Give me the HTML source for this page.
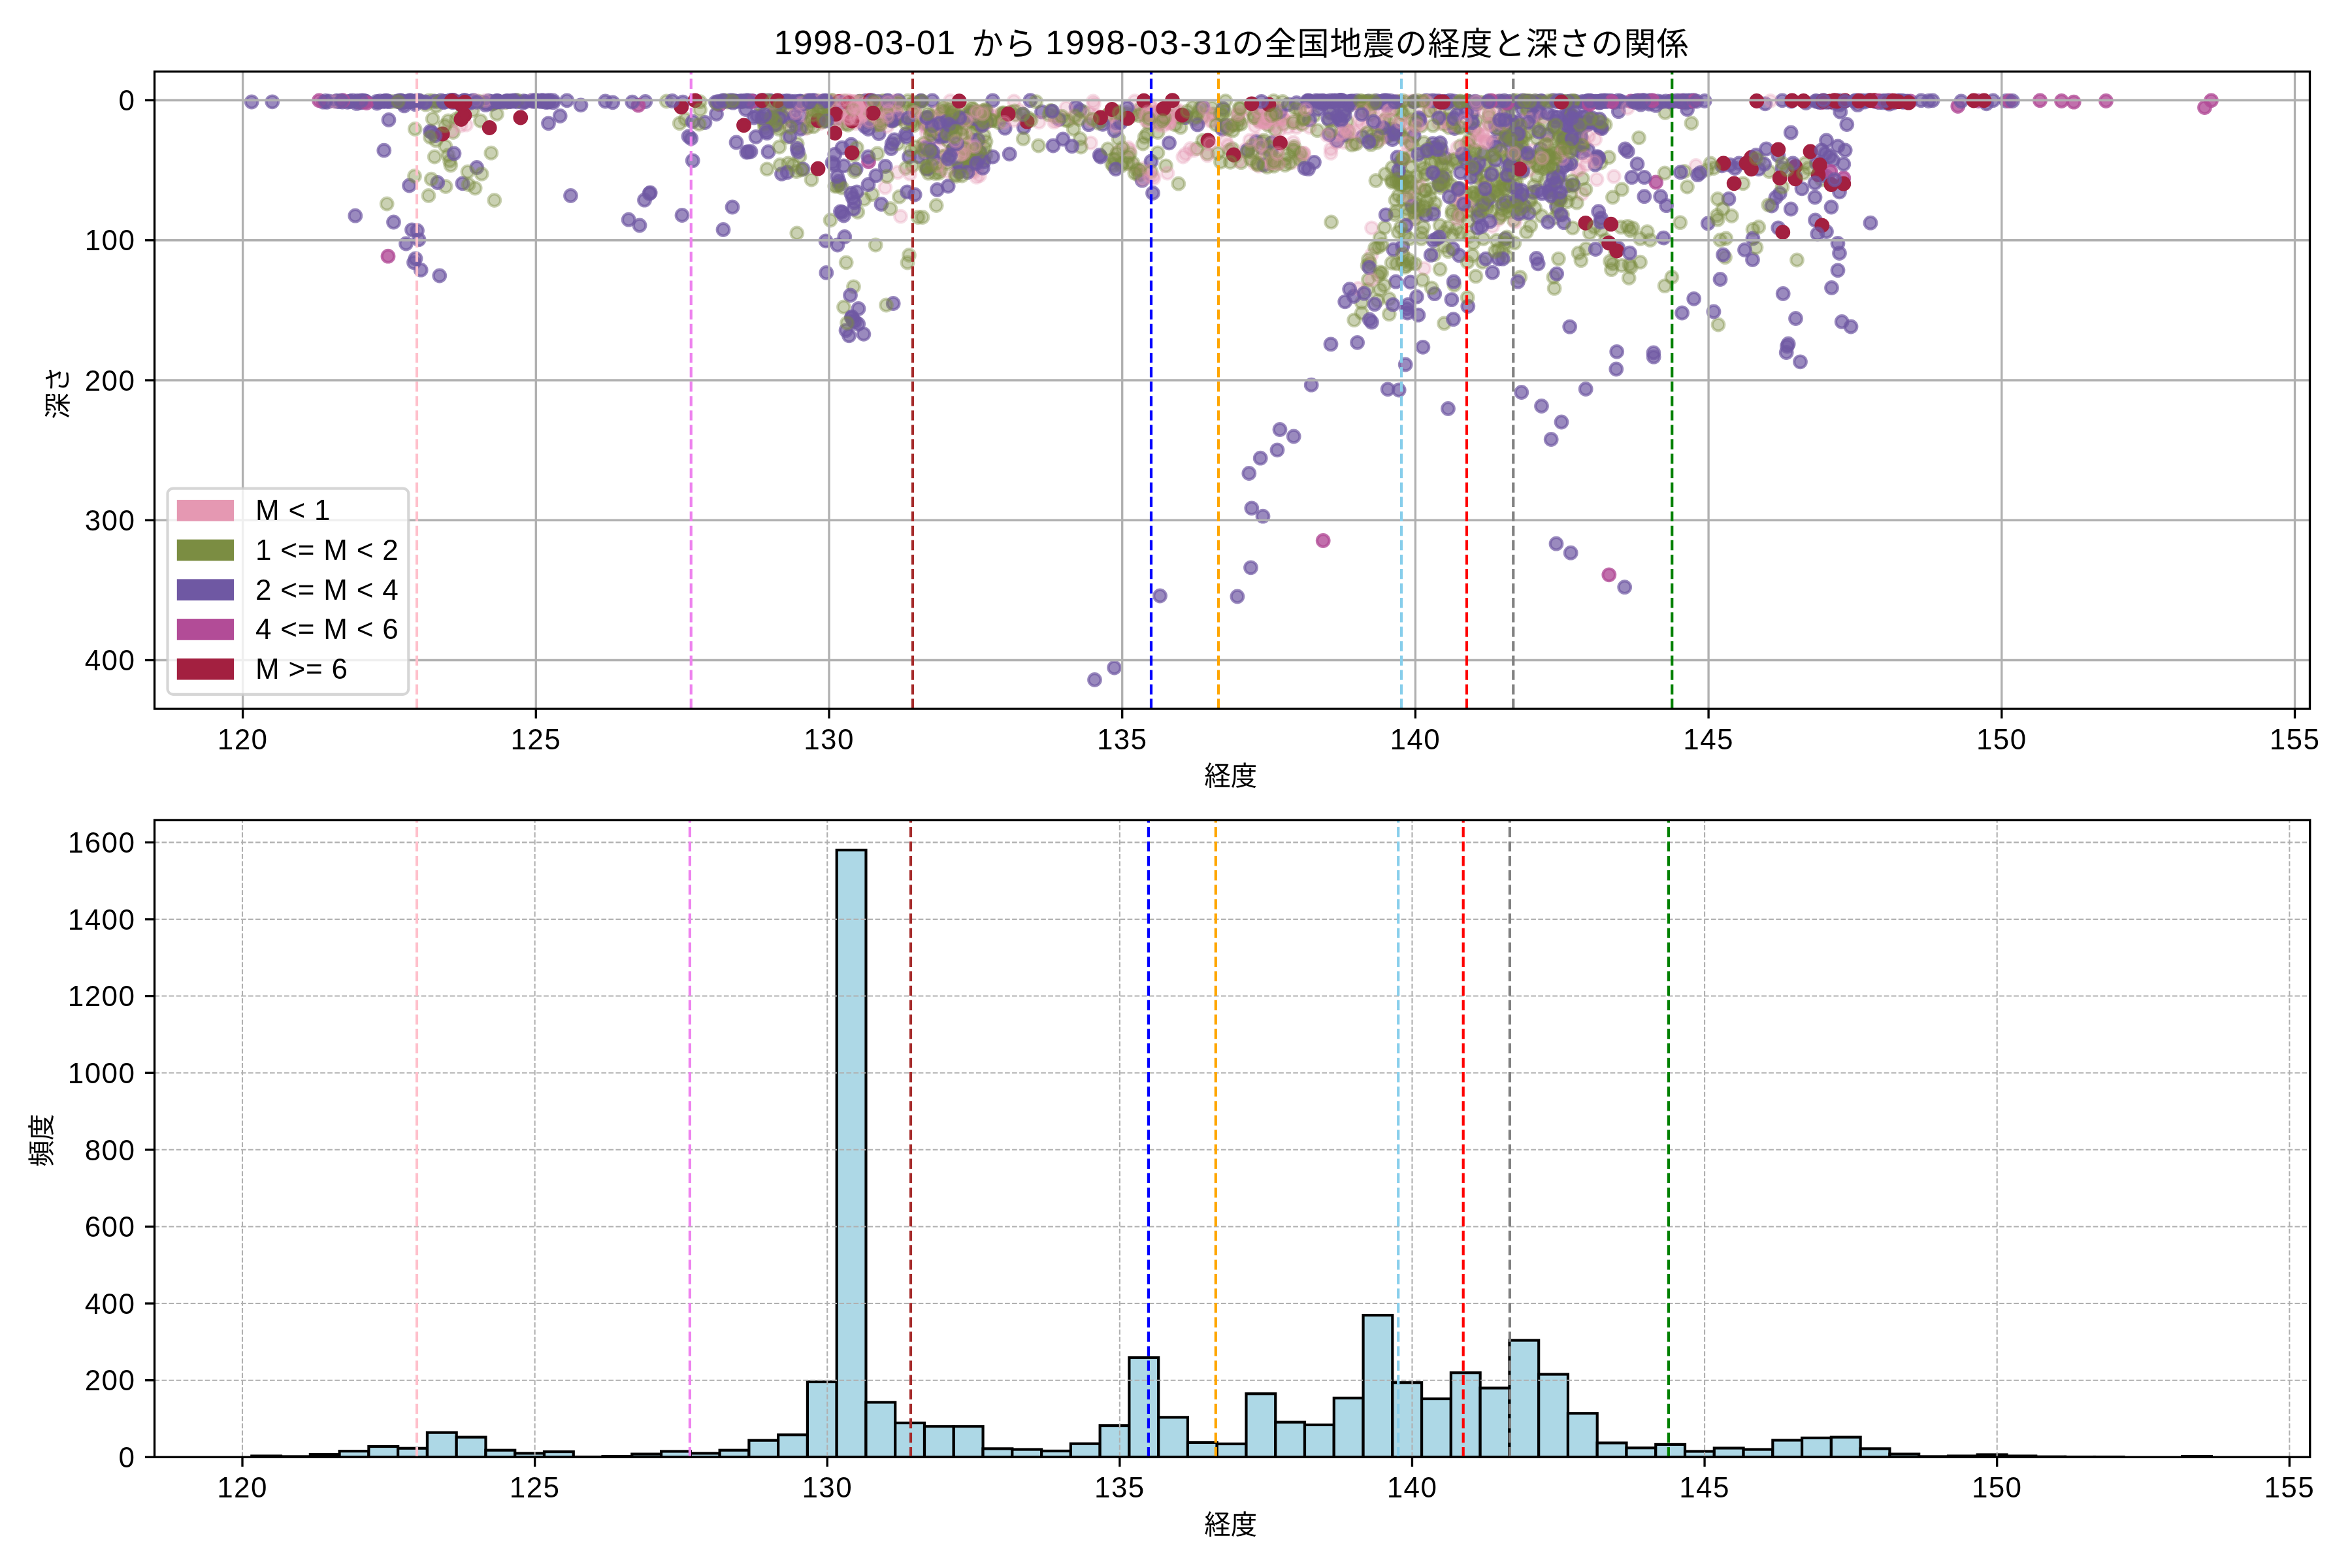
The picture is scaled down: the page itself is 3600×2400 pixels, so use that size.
<!DOCTYPE html><html lang="ja"><head><meta charset="utf-8"><title>地震の経度と深さ</title><style>html,body{margin:0;padding:0;background:#fff}svg{display:block;will-change:transform}text{font-family:"Liberation Sans","Noto Sans CJK JP",sans-serif;fill:#000}.t{font-size:44px;letter-spacing:1.4px}.lg{font-size:44px;letter-spacing:0.8px}.j{font-size:40.5px}
.p{fill:#E598B2;fill-opacity:0.3;stroke:#E598B2;stroke-opacity:0.3;stroke-width:4.17}
.g{fill:#7B8D42;fill-opacity:0.4;stroke:#7B8D42;stroke-opacity:0.4;stroke-width:4.17}
.u{fill:#6F58A3;fill-opacity:0.7;stroke:#6F58A3;stroke-opacity:0.7;stroke-width:4.17}
.m{fill:#B24C97;fill-opacity:0.8;stroke:#B24C97;stroke-opacity:0.8;stroke-width:4.17}
.c{fill:#A32040;fill-opacity:1;stroke:#A32040;stroke-opacity:1;stroke-width:4.17}
.g1{stroke:#b0b0b0;stroke-width:3.33}.g2{stroke:#b0b0b0;stroke-width:2.08;stroke-dasharray:7.7 3.33}.sp{fill:none;stroke:#000;stroke-width:3.33;stroke-linejoin:miter}.tk{stroke:#000;stroke-width:3.33}.vl{stroke-width:4.17;stroke-dasharray:15.4 6.67}.bar{fill:#ADD8E6;stroke:#000;stroke-width:4.17;stroke-linejoin:miter}
</style></head><body>
<svg width="3600" height="2400" viewBox="0 0 3600 2400">
<rect width="3600" height="2400" fill="#fff"/>
<defs><clipPath id="ct"><rect x="236.5" y="109.5" width="3299" height="975.5"/></clipPath><clipPath id="cb"><rect x="236.5" y="1255.4" width="3299.2" height="974.9"/></clipPath></defs>
<g clip-path="url(#ct)">
<circle class="u" cx="1159.0" cy="177.5" r="9.32"/>
<circle class="g" cx="698.5" cy="182.5" r="9.32"/>
<circle class="u" cx="627.8" cy="155.1" r="9.32"/>
<circle class="g" cx="2171.3" cy="326.1" r="9.32"/>
<circle class="u" cx="2124.2" cy="595.8" r="9.32"/>
<circle class="g" cx="2391.6" cy="329.0" r="9.32"/>
<circle class="u" cx="1218.1" cy="192.0" r="9.32"/>
<circle class="g" cx="2319.5" cy="306.0" r="9.32"/>
<circle class="p" cx="2162.8" cy="336.8" r="9.32"/>
<circle class="g" cx="2196.4" cy="311.3" r="9.32"/>
<circle class="g" cx="2352.8" cy="270.1" r="9.32"/>
<circle class="g" cx="2167.5" cy="303.5" r="9.32"/>
<circle class="u" cx="2131.2" cy="204.5" r="9.32"/>
<circle class="g" cx="2059.8" cy="166.9" r="9.32"/>
<circle class="g" cx="2365.7" cy="275.6" r="9.32"/>
<circle class="g" cx="2205.1" cy="286.7" r="9.32"/>
<circle class="u" cx="1236.8" cy="154.1" r="9.32"/>
<circle class="g" cx="2305.2" cy="240.7" r="9.32"/>
<circle class="g" cx="2462.6" cy="240.8" r="9.32"/>
<circle class="u" cx="2724.2" cy="296.2" r="9.32"/>
<circle class="u" cx="2314.1" cy="189.4" r="9.32"/>
<circle class="u" cx="2430.8" cy="155.3" r="9.32"/>
<circle class="g" cx="1509.1" cy="216.8" r="9.32"/>
<circle class="g" cx="2424.1" cy="224.6" r="9.32"/>
<circle class="p" cx="1374.2" cy="175.0" r="9.32"/>
<circle class="u" cx="3040.5" cy="158.8" r="9.32"/>
<circle class="g" cx="2183.4" cy="266.3" r="9.32"/>
<circle class="u" cx="2068.0" cy="155.5" r="9.32"/>
<circle class="m" cx="2534.7" cy="279.0" r="9.32"/>
<circle class="u" cx="503.7" cy="154.8" r="9.32"/>
<circle class="u" cx="753.2" cy="159.1" r="9.32"/>
<circle class="u" cx="831.5" cy="153.8" r="9.32"/>
<circle class="g" cx="1758.7" cy="189.4" r="9.32"/>
<circle class="u" cx="626.5" cy="284.0" r="9.32"/>
<circle class="p" cx="1258.6" cy="163.2" r="9.32"/>
<circle class="u" cx="2813.0" cy="413.8" r="9.32"/>
<circle class="p" cx="1929.7" cy="174.9" r="9.32"/>
<circle class="u" cx="2106.8" cy="154.5" r="9.32"/>
<circle class="u" cx="2497.7" cy="271.4" r="9.32"/>
<circle class="u" cx="2437.0" cy="180.6" r="9.32"/>
<circle class="g" cx="2464.5" cy="399.9" r="9.32"/>
<circle class="p" cx="2156.0" cy="216.5" r="9.32"/>
<circle class="u" cx="2407.6" cy="178.4" r="9.32"/>
<circle class="u" cx="995.2" cy="295.0" r="9.32"/>
<circle class="u" cx="1932.0" cy="226.2" r="9.32"/>
<circle class="p" cx="1552.0" cy="154.8" r="9.32"/>
<circle class="g" cx="1941.2" cy="191.6" r="9.32"/>
<circle class="g" cx="1306.5" cy="237.5" r="9.32"/>
<circle class="p" cx="1312.6" cy="164.6" r="9.32"/>
<circle class="g" cx="2218.1" cy="195.3" r="9.32"/>
<circle class="u" cx="1107.8" cy="154.5" r="9.32"/>
<circle class="p" cx="1731.1" cy="174.0" r="9.32"/>
<circle class="u" cx="2330.5" cy="153.9" r="9.32"/>
<circle class="u" cx="1955.0" cy="688.8" r="9.32"/>
<circle class="p" cx="1368.3" cy="172.7" r="9.32"/>
<circle class="g" cx="613.7" cy="154.5" r="9.32"/>
<circle class="g" cx="2165.9" cy="334.6" r="9.32"/>
<circle class="g" cx="1492.2" cy="184.4" r="9.32"/>
<circle class="g" cx="2668.0" cy="280.8" r="9.32"/>
<circle class="u" cx="1364.0" cy="227.5" r="9.32"/>
<circle class="u" cx="2299.7" cy="312.7" r="9.32"/>
<circle class="u" cx="987.8" cy="155.5" r="9.32"/>
<circle class="u" cx="2193.7" cy="226.7" r="9.32"/>
<circle class="u" cx="986.5" cy="306.2" r="9.32"/>
<circle class="g" cx="1249.6" cy="154.2" r="9.32"/>
<circle class="u" cx="2479.6" cy="155.0" r="9.32"/>
<circle class="g" cx="2304.2" cy="198.8" r="9.32"/>
<circle class="g" cx="1767.0" cy="175.0" r="9.32"/>
<circle class="g" cx="1276.2" cy="179.9" r="9.32"/>
<circle class="g" cx="642.5" cy="154.1" r="9.32"/>
<circle class="g" cx="2335.8" cy="235.3" r="9.32"/>
<circle class="p" cx="1919.5" cy="250.0" r="9.32"/>
<circle class="g" cx="2270.4" cy="365.5" r="9.32"/>
<circle class="u" cx="2451.7" cy="196.6" r="9.32"/>
<circle class="g" cx="1456.8" cy="197.9" r="9.32"/>
<circle class="g" cx="2385.5" cy="396.1" r="9.32"/>
<circle class="g" cx="1322.8" cy="305.0" r="9.32"/>
<circle class="u" cx="2177.9" cy="531.3" r="9.32"/>
<circle class="g" cx="1745.5" cy="266.7" r="9.32"/>
<circle class="u" cx="633.5" cy="401.8" r="9.32"/>
<circle class="g" cx="1533.4" cy="181.2" r="9.32"/>
<circle class="u" cx="559.7" cy="155.1" r="9.32"/>
<circle class="g" cx="1293.9" cy="189.5" r="9.32"/>
<circle class="u" cx="2158.8" cy="431.8" r="9.32"/>
<circle class="u" cx="2487.5" cy="228.0" r="9.32"/>
<circle class="g" cx="2153.9" cy="271.3" r="9.32"/>
<circle class="u" cx="1315.5" cy="155.1" r="9.32"/>
<circle class="u" cx="2486.7" cy="898.7" r="9.32"/>
<circle class="g" cx="1742.6" cy="267.9" r="9.32"/>
<circle class="g" cx="2122.2" cy="209.5" r="9.32"/>
<circle class="g" cx="2331.0" cy="227.1" r="9.32"/>
<circle class="u" cx="2429.3" cy="155.0" r="9.32"/>
<circle class="u" cx="2382.6" cy="316.1" r="9.32"/>
<circle class="p" cx="1294.7" cy="178.7" r="9.32"/>
<circle class="p" cx="1345.5" cy="164.8" r="9.32"/>
<circle class="p" cx="1326.3" cy="154.6" r="9.32"/>
<circle class="g" cx="2416.1" cy="387.2" r="9.32"/>
<circle class="u" cx="658.5" cy="201.2" r="9.32"/>
<circle class="g" cx="2320.2" cy="153.7" r="9.32"/>
<circle class="g" cx="2257.4" cy="233.6" r="9.32"/>
<circle class="p" cx="1940.3" cy="161.7" r="9.32"/>
<circle class="u" cx="2330.3" cy="167.4" r="9.32"/>
<circle class="g" cx="1373.8" cy="166.1" r="9.32"/>
<circle class="g" cx="2158.8" cy="204.0" r="9.32"/>
<circle class="g" cx="2253.4" cy="156.7" r="9.32"/>
<circle class="u" cx="2378.1" cy="194.1" r="9.32"/>
<circle class="u" cx="2225.8" cy="154.8" r="9.32"/>
<circle class="p" cx="2147.3" cy="389.1" r="9.32"/>
<circle class="g" cx="2061.6" cy="186.3" r="9.32"/>
<circle class="p" cx="2093.4" cy="191.4" r="9.32"/>
<circle class="g" cx="2468.4" cy="302.0" r="9.32"/>
<circle class="g" cx="2210.3" cy="190.3" r="9.32"/>
<circle class="g" cx="1471.5" cy="184.2" r="9.32"/>
<circle class="p" cx="1803.6" cy="168.9" r="9.32"/>
<circle class="g" cx="1136.7" cy="155.8" r="9.32"/>
<circle class="g" cx="2210.5" cy="495.0" r="9.32"/>
<circle class="u" cx="1705.6" cy="1022.0" r="9.32"/>
<circle class="u" cx="2429.0" cy="177.3" r="9.32"/>
<circle class="g" cx="1857.0" cy="175.0" r="9.32"/>
<circle class="g" cx="1439.9" cy="260.7" r="9.32"/>
<circle class="u" cx="1484.5" cy="177.5" r="9.32"/>
<circle class="u" cx="2076.2" cy="154.4" r="9.32"/>
<circle class="p" cx="1500.7" cy="193.4" r="9.32"/>
<circle class="u" cx="2525.1" cy="155.1" r="9.32"/>
<circle class="p" cx="2117.8" cy="185.6" r="9.32"/>
<circle class="g" cx="2100.1" cy="206.9" r="9.32"/>
<circle class="p" cx="1934.0" cy="183.6" r="9.32"/>
<circle class="u" cx="1194.0" cy="163.8" r="9.32"/>
<circle class="g" cx="1747.0" cy="172.5" r="9.32"/>
<circle class="p" cx="2413.7" cy="260.7" r="9.32"/>
<circle class="g" cx="600.4" cy="155.5" r="9.32"/>
<circle class="u" cx="1241.6" cy="154.9" r="9.32"/>
<circle class="p" cx="1560.8" cy="169.3" r="9.32"/>
<circle class="u" cx="2246.8" cy="468.8" r="9.32"/>
<circle class="g" cx="2175.0" cy="193.0" r="9.32"/>
<circle class="u" cx="2815.5" cy="387.5" r="9.32"/>
<circle class="u" cx="2566.7" cy="153.9" r="9.32"/>
<circle class="p" cx="2293.5" cy="335.9" r="9.32"/>
<circle class="p" cx="2346.4" cy="229.7" r="9.32"/>
<circle class="u" cx="1171.3" cy="155.8" r="9.32"/>
<circle class="u" cx="2195.8" cy="449.7" r="9.32"/>
<circle class="u" cx="2920.4" cy="155.7" r="9.32"/>
<circle class="p" cx="1399.6" cy="170.2" r="9.32"/>
<circle class="u" cx="2661.8" cy="250.0" r="9.32"/>
<circle class="p" cx="2042.6" cy="182.1" r="9.32"/>
<circle class="u" cx="2262.0" cy="321.5" r="9.32"/>
<circle class="g" cx="1242.1" cy="180.7" r="9.32"/>
<circle class="g" cx="1499.2" cy="190.6" r="9.32"/>
<circle class="p" cx="1921.6" cy="168.4" r="9.32"/>
<circle class="g" cx="1321.6" cy="177.7" r="9.32"/>
<circle class="g" cx="2418.7" cy="217.1" r="9.32"/>
<circle class="g" cx="2378.8" cy="333.7" r="9.32"/>
<circle class="g" cx="1040.2" cy="188.8" r="9.32"/>
<circle class="g" cx="2405.9" cy="244.1" r="9.32"/>
<circle class="g" cx="2136.0" cy="306.2" r="9.32"/>
<circle class="u" cx="2307.2" cy="198.9" r="9.32"/>
<circle class="g" cx="2040.0" cy="167.6" r="9.32"/>
<circle class="m" cx="2471.0" cy="156.4" r="9.32"/>
<circle class="g" cx="2150.5" cy="408.9" r="9.32"/>
<circle class="g" cx="2368.2" cy="238.5" r="9.32"/>
<circle class="u" cx="2143.9" cy="248.6" r="9.32"/>
<circle class="u" cx="758.1" cy="156.8" r="9.32"/>
<circle class="u" cx="1306.0" cy="490.7" r="9.32"/>
<circle class="u" cx="2373.4" cy="283.4" r="9.32"/>
<circle class="p" cx="2595.9" cy="253.5" r="9.32"/>
<circle class="g" cx="2340.7" cy="306.9" r="9.32"/>
<circle class="p" cx="1311.8" cy="169.5" r="9.32"/>
<circle class="g" cx="2348.2" cy="176.6" r="9.32"/>
<circle class="p" cx="1460.4" cy="218.1" r="9.32"/>
<circle class="u" cx="602.5" cy="340.0" r="9.32"/>
<circle class="u" cx="2823.0" cy="154.5" r="9.32"/>
<circle class="u" cx="588.8" cy="154.7" r="9.32"/>
<circle class="g" cx="2359.6" cy="330.5" r="9.32"/>
<circle class="u" cx="2369.5" cy="340.0" r="9.32"/>
<circle class="p" cx="1323.1" cy="155.9" r="9.32"/>
<circle class="g" cx="1755.8" cy="205.0" r="9.32"/>
<circle class="g" cx="2254.2" cy="316.2" r="9.32"/>
<circle class="u" cx="926.5" cy="155.0" r="9.32"/>
<circle class="u" cx="1708.2" cy="187.5" r="9.32"/>
<circle class="g" cx="2164.4" cy="294.9" r="9.32"/>
<circle class="g" cx="2422.4" cy="273.3" r="9.32"/>
<circle class="u" cx="2577.5" cy="153.7" r="9.32"/>
<circle class="g" cx="2548.1" cy="437.6" r="9.32"/>
<circle class="p" cx="1446.5" cy="173.6" r="9.32"/>
<circle class="u" cx="2122.0" cy="154.0" r="9.32"/>
<circle class="g" cx="2320.7" cy="278.3" r="9.32"/>
<circle class="u" cx="2393.8" cy="340.6" r="9.32"/>
<circle class="u" cx="2779.7" cy="154.3" r="9.32"/>
<circle class="u" cx="2442.5" cy="155.1" r="9.32"/>
<circle class="u" cx="832.3" cy="154.6" r="9.32"/>
<circle class="g" cx="2225.8" cy="436.3" r="9.32"/>
<circle class="g" cx="1687.0" cy="185.0" r="9.32"/>
<circle class="g" cx="1712.0" cy="212.5" r="9.32"/>
<circle class="g" cx="1442.0" cy="172.5" r="9.32"/>
<circle class="g" cx="1352.9" cy="154.4" r="9.32"/>
<circle class="p" cx="2153.0" cy="205.9" r="9.32"/>
<circle class="u" cx="2456.3" cy="154.0" r="9.32"/>
<circle class="p" cx="1293.4" cy="172.5" r="9.32"/>
<circle class="p" cx="2041.9" cy="210.3" r="9.32"/>
<circle class="g" cx="1848.0" cy="235.2" r="9.32"/>
<circle class="g" cx="2283.1" cy="264.9" r="9.32"/>
<circle class="g" cx="1114.5" cy="156.1" r="9.32"/>
<circle class="u" cx="2226.5" cy="196.5" r="9.32"/>
<circle class="g" cx="2388.5" cy="155.0" r="9.32"/>
<circle class="u" cx="2397.8" cy="284.4" r="9.32"/>
<circle class="g" cx="1224.0" cy="240.0" r="9.32"/>
<circle class="u" cx="2401.3" cy="187.3" r="9.32"/>
<circle class="g" cx="1189.0" cy="192.5" r="9.32"/>
<circle class="u" cx="1225.7" cy="155.1" r="9.32"/>
<circle class="g" cx="2457.5" cy="367.4" r="9.32"/>
<circle class="p" cx="2421.2" cy="296.9" r="9.32"/>
<circle class="g" cx="2340.5" cy="203.0" r="9.32"/>
<circle class="u" cx="2844.3" cy="153.9" r="9.32"/>
<circle class="u" cx="2139.0" cy="240.6" r="9.32"/>
<circle class="p" cx="2163.9" cy="321.3" r="9.32"/>
<circle class="m" cx="1101.5" cy="160.0" r="9.32"/>
<circle class="u" cx="2427.2" cy="595.5" r="9.32"/>
<circle class="g" cx="1295.2" cy="401.8" r="9.32"/>
<circle class="g" cx="760.5" cy="174.5" r="9.32"/>
<circle class="g" cx="2062.5" cy="208.7" r="9.32"/>
<circle class="g" cx="1957.6" cy="181.0" r="9.32"/>
<circle class="u" cx="1416.5" cy="189.9" r="9.32"/>
<circle class="u" cx="2728.0" cy="153.8" r="9.32"/>
<circle class="u" cx="2003.0" cy="155.0" r="9.32"/>
<circle class="p" cx="1669.5" cy="218.8" r="9.32"/>
<circle class="g" cx="1752.0" cy="210.0" r="9.32"/>
<circle class="g" cx="2216.8" cy="347.7" r="9.32"/>
<circle class="u" cx="2321.3" cy="217.1" r="9.32"/>
<circle class="u" cx="1179.5" cy="181.7" r="9.32"/>
<circle class="p" cx="1298.0" cy="180.0" r="9.32"/>
<circle class="p" cx="1923.2" cy="213.1" r="9.32"/>
<circle class="p" cx="1869.0" cy="193.6" r="9.32"/>
<circle class="u" cx="3070.5" cy="154.5" r="9.32"/>
<circle class="p" cx="1245.8" cy="155.9" r="9.32"/>
<circle class="p" cx="1752.0" cy="257.5" r="9.32"/>
<circle class="g" cx="2420.4" cy="210.9" r="9.32"/>
<circle class="g" cx="2630.0" cy="497.0" r="9.32"/>
<circle class="g" cx="1940.8" cy="169.4" r="9.32"/>
<circle class="u" cx="1211.5" cy="185.0" r="9.32"/>
<circle class="g" cx="1170.6" cy="195.6" r="9.32"/>
<circle class="u" cx="2368.6" cy="206.4" r="9.32"/>
<circle class="u" cx="2701.8" cy="158.8" r="9.32"/>
<circle class="g" cx="2420.3" cy="223.6" r="9.32"/>
<circle class="g" cx="1186.5" cy="163.3" r="9.32"/>
<circle class="u" cx="2721.8" cy="238.0" r="9.32"/>
<circle class="g" cx="1480.7" cy="238.0" r="9.32"/>
<circle class="u" cx="1420.5" cy="183.3" r="9.32"/>
<circle class="g" cx="727.2" cy="288.0" r="9.32"/>
<circle class="u" cx="2537.4" cy="154.9" r="9.32"/>
<circle class="u" cx="2899.3" cy="155.1" r="9.32"/>
<circle class="u" cx="2473.8" cy="565.0" r="9.32"/>
<circle class="p" cx="1939.5" cy="185.0" r="9.32"/>
<circle class="m" cx="2924.2" cy="155.0" r="9.32"/>
<circle class="p" cx="1418.2" cy="203.0" r="9.32"/>
<circle class="u" cx="1429.5" cy="210.0" r="9.32"/>
<circle class="u" cx="3050.5" cy="153.8" r="9.32"/>
<circle class="p" cx="2289.0" cy="220.5" r="9.32"/>
<circle class="g" cx="2112.2" cy="364.2" r="9.32"/>
<circle class="u" cx="2193.2" cy="219.7" r="9.32"/>
<circle class="g" cx="1522.3" cy="184.6" r="9.32"/>
<circle class="u" cx="611.1" cy="155.6" r="9.32"/>
<circle class="g" cx="2337.6" cy="167.9" r="9.32"/>
<circle class="g" cx="1204.0" cy="210.0" r="9.32"/>
<circle class="u" cx="2322.2" cy="216.0" r="9.32"/>
<circle class="p" cx="1309.6" cy="162.3" r="9.32"/>
<circle class="g" cx="2243.8" cy="295.9" r="9.32"/>
<circle class="u" cx="2057.0" cy="169.8" r="9.32"/>
<circle class="g" cx="2153.3" cy="304.3" r="9.32"/>
<circle class="g" cx="1807.0" cy="195.0" r="9.32"/>
<circle class="u" cx="1870.8" cy="197.5" r="9.32"/>
<circle class="p" cx="2332.7" cy="194.5" r="9.32"/>
<circle class="p" cx="2173.9" cy="177.7" r="9.32"/>
<circle class="u" cx="1192.0" cy="155.1" r="9.32"/>
<circle class="g" cx="2381.7" cy="253.3" r="9.32"/>
<circle class="p" cx="1314.7" cy="185.3" r="9.32"/>
<circle class="g" cx="1356.5" cy="173.8" r="9.32"/>
<circle class="g" cx="656.6" cy="153.8" r="9.32"/>
<circle class="p" cx="1984.5" cy="195.0" r="9.32"/>
<circle class="u" cx="2216.5" cy="625.5" r="9.32"/>
<circle class="u" cx="1683.2" cy="237.5" r="9.32"/>
<circle class="u" cx="2598.5" cy="267.6" r="9.32"/>
<circle class="u" cx="1044.0" cy="329.5" r="9.32"/>
<circle class="g" cx="2235.9" cy="288.9" r="9.32"/>
<circle class="p" cx="1331.2" cy="175.8" r="9.32"/>
<circle class="g" cx="2317.9" cy="371.9" r="9.32"/>
<circle class="u" cx="2285.7" cy="217.8" r="9.32"/>
<circle class="g" cx="723.5" cy="168.8" r="9.32"/>
<circle class="p" cx="1875.9" cy="215.6" r="9.32"/>
<circle class="g" cx="1798.8" cy="190.9" r="9.32"/>
<circle class="p" cx="2226.6" cy="156.1" r="9.32"/>
<circle class="u" cx="1485.5" cy="250.8" r="9.32"/>
<circle class="p" cx="1762.4" cy="165.0" r="9.32"/>
<circle class="u" cx="2093.9" cy="154.8" r="9.32"/>
<circle class="p" cx="1959.9" cy="174.6" r="9.32"/>
<circle class="p" cx="2142.9" cy="155.9" r="9.32"/>
<circle class="g" cx="1376.5" cy="301.2" r="9.32"/>
<circle class="p" cx="1328.9" cy="168.5" r="9.32"/>
<circle class="g" cx="2214.1" cy="276.2" r="9.32"/>
<circle class="u" cx="820.4" cy="154.5" r="9.32"/>
<circle class="g" cx="2093.1" cy="406.3" r="9.32"/>
<circle class="u" cx="2883.0" cy="155.0" r="9.32"/>
<circle class="u" cx="2805.5" cy="245.0" r="9.32"/>
<circle class="u" cx="2303.6" cy="190.0" r="9.32"/>
<circle class="u" cx="1762.0" cy="247.0" r="9.32"/>
<circle class="p" cx="1312.6" cy="170.1" r="9.32"/>
<circle class="g" cx="2126.3" cy="457.3" r="9.32"/>
<circle class="p" cx="2037.0" cy="228.0" r="9.32"/>
<circle class="p" cx="1316.5" cy="181.9" r="9.32"/>
<circle class="g" cx="2297.7" cy="182.9" r="9.32"/>
<circle class="u" cx="591.2" cy="154.2" r="9.32"/>
<circle class="g" cx="1931.9" cy="217.8" r="9.32"/>
<circle class="u" cx="2036.3" cy="173.0" r="9.32"/>
<circle class="p" cx="2057.1" cy="217.6" r="9.32"/>
<circle class="u" cx="1277.8" cy="236.2" r="9.32"/>
<circle class="g" cx="2146.8" cy="211.2" r="9.32"/>
<circle class="u" cx="2448.7" cy="194.9" r="9.32"/>
<circle class="u" cx="2232.8" cy="288.4" r="9.32"/>
<circle class="g" cx="1992.0" cy="240.0" r="9.32"/>
<circle class="p" cx="1325.0" cy="169.2" r="9.32"/>
<circle class="g" cx="1317.0" cy="155.1" r="9.32"/>
<circle class="u" cx="706.4" cy="160.9" r="9.32"/>
<circle class="g" cx="2288.6" cy="260.3" r="9.32"/>
<circle class="u" cx="1458.9" cy="229.0" r="9.32"/>
<circle class="u" cx="1225.3" cy="177.2" r="9.32"/>
<circle class="u" cx="839.5" cy="188.8" r="9.32"/>
<circle class="g" cx="1374.0" cy="220.0" r="9.32"/>
<circle class="p" cx="1328.0" cy="172.0" r="9.32"/>
<circle class="u" cx="2016.6" cy="156.4" r="9.32"/>
<circle class="g" cx="1634.5" cy="185.0" r="9.32"/>
<circle class="u" cx="1359.0" cy="153.8" r="9.32"/>
<circle class="g" cx="2380.2" cy="287.9" r="9.32"/>
<circle class="g" cx="1453.8" cy="193.6" r="9.32"/>
<circle class="u" cx="2758.0" cy="288.8" r="9.32"/>
<circle class="p" cx="2340.7" cy="260.3" r="9.32"/>
<circle class="u" cx="2807.5" cy="157.7" r="9.32"/>
<circle class="p" cx="2179.8" cy="410.8" r="9.32"/>
<circle class="g" cx="2090.8" cy="155.4" r="9.32"/>
<circle class="p" cx="1301.3" cy="156.0" r="9.32"/>
<circle class="u" cx="839.0" cy="155.2" r="9.32"/>
<circle class="g" cx="1754.9" cy="171.2" r="9.32"/>
<circle class="u" cx="2506.2" cy="154.2" r="9.32"/>
<circle class="u" cx="1980.2" cy="668.0" r="9.32"/>
<circle class="g" cx="2496.4" cy="408.9" r="9.32"/>
<circle class="u" cx="1321.9" cy="511.3" r="9.32"/>
<circle class="g" cx="2096.9" cy="402.5" r="9.32"/>
<circle class="u" cx="1196.5" cy="266.2" r="9.32"/>
<circle class="g" cx="2254.3" cy="302.6" r="9.32"/>
<circle class="p" cx="1234.9" cy="154.0" r="9.32"/>
<circle class="u" cx="2154.3" cy="479.0" r="9.32"/>
<circle class="p" cx="1960.4" cy="179.1" r="9.32"/>
<circle class="p" cx="2247.2" cy="155.5" r="9.32"/>
<circle class="u" cx="2392.2" cy="228.6" r="9.32"/>
<circle class="u" cx="2891.9" cy="159.1" r="9.32"/>
<circle class="u" cx="2377.9" cy="153.6" r="9.32"/>
<circle class="m" cx="2496.2" cy="155.0" r="9.32"/>
<circle class="u" cx="2476.7" cy="379.5" r="9.32"/>
<circle class="g" cx="2419.1" cy="202.5" r="9.32"/>
<circle class="p" cx="2335.9" cy="182.2" r="9.32"/>
<circle class="u" cx="2508.6" cy="154.0" r="9.32"/>
<circle class="g" cx="2339.6" cy="154.1" r="9.32"/>
<circle class="p" cx="1336.9" cy="164.1" r="9.32"/>
<circle class="u" cx="682.0" cy="155.4" r="9.32"/>
<circle class="u" cx="2863.0" cy="341.2" r="9.32"/>
<circle class="u" cx="2382.0" cy="832.2" r="9.32"/>
<circle class="u" cx="2794.2" cy="235.0" r="9.32"/>
<circle class="g" cx="1355.7" cy="156.6" r="9.32"/>
<circle class="u" cx="640.4" cy="153.8" r="9.32"/>
<circle class="g" cx="2270.2" cy="157.2" r="9.32"/>
<circle class="u" cx="774.8" cy="154.6" r="9.32"/>
<circle class="g" cx="682.2" cy="285.5" r="9.32"/>
<circle class="p" cx="1932.2" cy="174.6" r="9.32"/>
<circle class="u" cx="1577.0" cy="153.6" r="9.32"/>
<circle class="u" cx="2531.2" cy="546.2" r="9.32"/>
<circle class="u" cx="1285.2" cy="282.5" r="9.32"/>
<circle class="u" cx="2430.6" cy="229.5" r="9.32"/>
<circle class="g" cx="1259.1" cy="186.3" r="9.32"/>
<circle class="g" cx="2097.0" cy="175.1" r="9.32"/>
<circle class="p" cx="1211.5" cy="176.2" r="9.32"/>
<circle class="u" cx="1264.8" cy="417.5" r="9.32"/>
<circle class="g" cx="1553.0" cy="169.9" r="9.32"/>
<circle class="u" cx="2058.2" cy="206.3" r="9.32"/>
<circle class="g" cx="1312.8" cy="324.5" r="9.32"/>
<circle class="u" cx="2183.2" cy="154.0" r="9.32"/>
<circle class="u" cx="1345.2" cy="204.5" r="9.32"/>
<circle class="u" cx="2897.7" cy="157.4" r="9.32"/>
<circle class="u" cx="2813.0" cy="372.5" r="9.32"/>
<circle class="p" cx="2270.0" cy="207.5" r="9.32"/>
<circle class="g" cx="1413.6" cy="219.6" r="9.32"/>
<circle class="p" cx="1767.4" cy="172.3" r="9.32"/>
<circle class="u" cx="2741.8" cy="155.0" r="9.32"/>
<circle class="p" cx="1324.4" cy="166.8" r="9.32"/>
<circle class="u" cx="1125.0" cy="154.6" r="9.32"/>
<circle class="p" cx="1674.5" cy="158.8" r="9.32"/>
<circle class="u" cx="2358.0" cy="227.8" r="9.32"/>
<circle class="g" cx="2157.5" cy="277.1" r="9.32"/>
<circle class="g" cx="2280.5" cy="190.2" r="9.32"/>
<circle class="u" cx="2353.6" cy="291.9" r="9.32"/>
<circle class="g" cx="2357.8" cy="235.4" r="9.32"/>
<circle class="p" cx="1797.0" cy="177.5" r="9.32"/>
<circle class="u" cx="2951.8" cy="154.5" r="9.32"/>
<circle class="g" cx="1509.0" cy="237.2" r="9.32"/>
<circle class="g" cx="1442.5" cy="239.7" r="9.32"/>
<circle class="u" cx="2393.1" cy="211.5" r="9.32"/>
<circle class="g" cx="2393.9" cy="155.9" r="9.32"/>
<circle class="u" cx="747.6" cy="154.5" r="9.32"/>
<circle class="g" cx="2135.2" cy="167.2" r="9.32"/>
<circle class="u" cx="1594.5" cy="171.2" r="9.32"/>
<circle class="u" cx="1488.7" cy="172.6" r="9.32"/>
<circle class="u" cx="2255.8" cy="157.5" r="9.32"/>
<circle class="g" cx="1460.5" cy="169.3" r="9.32"/>
<circle class="g" cx="1886.2" cy="227.6" r="9.32"/>
<circle class="u" cx="2843.4" cy="160.7" r="9.32"/>
<circle class="p" cx="1305.7" cy="155.5" r="9.32"/>
<circle class="u" cx="546.7" cy="154.3" r="9.32"/>
<circle class="g" cx="1926.8" cy="183.6" r="9.32"/>
<circle class="u" cx="545.9" cy="158.4" r="9.32"/>
<circle class="g" cx="1980.8" cy="224.3" r="9.32"/>
<circle class="g" cx="2582.5" cy="286.0" r="9.32"/>
<circle class="u" cx="1933.0" cy="790.2" r="9.32"/>
<circle class="g" cx="2160.0" cy="278.8" r="9.32"/>
<circle class="p" cx="1353.7" cy="163.6" r="9.32"/>
<circle class="g" cx="1745.8" cy="166.1" r="9.32"/>
<circle class="g" cx="1335.2" cy="297.5" r="9.32"/>
<circle class="u" cx="1204.0" cy="155.1" r="9.32"/>
<circle class="u" cx="1932.0" cy="164.5" r="9.32"/>
<circle class="g" cx="1389.7" cy="154.1" r="9.32"/>
<circle class="u" cx="1107.3" cy="155.6" r="9.32"/>
<circle class="g" cx="693.5" cy="202.5" r="9.32"/>
<circle class="u" cx="2389.0" cy="155.3" r="9.32"/>
<circle class="g" cx="2315.7" cy="154.4" r="9.32"/>
<circle class="g" cx="2196.5" cy="166.6" r="9.32"/>
<circle class="u" cx="2123.0" cy="161.2" r="9.32"/>
<circle class="g" cx="2352.2" cy="253.8" r="9.32"/>
<circle class="p" cx="1710.8" cy="232.8" r="9.32"/>
<circle class="g" cx="2259.1" cy="270.0" r="9.32"/>
<circle class="p" cx="1415.9" cy="193.0" r="9.32"/>
<circle class="u" cx="2814.3" cy="153.7" r="9.32"/>
<circle class="u" cx="2423.2" cy="156.3" r="9.32"/>
<circle class="p" cx="1791.7" cy="186.7" r="9.32"/>
<circle class="u" cx="2202.9" cy="282.8" r="9.32"/>
<circle class="g" cx="2272.2" cy="252.2" r="9.32"/>
<circle class="p" cx="1469.6" cy="172.4" r="9.32"/>
<circle class="u" cx="593.2" cy="154.6" r="9.32"/>
<circle class="p" cx="2417.3" cy="260.0" r="9.32"/>
<circle class="g" cx="1487.9" cy="259.6" r="9.32"/>
<circle class="u" cx="2182.5" cy="329.2" r="9.32"/>
<circle class="m" cx="2914.0" cy="155.9" r="9.32"/>
<circle class="p" cx="2119.0" cy="169.5" r="9.32"/>
<circle class="g" cx="2105.9" cy="276.5" r="9.32"/>
<circle class="g" cx="2248.6" cy="223.1" r="9.32"/>
<circle class="u" cx="729.8" cy="256.5" r="9.32"/>
<circle class="p" cx="1733.3" cy="253.3" r="9.32"/>
<circle class="g" cx="2034.8" cy="185.3" r="9.32"/>
<circle class="g" cx="1219.8" cy="357.0" r="9.32"/>
<circle class="g" cx="1455.7" cy="177.1" r="9.32"/>
<circle class="g" cx="1704.7" cy="243.7" r="9.32"/>
<circle class="g" cx="2084.2" cy="463.1" r="9.32"/>
<circle class="p" cx="1754.9" cy="185.2" r="9.32"/>
<circle class="g" cx="2086.8" cy="169.3" r="9.32"/>
<circle class="u" cx="762.2" cy="154.9" r="9.32"/>
<circle class="g" cx="1405.2" cy="332.5" r="9.32"/>
<circle class="u" cx="2803.0" cy="317.0" r="9.32"/>
<circle class="g" cx="2214.6" cy="184.5" r="9.32"/>
<circle class="u" cx="2446.7" cy="240.8" r="9.32"/>
<circle class="p" cx="2262.3" cy="195.0" r="9.32"/>
<circle class="g" cx="1462.0" cy="267.5" r="9.32"/>
<circle class="u" cx="2199.6" cy="269.6" r="9.32"/>
<circle class="p" cx="1287.2" cy="168.7" r="9.32"/>
<circle class="p" cx="1928.9" cy="174.1" r="9.32"/>
<circle class="g" cx="1277.8" cy="285.0" r="9.32"/>
<circle class="u" cx="2350.3" cy="154.7" r="9.32"/>
<circle class="p" cx="2274.3" cy="214.7" r="9.32"/>
<circle class="u" cx="2249.5" cy="194.1" r="9.32"/>
<circle class="u" cx="1666.4" cy="190.6" r="9.32"/>
<circle class="p" cx="1327.0" cy="165.4" r="9.32"/>
<circle class="u" cx="2718.0" cy="302.5" r="9.32"/>
<circle class="p" cx="2162.6" cy="154.6" r="9.32"/>
<circle class="g" cx="2304.1" cy="240.1" r="9.32"/>
<circle class="g" cx="1342.3" cy="168.5" r="9.32"/>
<circle class="p" cx="1530.6" cy="175.1" r="9.32"/>
<circle class="p" cx="1274.3" cy="182.6" r="9.32"/>
<circle class="g" cx="688.5" cy="246.2" r="9.32"/>
<circle class="g" cx="2613.0" cy="260.0" r="9.32"/>
<circle class="p" cx="2246.3" cy="313.9" r="9.32"/>
<circle class="g" cx="2084.2" cy="479.0" r="9.32"/>
<circle class="g" cx="2108.4" cy="459.9" r="9.32"/>
<circle class="g" cx="2338.9" cy="167.0" r="9.32"/>
<circle class="m" cx="2905.5" cy="154.5" r="9.32"/>
<circle class="u" cx="2031.6" cy="155.0" r="9.32"/>
<circle class="p" cx="1933.4" cy="180.6" r="9.32"/>
<circle class="u" cx="2477.0" cy="153.9" r="9.32"/>
<circle class="g" cx="1499.5" cy="184.9" r="9.32"/>
<circle class="g" cx="2239.4" cy="236.3" r="9.32"/>
<circle class="u" cx="1145.2" cy="232.5" r="9.32"/>
<circle class="g" cx="1629.9" cy="183.8" r="9.32"/>
<circle class="u" cx="2303.8" cy="365.5" r="9.32"/>
<circle class="p" cx="1926.7" cy="254.2" r="9.32"/>
<circle class="u" cx="1176.0" cy="232.5" r="9.32"/>
<circle class="u" cx="743.3" cy="160.7" r="9.32"/>
<circle class="g" cx="2161.2" cy="183.4" r="9.32"/>
<circle class="g" cx="1784.5" cy="253.8" r="9.32"/>
<circle class="u" cx="2783.9" cy="155.9" r="9.32"/>
<circle class="u" cx="2400.4" cy="219.7" r="9.32"/>
<circle class="u" cx="1469.5" cy="255.0" r="9.32"/>
<circle class="g" cx="2525.8" cy="367.4" r="9.32"/>
<circle class="p" cx="2111.2" cy="203.8" r="9.32"/>
<circle class="g" cx="689.8" cy="253.0" r="9.32"/>
<circle class="g" cx="1732.7" cy="177.0" r="9.32"/>
<circle class="u" cx="1923.0" cy="217.0" r="9.32"/>
<circle class="g" cx="2147.1" cy="267.7" r="9.32"/>
<circle class="u" cx="1095.5" cy="156.3" r="9.32"/>
<circle class="p" cx="1327.2" cy="174.9" r="9.32"/>
<circle class="p" cx="2326.7" cy="238.7" r="9.32"/>
<circle class="g" cx="1413.0" cy="182.1" r="9.32"/>
<circle class="u" cx="674.8" cy="153.8" r="9.32"/>
<circle class="g" cx="592.2" cy="312.0" r="9.32"/>
<circle class="g" cx="1297.8" cy="180.1" r="9.32"/>
<circle class="u" cx="789.3" cy="153.6" r="9.32"/>
<circle class="p" cx="1412.9" cy="186.7" r="9.32"/>
<circle class="g" cx="2347.6" cy="178.9" r="9.32"/>
<circle class="u" cx="2199.0" cy="365.5" r="9.32"/>
<circle class="g" cx="2383.5" cy="196.6" r="9.32"/>
<circle class="p" cx="1316.5" cy="178.2" r="9.32"/>
<circle class="g" cx="2173.7" cy="248.0" r="9.32"/>
<circle class="u" cx="1538.2" cy="196.2" r="9.32"/>
<circle class="g" cx="2788.0" cy="275.0" r="9.32"/>
<circle class="g" cx="2499.0" cy="348.9" r="9.32"/>
<circle class="g" cx="2328.3" cy="210.0" r="9.32"/>
<circle class="g" cx="1574.2" cy="180.9" r="9.32"/>
<circle class="g" cx="2375.7" cy="254.6" r="9.32"/>
<circle class="u" cx="2387.2" cy="302.9" r="9.32"/>
<circle class="u" cx="1653.2" cy="168.8" r="9.32"/>
<circle class="p" cx="1268.7" cy="155.1" r="9.32"/>
<circle class="p" cx="2265.1" cy="215.8" r="9.32"/>
<circle class="p" cx="1339.5" cy="182.2" r="9.32"/>
<circle class="u" cx="515.2" cy="154.1" r="9.32"/>
<circle class="u" cx="1284.0" cy="277.5" r="9.32"/>
<circle class="p" cx="1312.5" cy="171.4" r="9.32"/>
<circle class="g" cx="2493.2" cy="425.5" r="9.32"/>
<circle class="u" cx="2309.0" cy="254.5" r="9.32"/>
<circle class="u" cx="1244.0" cy="153.8" r="9.32"/>
<circle class="p" cx="2407.9" cy="193.2" r="9.32"/>
<circle class="p" cx="2470.3" cy="270.1" r="9.32"/>
<circle class="u" cx="2026.7" cy="155.0" r="9.32"/>
<circle class="g" cx="2324.2" cy="246.4" r="9.32"/>
<circle class="g" cx="2427.6" cy="380.8" r="9.32"/>
<circle class="p" cx="1934.8" cy="186.9" r="9.32"/>
<circle class="u" cx="1045.2" cy="156.2" r="9.32"/>
<circle class="g" cx="1484.6" cy="219.0" r="9.32"/>
<circle class="u" cx="2530.9" cy="540.0" r="9.32"/>
<circle class="g" cx="2548.7" cy="172.5" r="9.32"/>
<circle class="g" cx="2309.7" cy="324.1" r="9.32"/>
<circle class="g" cx="2254.3" cy="242.3" r="9.32"/>
<circle class="u" cx="1627.0" cy="213.0" r="9.32"/>
<circle class="u" cx="2800.5" cy="240.0" r="9.32"/>
<circle class="p" cx="1489.5" cy="255.0" r="9.32"/>
<circle class="u" cx="2508.4" cy="155.7" r="9.32"/>
<circle class="p" cx="2099.5" cy="389.7" r="9.32"/>
<circle class="u" cx="1814.5" cy="179.6" r="9.32"/>
<circle class="p" cx="1855.4" cy="184.8" r="9.32"/>
<circle class="u" cx="2085.3" cy="209.5" r="9.32"/>
<circle class="u" cx="2327.0" cy="245.0" r="9.32"/>
<circle class="u" cx="2042.5" cy="154.2" r="9.32"/>
<circle class="u" cx="2609.2" cy="154.5" r="9.32"/>
<circle class="p" cx="1278.8" cy="167.1" r="9.32"/>
<circle class="g" cx="1796.7" cy="167.9" r="9.32"/>
<circle class="u" cx="2346.6" cy="294.3" r="9.32"/>
<circle class="g" cx="1807.4" cy="180.1" r="9.32"/>
<circle class="p" cx="1313.0" cy="164.8" r="9.32"/>
<circle class="g" cx="1894.0" cy="191.1" r="9.32"/>
<circle class="p" cx="1903.4" cy="181.5" r="9.32"/>
<circle class="g" cx="2303.8" cy="371.9" r="9.32"/>
<circle class="g" cx="1772.0" cy="202.5" r="9.32"/>
<circle class="g" cx="2349.3" cy="192.8" r="9.32"/>
<circle class="g" cx="1395.0" cy="190.0" r="9.32"/>
<circle class="p" cx="1280.8" cy="174.5" r="9.32"/>
<circle class="u" cx="2734.2" cy="539.5" r="9.32"/>
<circle class="g" cx="1254.8" cy="170.4" r="9.32"/>
<circle class="g" cx="1167.4" cy="183.1" r="9.32"/>
<circle class="g" cx="1487.2" cy="184.5" r="9.32"/>
<circle class="u" cx="1509.4" cy="171.9" r="9.32"/>
<circle class="g" cx="2180.3" cy="267.9" r="9.32"/>
<circle class="u" cx="1237.9" cy="155.9" r="9.32"/>
<circle class="g" cx="1378.4" cy="181.1" r="9.32"/>
<circle class="p" cx="1451.0" cy="179.0" r="9.32"/>
<circle class="u" cx="1079.0" cy="187.5" r="9.32"/>
<circle class="p" cx="2154.0" cy="155.4" r="9.32"/>
<circle class="g" cx="1289.0" cy="287.5" r="9.32"/>
<circle class="u" cx="1118.8" cy="153.5" r="9.32"/>
<circle class="p" cx="1301.0" cy="155.4" r="9.32"/>
<circle class="p" cx="1480.3" cy="183.0" r="9.32"/>
<circle class="g" cx="1717.5" cy="249.9" r="9.32"/>
<circle class="u" cx="1141.5" cy="167.5" r="9.32"/>
<circle class="p" cx="1737.0" cy="154.7" r="9.32"/>
<circle class="p" cx="1857.7" cy="174.3" r="9.32"/>
<circle class="u" cx="1107.0" cy="351.5" r="9.32"/>
<circle class="g" cx="1726.8" cy="179.4" r="9.32"/>
<circle class="g" cx="2071.4" cy="156.8" r="9.32"/>
<circle class="g" cx="2147.6" cy="306.1" r="9.32"/>
<circle class="u" cx="1313.7" cy="496.0" r="9.32"/>
<circle class="u" cx="2433.5" cy="154.4" r="9.32"/>
<circle class="p" cx="1318.7" cy="170.2" r="9.32"/>
<circle class="u" cx="2337.1" cy="238.8" r="9.32"/>
<circle class="u" cx="620.5" cy="155.1" r="9.32"/>
<circle class="u" cx="2711.8" cy="315.0" r="9.32"/>
<circle class="u" cx="2077.6" cy="524.3" r="9.32"/>
<circle class="g" cx="1469.1" cy="188.7" r="9.32"/>
<circle class="u" cx="1163.8" cy="154.4" r="9.32"/>
<circle class="g" cx="1899.5" cy="190.0" r="9.32"/>
<circle class="u" cx="2377.4" cy="178.5" r="9.32"/>
<circle class="g" cx="662.8" cy="154.3" r="9.32"/>
<circle class="p" cx="2303.6" cy="225.6" r="9.32"/>
<circle class="g" cx="1336.8" cy="169.9" r="9.32"/>
<circle class="g" cx="1474.2" cy="181.4" r="9.32"/>
<circle class="g" cx="1458.0" cy="229.2" r="9.32"/>
<circle class="p" cx="1307.7" cy="157.6" r="9.32"/>
<circle class="g" cx="2073.9" cy="156.7" r="9.32"/>
<circle class="p" cx="1322.2" cy="158.9" r="9.32"/>
<circle class="g" cx="2150.5" cy="359.1" r="9.32"/>
<circle class="g" cx="2274.1" cy="279.9" r="9.32"/>
<circle class="g" cx="2336.4" cy="355.3" r="9.32"/>
<circle class="u" cx="2833.0" cy="500.0" r="9.32"/>
<circle class="p" cx="2188.5" cy="169.7" r="9.32"/>
<circle class="u" cx="2586.6" cy="155.7" r="9.32"/>
<circle class="p" cx="1325.5" cy="177.2" r="9.32"/>
<circle class="p" cx="1303.4" cy="187.8" r="9.32"/>
<circle class="u" cx="962.2" cy="336.2" r="9.32"/>
<circle class="u" cx="2053.6" cy="153.5" r="9.32"/>
<circle class="p" cx="1301.7" cy="171.8" r="9.32"/>
<circle class="u" cx="1519.5" cy="153.8" r="9.32"/>
<circle class="g" cx="1049.0" cy="182.5" r="9.32"/>
<circle class="u" cx="2211.4" cy="241.6" r="9.32"/>
<circle class="p" cx="1925.4" cy="233.0" r="9.32"/>
<circle class="p" cx="1912.0" cy="167.5" r="9.32"/>
<circle class="g" cx="2508.5" cy="210.8" r="9.32"/>
<circle class="m" cx="2203.7" cy="155.0" r="9.32"/>
<circle class="p" cx="1496.0" cy="254.9" r="9.32"/>
<circle class="g" cx="2218.8" cy="182.4" r="9.32"/>
<circle class="g" cx="1546.4" cy="172.0" r="9.32"/>
<circle class="m" cx="3384.5" cy="153.8" r="9.32"/>
<circle class="u" cx="1872.0" cy="166.2" r="9.32"/>
<circle class="g" cx="2457.2" cy="190.8" r="9.32"/>
<circle class="u" cx="547.3" cy="155.1" r="9.32"/>
<circle class="p" cx="1306.5" cy="159.6" r="9.32"/>
<circle class="u" cx="1929.2" cy="701.2" r="9.32"/>
<circle class="g" cx="1306.5" cy="438.8" r="9.32"/>
<circle class="g" cx="1437.0" cy="265.0" r="9.32"/>
<circle class="p" cx="2327.0" cy="188.5" r="9.32"/>
<circle class="g" cx="2181.0" cy="291.1" r="9.32"/>
<circle class="u" cx="2052.0" cy="153.6" r="9.32"/>
<circle class="g" cx="1182.9" cy="159.5" r="9.32"/>
<circle class="u" cx="1242.9" cy="155.6" r="9.32"/>
<circle class="u" cx="2114.8" cy="203.3" r="9.32"/>
<circle class="u" cx="1467.6" cy="257.6" r="9.32"/>
<circle class="p" cx="1255.4" cy="188.8" r="9.32"/>
<circle class="g" cx="2156.1" cy="170.1" r="9.32"/>
<circle class="u" cx="1314.0" cy="472.5" r="9.32"/>
<circle class="u" cx="2293.4" cy="396.1" r="9.32"/>
<circle class="u" cx="1224.3" cy="161.6" r="9.32"/>
<circle class="g" cx="2510.5" cy="365.5" r="9.32"/>
<circle class="u" cx="2128.5" cy="154.3" r="9.32"/>
<circle class="u" cx="1365.2" cy="220.0" r="9.32"/>
<circle class="u" cx="619.6" cy="156.1" r="9.32"/>
<circle class="g" cx="2179.7" cy="257.4" r="9.32"/>
<circle class="u" cx="1400.2" cy="298.0" r="9.32"/>
<circle class="u" cx="1221.5" cy="232.5" r="9.32"/>
<circle class="p" cx="1358.0" cy="193.4" r="9.32"/>
<circle class="u" cx="2146.7" cy="377.0" r="9.32"/>
<circle class="g" cx="2223.2" cy="359.1" r="9.32"/>
<circle class="g" cx="1499.5" cy="175.5" r="9.32"/>
<circle class="u" cx="2046.5" cy="215.8" r="9.32"/>
<circle class="g" cx="1946.5" cy="227.7" r="9.32"/>
<circle class="u" cx="1815.0" cy="177.4" r="9.32"/>
<circle class="p" cx="1810.8" cy="240.0" r="9.32"/>
<circle class="g" cx="2160.2" cy="238.7" r="9.32"/>
<circle class="g" cx="1311.5" cy="175.0" r="9.32"/>
<circle class="p" cx="1346.1" cy="168.6" r="9.32"/>
<circle class="u" cx="1248.5" cy="155.3" r="9.32"/>
<circle class="u" cx="2818.8" cy="157.0" r="9.32"/>
<circle class="p" cx="1727.0" cy="226.2" r="9.32"/>
<circle class="u" cx="1215.1" cy="156.4" r="9.32"/>
<circle class="g" cx="2356.3" cy="256.7" r="9.32"/>
<circle class="u" cx="2132.6" cy="197.8" r="9.32"/>
<circle class="m" cx="3374.5" cy="164.5" r="9.32"/>
<circle class="g" cx="1367.6" cy="184.9" r="9.32"/>
<circle class="p" cx="2073.9" cy="219.2" r="9.32"/>
<circle class="p" cx="1318.1" cy="185.0" r="9.32"/>
<circle class="u" cx="2235.6" cy="156.7" r="9.32"/>
<circle class="g" cx="1696.5" cy="175.7" r="9.32"/>
<circle class="u" cx="2450.3" cy="195.8" r="9.32"/>
<circle class="u" cx="1914.5" cy="868.8" r="9.32"/>
<circle class="p" cx="1297.4" cy="178.1" r="9.32"/>
<circle class="g" cx="2253.5" cy="247.6" r="9.32"/>
<circle class="g" cx="1706.9" cy="243.3" r="9.32"/>
<circle class="g" cx="2130.9" cy="278.9" r="9.32"/>
<circle class="u" cx="2354.2" cy="403.8" r="9.32"/>
<circle class="g" cx="2257.2" cy="198.7" r="9.32"/>
<circle class="g" cx="2368.4" cy="256.2" r="9.32"/>
<circle class="u" cx="1310.2" cy="258.8" r="9.32"/>
<circle class="u" cx="2193.9" cy="368.1" r="9.32"/>
<circle class="u" cx="2891.1" cy="154.5" r="9.32"/>
<circle class="u" cx="638.5" cy="353.0" r="9.32"/>
<circle class="u" cx="2303.2" cy="214.5" r="9.32"/>
<circle class="g" cx="2210.0" cy="283.7" r="9.32"/>
<circle class="g" cx="1071.5" cy="155.7" r="9.32"/>
<circle class="u" cx="1775.5" cy="912.0" r="9.32"/>
<circle class="g" cx="2333.5" cy="154.2" r="9.32"/>
<circle class="p" cx="1308.0" cy="155.7" r="9.32"/>
<circle class="u" cx="2310.0" cy="204.9" r="9.32"/>
<circle class="u" cx="1675.5" cy="1040.5" r="9.32"/>
<circle class="u" cx="2392.7" cy="255.6" r="9.32"/>
<circle class="u" cx="1291.5" cy="253.8" r="9.32"/>
<circle class="g" cx="2136.4" cy="323.3" r="9.32"/>
<circle class="p" cx="2149.4" cy="238.0" r="9.32"/>
<circle class="g" cx="2326.8" cy="424.2" r="9.32"/>
<circle class="g" cx="1756.7" cy="173.3" r="9.32"/>
<circle class="g" cx="2369.7" cy="207.8" r="9.32"/>
<circle class="u" cx="2940.5" cy="153.8" r="9.32"/>
<circle class="p" cx="1472.6" cy="204.9" r="9.32"/>
<circle class="u" cx="1490.6" cy="251.4" r="9.32"/>
<circle class="g" cx="1398.5" cy="192.0" r="9.32"/>
<circle class="p" cx="2211.5" cy="185.6" r="9.32"/>
<circle class="u" cx="1374.0" cy="155.0" r="9.32"/>
<circle class="g" cx="2196.2" cy="247.3" r="9.32"/>
<circle class="u" cx="2584.9" cy="154.1" r="9.32"/>
<circle class="p" cx="1302.5" cy="156.6" r="9.32"/>
<circle class="u" cx="579.7" cy="156.0" r="9.32"/>
<circle class="u" cx="2151.2" cy="558.0" r="9.32"/>
<circle class="p" cx="704.8" cy="192.5" r="9.32"/>
<circle class="u" cx="2444.5" cy="155.3" r="9.32"/>
<circle class="u" cx="2261.5" cy="348.9" r="9.32"/>
<circle class="g" cx="2128.0" cy="183.9" r="9.32"/>
<circle class="u" cx="2024.9" cy="158.9" r="9.32"/>
<circle class="p" cx="2213.6" cy="237.7" r="9.32"/>
<circle class="u" cx="2014.0" cy="154.1" r="9.32"/>
<circle class="g" cx="1658.2" cy="171.1" r="9.32"/>
<circle class="u" cx="1181.5" cy="154.8" r="9.32"/>
<circle class="g" cx="2706.8" cy="313.8" r="9.32"/>
<circle class="u" cx="1167.7" cy="153.5" r="9.32"/>
<circle class="g" cx="706.0" cy="177.5" r="9.32"/>
<circle class="u" cx="2748.0" cy="270.0" r="9.32"/>
<circle class="g" cx="1934.2" cy="238.6" r="9.32"/>
<circle class="p" cx="1290.0" cy="169.8" r="9.32"/>
<circle class="u" cx="1545.2" cy="235.8" r="9.32"/>
<circle class="g" cx="2304.8" cy="206.0" r="9.32"/>
<circle class="p" cx="1979.2" cy="248.5" r="9.32"/>
<circle class="g" cx="2392.7" cy="206.4" r="9.32"/>
<circle class="u" cx="1274.0" cy="248.8" r="9.32"/>
<circle class="u" cx="2321.8" cy="204.4" r="9.32"/>
<circle class="g" cx="1220.2" cy="220.0" r="9.32"/>
<circle class="g" cx="2084.0" cy="154.9" r="9.32"/>
<circle class="p" cx="1314.2" cy="179.4" r="9.32"/>
<circle class="u" cx="2023.3" cy="155.9" r="9.32"/>
<circle class="u" cx="2397.7" cy="252.0" r="9.32"/>
<circle class="p" cx="1964.0" cy="183.4" r="9.32"/>
<circle class="p" cx="2709.8" cy="154.5" r="9.32"/>
<circle class="u" cx="2333.2" cy="315.5" r="9.32"/>
<circle class="g" cx="1890.8" cy="238.8" r="9.32"/>
<circle class="g" cx="2548.1" cy="265.0" r="9.32"/>
<circle class="u" cx="1289.0" cy="226.2" r="9.32"/>
<circle class="p" cx="1801.3" cy="169.1" r="9.32"/>
<circle class="g" cx="2259.6" cy="184.3" r="9.32"/>
<circle class="g" cx="2141.1" cy="280.3" r="9.32"/>
<circle class="u" cx="2387.1" cy="304.9" r="9.32"/>
<circle class="u" cx="2477.3" cy="170.6" r="9.32"/>
<circle class="g" cx="2413.5" cy="310.3" r="9.32"/>
<circle class="u" cx="2729.2" cy="449.5" r="9.32"/>
<circle class="g" cx="1487.0" cy="203.8" r="9.32"/>
<circle class="p" cx="1322.9" cy="163.8" r="9.32"/>
<circle class="g" cx="2156.9" cy="365.5" r="9.32"/>
<circle class="g" cx="1897.0" cy="165.0" r="9.32"/>
<circle class="g" cx="1327.5" cy="185.9" r="9.32"/>
<circle class="u" cx="1934.5" cy="252.5" r="9.32"/>
<circle class="p" cx="2037.0" cy="234.4" r="9.32"/>
<circle class="u" cx="2271.7" cy="235.5" r="9.32"/>
<circle class="u" cx="2359.5" cy="155.0" r="9.32"/>
<circle class="u" cx="2259.8" cy="259.4" r="9.32"/>
<circle class="g" cx="1163.7" cy="160.3" r="9.32"/>
<circle class="p" cx="1280.4" cy="178.6" r="9.32"/>
<circle class="u" cx="1647.0" cy="163.8" r="9.32"/>
<circle class="g" cx="2146.7" cy="401.2" r="9.32"/>
<circle class="p" cx="1287.5" cy="158.6" r="9.32"/>
<circle class="u" cx="1133.5" cy="155.3" r="9.32"/>
<circle class="u" cx="2072.1" cy="453.5" r="9.32"/>
<circle class="p" cx="1495.9" cy="181.2" r="9.32"/>
<circle class="g" cx="2306.4" cy="392.3" r="9.32"/>
<circle class="g" cx="1469.7" cy="179.0" r="9.32"/>
<circle class="u" cx="2353.7" cy="170.4" r="9.32"/>
<circle class="g" cx="2141.7" cy="188.9" r="9.32"/>
<circle class="u" cx="2514.0" cy="155.2" r="9.32"/>
<circle class="u" cx="1289.2" cy="161.4" r="9.32"/>
<circle class="u" cx="1620.8" cy="182.5" r="9.32"/>
<circle class="g" cx="2382.6" cy="242.4" r="9.32"/>
<circle class="g" cx="2317.1" cy="337.3" r="9.32"/>
<circle class="g" cx="2194.2" cy="321.8" r="9.32"/>
<circle class="g" cx="1293.1" cy="154.9" r="9.32"/>
<circle class="g" cx="1810.1" cy="178.7" r="9.32"/>
<circle class="g" cx="2708.0" cy="262.5" r="9.32"/>
<circle class="g" cx="2293.4" cy="382.1" r="9.32"/>
<circle class="g" cx="2093.1" cy="443.3" r="9.32"/>
<circle class="g" cx="1654.5" cy="225.0" r="9.32"/>
<circle class="p" cx="2240.6" cy="310.9" r="9.32"/>
<circle class="u" cx="2247.2" cy="154.9" r="9.32"/>
<circle class="p" cx="1995.4" cy="234.3" r="9.32"/>
<circle class="g" cx="1416.2" cy="236.3" r="9.32"/>
<circle class="g" cx="2179.2" cy="316.9" r="9.32"/>
<circle class="u" cx="2428.2" cy="186.9" r="9.32"/>
<circle class="u" cx="2820.6" cy="155.1" r="9.32"/>
<circle class="g" cx="1729.5" cy="235.0" r="9.32"/>
<circle class="g" cx="2371.3" cy="238.1" r="9.32"/>
<circle class="p" cx="1504.5" cy="170.0" r="9.32"/>
<circle class="p" cx="2422.9" cy="214.2" r="9.32"/>
<circle class="g" cx="1433.8" cy="251.5" r="9.32"/>
<circle class="g" cx="2204.1" cy="412.1" r="9.32"/>
<circle class="g" cx="1445.5" cy="170.7" r="9.32"/>
<circle class="p" cx="1293.5" cy="160.3" r="9.32"/>
<circle class="u" cx="820.7" cy="154.4" r="9.32"/>
<circle class="u" cx="814.6" cy="153.7" r="9.32"/>
<circle class="g" cx="1725.3" cy="181.8" r="9.32"/>
<circle class="p" cx="1380.0" cy="181.5" r="9.32"/>
<circle class="p" cx="1789.3" cy="179.1" r="9.32"/>
<circle class="u" cx="2403.5" cy="184.2" r="9.32"/>
<circle class="u" cx="2223.9" cy="380.8" r="9.32"/>
<circle class="g" cx="2379.1" cy="441.4" r="9.32"/>
<circle class="g" cx="2216.2" cy="255.8" r="9.32"/>
<circle class="g" cx="2482.4" cy="406.3" r="9.32"/>
<circle class="u" cx="2397.3" cy="174.9" r="9.32"/>
<circle class="p" cx="1944.3" cy="166.8" r="9.32"/>
<circle class="p" cx="1985.2" cy="187.9" r="9.32"/>
<circle class="g" cx="1280.1" cy="161.4" r="9.32"/>
<circle class="p" cx="1199.8" cy="187.5" r="9.32"/>
<circle class="g" cx="2096.0" cy="167.9" r="9.32"/>
<circle class="g" cx="2403.9" cy="297.1" r="9.32"/>
<circle class="g" cx="1425.3" cy="177.0" r="9.32"/>
<circle class="g" cx="2171.0" cy="286.8" r="9.32"/>
<circle class="p" cx="1308.3" cy="174.1" r="9.32"/>
<circle class="u" cx="2310.9" cy="207.8" r="9.32"/>
<circle class="p" cx="1905.8" cy="229.2" r="9.32"/>
<circle class="u" cx="2534.1" cy="161.4" r="9.32"/>
<circle class="g" cx="688.9" cy="155.3" r="9.32"/>
<circle class="p" cx="1293.3" cy="161.6" r="9.32"/>
<circle class="u" cx="1373.0" cy="180.1" r="9.32"/>
<circle class="g" cx="2246.1" cy="219.0" r="9.32"/>
<circle class="g" cx="1431.2" cy="265.4" r="9.32"/>
<circle class="g" cx="2264.7" cy="327.6" r="9.32"/>
<circle class="p" cx="2138.8" cy="155.0" r="9.32"/>
<circle class="p" cx="1313.3" cy="181.5" r="9.32"/>
<circle class="p" cx="2109.9" cy="214.4" r="9.32"/>
<circle class="p" cx="1761.0" cy="170.2" r="9.32"/>
<circle class="u" cx="2506.0" cy="251.0" r="9.32"/>
<circle class="g" cx="1020.2" cy="155.0" r="9.32"/>
<circle class="g" cx="1462.8" cy="244.2" r="9.32"/>
<circle class="p" cx="812.5" cy="154.6" r="9.32"/>
<circle class="g" cx="1554.9" cy="175.9" r="9.32"/>
<circle class="p" cx="1412.8" cy="223.8" r="9.32"/>
<circle class="g" cx="2178.6" cy="347.7" r="9.32"/>
<circle class="u" cx="1386.5" cy="205.0" r="9.32"/>
<circle class="g" cx="1389.0" cy="402.0" r="9.32"/>
<circle class="g" cx="2207.9" cy="279.3" r="9.32"/>
<circle class="p" cx="2003.7" cy="164.7" r="9.32"/>
<circle class="p" cx="2099.5" cy="348.9" r="9.32"/>
<circle class="u" cx="1909.5" cy="230.0" r="9.32"/>
<circle class="m" cx="2025.2" cy="827.5" r="9.32"/>
<circle class="g" cx="2274.2" cy="249.2" r="9.32"/>
<circle class="g" cx="2213.2" cy="268.2" r="9.32"/>
<circle class="u" cx="1409.8" cy="154.5" r="9.32"/>
<circle class="u" cx="2592.7" cy="457.3" r="9.32"/>
<circle class="g" cx="2236.5" cy="329.6" r="9.32"/>
<circle class="p" cx="1737.0" cy="172.5" r="9.32"/>
<circle class="u" cx="1121.0" cy="317.0" r="9.32"/>
<circle class="g" cx="2103.3" cy="154.4" r="9.32"/>
<circle class="g" cx="2195.2" cy="389.7" r="9.32"/>
<circle class="g" cx="2179.4" cy="232.5" r="9.32"/>
<circle class="g" cx="1417.5" cy="231.3" r="9.32"/>
<circle class="g" cx="1349.2" cy="155.0" r="9.32"/>
<circle class="p" cx="1454.5" cy="154.4" r="9.32"/>
<circle class="g" cx="2063.7" cy="200.7" r="9.32"/>
<circle class="g" cx="1419.6" cy="190.0" r="9.32"/>
<circle class="m" cx="594.0" cy="392.2" r="9.32"/>
<circle class="g" cx="2253.3" cy="183.4" r="9.32"/>
<circle class="p" cx="1944.5" cy="220.0" r="9.32"/>
<circle class="g" cx="2109.7" cy="421.6" r="9.32"/>
<circle class="u" cx="1127.0" cy="218.0" r="9.32"/>
<circle class="g" cx="1734.2" cy="249.6" r="9.32"/>
<circle class="g" cx="2291.8" cy="292.0" r="9.32"/>
<circle class="u" cx="746.1" cy="158.0" r="9.32"/>
<circle class="p" cx="1933.1" cy="176.0" r="9.32"/>
<circle class="p" cx="1314.7" cy="182.6" r="9.32"/>
<circle class="u" cx="2278.6" cy="154.4" r="9.32"/>
<circle class="g" cx="1614.7" cy="178.4" r="9.32"/>
<circle class="g" cx="2282.2" cy="324.4" r="9.32"/>
<circle class="u" cx="2404.1" cy="250.7" r="9.32"/>
<circle class="p" cx="2079.1" cy="441.4" r="9.32"/>
<circle class="p" cx="1442.0" cy="245.0" r="9.32"/>
<circle class="g" cx="2318.1" cy="192.4" r="9.32"/>
<circle class="g" cx="2353.9" cy="251.5" r="9.32"/>
<circle class="p" cx="1477.7" cy="228.2" r="9.32"/>
<circle class="p" cx="1766.0" cy="273.1" r="9.32"/>
<circle class="u" cx="1406.5" cy="240.0" r="9.32"/>
<circle class="p" cx="2287.2" cy="154.8" r="9.32"/>
<circle class="u" cx="2523.9" cy="155.2" r="9.32"/>
<circle class="u" cx="1302.8" cy="221.2" r="9.32"/>
<circle class="g" cx="1399.6" cy="165.3" r="9.32"/>
<circle class="u" cx="2464.4" cy="154.2" r="9.32"/>
<circle class="u" cx="2912.5" cy="154.4" r="9.32"/>
<circle class="u" cx="2906.2" cy="154.2" r="9.32"/>
<circle class="u" cx="2614.2" cy="342.0" r="9.32"/>
<circle class="u" cx="2052.0" cy="186.4" r="9.32"/>
<circle class="u" cx="1292.8" cy="362.5" r="9.32"/>
<circle class="u" cx="857.2" cy="177.5" r="9.32"/>
<circle class="g" cx="2301.8" cy="211.8" r="9.32"/>
<circle class="g" cx="2120.5" cy="182.7" r="9.32"/>
<circle class="p" cx="1309.7" cy="188.8" r="9.32"/>
<circle class="p" cx="2284.1" cy="209.3" r="9.32"/>
<circle class="p" cx="1276.7" cy="171.6" r="9.32"/>
<circle class="g" cx="1883.9" cy="192.1" r="9.32"/>
<circle class="p" cx="1959.9" cy="167.8" r="9.32"/>
<circle class="u" cx="2516.8" cy="300.7" r="9.32"/>
<circle class="u" cx="2433.9" cy="188.6" r="9.32"/>
<circle class="g" cx="2076.0" cy="220.0" r="9.32"/>
<circle class="m" cx="2787.8" cy="156.8" r="9.32"/>
<circle class="g" cx="2343.7" cy="247.1" r="9.32"/>
<circle class="g" cx="2451.1" cy="352.1" r="9.32"/>
<circle class="p" cx="1789.8" cy="173.6" r="9.32"/>
<circle class="g" cx="1534.2" cy="172.9" r="9.32"/>
<circle class="u" cx="2735.5" cy="530.0" r="9.32"/>
<circle class="g" cx="1758.5" cy="175.7" r="9.32"/>
<circle class="u" cx="2788.0" cy="266.2" r="9.32"/>
<circle class="g" cx="780.6" cy="155.1" r="9.32"/>
<circle class="g" cx="1308.5" cy="158.9" r="9.32"/>
<circle class="g" cx="1324.1" cy="174.0" r="9.32"/>
<circle class="u" cx="2311.4" cy="283.5" r="9.32"/>
<circle class="u" cx="820.2" cy="153.6" r="9.32"/>
<circle class="p" cx="2233.9" cy="315.1" r="9.32"/>
<circle class="p" cx="1326.6" cy="170.7" r="9.32"/>
<circle class="g" cx="1964.3" cy="189.9" r="9.32"/>
<circle class="p" cx="2173.3" cy="154.9" r="9.32"/>
<circle class="g" cx="2365.2" cy="220.0" r="9.32"/>
<circle class="u" cx="2451.4" cy="154.6" r="9.32"/>
<circle class="g" cx="2301.0" cy="283.7" r="9.32"/>
<circle class="u" cx="2795.5" cy="354.5" r="9.32"/>
<circle class="g" cx="2210.5" cy="355.3" r="9.32"/>
<circle class="g" cx="2285.2" cy="306.0" r="9.32"/>
<circle class="p" cx="1320.2" cy="172.0" r="9.32"/>
<circle class="u" cx="1124.0" cy="155.0" r="9.32"/>
<circle class="p" cx="1104.3" cy="156.2" r="9.32"/>
<circle class="g" cx="2384.4" cy="323.6" r="9.32"/>
<circle class="g" cx="2330.4" cy="217.1" r="9.32"/>
<circle class="p" cx="1516.0" cy="174.1" r="9.32"/>
<circle class="g" cx="2125.0" cy="207.8" r="9.32"/>
<circle class="g" cx="2728.0" cy="286.2" r="9.32"/>
<circle class="p" cx="2173.4" cy="284.5" r="9.32"/>
<circle class="g" cx="2226.6" cy="306.4" r="9.32"/>
<circle class="g" cx="2521.3" cy="354.7" r="9.32"/>
<circle class="g" cx="1441.7" cy="192.4" r="9.32"/>
<circle class="g" cx="2315.7" cy="245.7" r="9.32"/>
<circle class="p" cx="1318.9" cy="166.5" r="9.32"/>
<circle class="u" cx="2011.5" cy="248.4" r="9.32"/>
<circle class="g" cx="2326.6" cy="202.9" r="9.32"/>
<circle class="p" cx="1370.6" cy="163.0" r="9.32"/>
<circle class="g" cx="1950.7" cy="176.7" r="9.32"/>
<circle class="u" cx="2682.5" cy="397.5" r="9.32"/>
<circle class="p" cx="1645.6" cy="180.8" r="9.32"/>
<circle class="g" cx="2190.3" cy="288.6" r="9.32"/>
<circle class="u" cx="873.5" cy="299.5" r="9.32"/>
<circle class="g" cx="1509.1" cy="168.0" r="9.32"/>
<circle class="u" cx="2195.1" cy="154.5" r="9.32"/>
<circle class="g" cx="2641.8" cy="365.0" r="9.32"/>
<circle class="m" cx="977.0" cy="161.2" r="9.32"/>
<circle class="u" cx="1264.0" cy="368.8" r="9.32"/>
<circle class="g" cx="2165.8" cy="403.8" r="9.32"/>
<circle class="g" cx="1392.9" cy="161.5" r="9.32"/>
<circle class="g" cx="2640.5" cy="393.8" r="9.32"/>
<circle class="u" cx="709.8" cy="154.5" r="9.32"/>
<circle class="u" cx="2394.7" cy="211.8" r="9.32"/>
<circle class="p" cx="1954.8" cy="224.4" r="9.32"/>
<circle class="g" cx="2114.8" cy="417.8" r="9.32"/>
<circle class="g" cx="2010.9" cy="177.3" r="9.32"/>
<circle class="g" cx="2260.8" cy="271.9" r="9.32"/>
<circle class="p" cx="1370.8" cy="153.8" r="9.32"/>
<circle class="p" cx="1296.8" cy="168.5" r="9.32"/>
<circle class="g" cx="1271.0" cy="337.0" r="9.32"/>
<circle class="u" cx="2253.3" cy="173.3" r="9.32"/>
<circle class="p" cx="1397.2" cy="176.6" r="9.32"/>
<circle class="p" cx="1833.6" cy="186.9" r="9.32"/>
<circle class="u" cx="1457.0" cy="195.0" r="9.32"/>
<circle class="m" cx="2869.5" cy="155.0" r="9.32"/>
<circle class="p" cx="1273.1" cy="155.7" r="9.32"/>
<circle class="u" cx="2263.7" cy="249.4" r="9.32"/>
<circle class="u" cx="835.7" cy="156.5" r="9.32"/>
<circle class="g" cx="1988.4" cy="243.5" r="9.32"/>
<circle class="u" cx="2585.2" cy="154.1" r="9.32"/>
<circle class="u" cx="2016.6" cy="154.4" r="9.32"/>
<circle class="p" cx="1316.5" cy="172.5" r="9.32"/>
<circle class="u" cx="636.0" cy="395.8" r="9.32"/>
<circle class="g" cx="1979.5" cy="227.5" r="9.32"/>
<circle class="g" cx="1425.1" cy="200.5" r="9.32"/>
<circle class="u" cx="2442.2" cy="381.5" r="9.32"/>
<circle class="g" cx="2294.9" cy="333.3" r="9.32"/>
<circle class="g" cx="1274.1" cy="154.5" r="9.32"/>
<circle class="g" cx="1494.8" cy="190.2" r="9.32"/>
<circle class="u" cx="1174.0" cy="203.8" r="9.32"/>
<circle class="g" cx="1323.3" cy="181.2" r="9.32"/>
<circle class="g" cx="1456.5" cy="178.4" r="9.32"/>
<circle class="p" cx="2241.9" cy="173.2" r="9.32"/>
<circle class="g" cx="1939.6" cy="255.8" r="9.32"/>
<circle class="u" cx="2120.8" cy="157.1" r="9.32"/>
<circle class="u" cx="2816.8" cy="171.2" r="9.32"/>
<circle class="p" cx="1302.2" cy="155.7" r="9.32"/>
<circle class="u" cx="2002.6" cy="154.3" r="9.32"/>
<circle class="p" cx="1773.6" cy="171.4" r="9.32"/>
<circle class="u" cx="2050.2" cy="181.8" r="9.32"/>
<circle class="u" cx="846.8" cy="156.8" r="9.32"/>
<circle class="p" cx="1770.2" cy="171.4" r="9.32"/>
<circle class="g" cx="2305.0" cy="161.5" r="9.32"/>
<circle class="g" cx="2398.8" cy="308.6" r="9.32"/>
<circle class="p" cx="1348.3" cy="155.8" r="9.32"/>
<circle class="u" cx="2335.8" cy="155.2" r="9.32"/>
<circle class="g" cx="1281.5" cy="285.0" r="9.32"/>
<circle class="g" cx="1485.3" cy="184.9" r="9.32"/>
<circle class="p" cx="1294.1" cy="164.4" r="9.32"/>
<circle class="g" cx="2224.3" cy="244.6" r="9.32"/>
<circle class="u" cx="1295.0" cy="505.6" r="9.32"/>
<circle class="p" cx="1328.5" cy="173.9" r="9.32"/>
<circle class="u" cx="1289.0" cy="325.0" r="9.32"/>
<circle class="g" cx="2311.2" cy="315.0" r="9.32"/>
<circle class="u" cx="2408.0" cy="282.8" r="9.32"/>
<circle class="u" cx="2067.7" cy="156.5" r="9.32"/>
<circle class="g" cx="1753.9" cy="172.0" r="9.32"/>
<circle class="g" cx="2275.8" cy="288.1" r="9.32"/>
<circle class="u" cx="2582.5" cy="167.4" r="9.32"/>
<circle class="g" cx="2228.9" cy="248.9" r="9.32"/>
<circle class="g" cx="2331.2" cy="326.4" r="9.32"/>
<circle class="p" cx="1369.9" cy="155.6" r="9.32"/>
<circle class="p" cx="2083.6" cy="189.2" r="9.32"/>
<circle class="g" cx="2136.0" cy="278.3" r="9.32"/>
<circle class="p" cx="1994.4" cy="235.5" r="9.32"/>
<circle class="u" cx="2402.8" cy="174.6" r="9.32"/>
<circle class="u" cx="2305.4" cy="308.5" r="9.32"/>
<circle class="u" cx="2194.0" cy="327.4" r="9.32"/>
<circle class="g" cx="1825.5" cy="164.0" r="9.32"/>
<circle class="g" cx="1462.7" cy="180.1" r="9.32"/>
<circle class="g" cx="2141.5" cy="264.5" r="9.32"/>
<circle class="g" cx="2324.6" cy="259.1" r="9.32"/>
<circle class="g" cx="2357.8" cy="240.5" r="9.32"/>
<circle class="p" cx="1289.9" cy="160.7" r="9.32"/>
<circle class="u" cx="720.7" cy="155.5" r="9.32"/>
<circle class="u" cx="1422.3" cy="226.5" r="9.32"/>
<circle class="g" cx="1429.3" cy="180.1" r="9.32"/>
<circle class="u" cx="1997.0" cy="257.5" r="9.32"/>
<circle class="u" cx="1505.8" cy="247.6" r="9.32"/>
<circle class="g" cx="2165.2" cy="310.5" r="9.32"/>
<circle class="p" cx="1455.5" cy="169.5" r="9.32"/>
<circle class="g" cx="2389.3" cy="154.7" r="9.32"/>
<circle class="u" cx="2200.7" cy="154.6" r="9.32"/>
<circle class="u" cx="760.7" cy="155.4" r="9.32"/>
<circle class="u" cx="2261.9" cy="331.9" r="9.32"/>
<circle class="u" cx="2003.2" cy="154.1" r="9.32"/>
<circle class="u" cx="1458.9" cy="228.8" r="9.32"/>
<circle class="g" cx="2315.2" cy="302.8" r="9.32"/>
<circle class="u" cx="2161.3" cy="315.9" r="9.32"/>
<circle class="u" cx="2815.5" cy="293.8" r="9.32"/>
<circle class="g" cx="1206.5" cy="250.0" r="9.32"/>
<circle class="m" cx="2557.5" cy="155.0" r="9.32"/>
<circle class="u" cx="1117.3" cy="155.5" r="9.32"/>
<circle class="u" cx="836.8" cy="154.8" r="9.32"/>
<circle class="u" cx="2741.2" cy="320.0" r="9.32"/>
<circle class="u" cx="2514.8" cy="153.6" r="9.32"/>
<circle class="u" cx="2398.9" cy="212.7" r="9.32"/>
<circle class="g" cx="1687.2" cy="184.1" r="9.32"/>
<circle class="g" cx="1481.7" cy="233.0" r="9.32"/>
<circle class="p" cx="1313.3" cy="165.5" r="9.32"/>
<circle class="g" cx="2378.1" cy="229.2" r="9.32"/>
<circle class="g" cx="1477.2" cy="176.1" r="9.32"/>
<circle class="u" cx="2164.3" cy="208.2" r="9.32"/>
<circle class="u" cx="2451.4" cy="154.5" r="9.32"/>
<circle class="g" cx="2191.3" cy="440.8" r="9.32"/>
<circle class="u" cx="2136.5" cy="431.2" r="9.32"/>
<circle class="p" cx="2099.5" cy="174.0" r="9.32"/>
<circle class="g" cx="2197.9" cy="233.0" r="9.32"/>
<circle class="g" cx="2683.0" cy="351.2" r="9.32"/>
<circle class="u" cx="1365.2" cy="185.0" r="9.32"/>
<circle class="g" cx="2468.4" cy="403.8" r="9.32"/>
<circle class="g" cx="2348.8" cy="154.3" r="9.32"/>
<circle class="u" cx="2290.5" cy="197.1" r="9.32"/>
<circle class="u" cx="2289.2" cy="245.2" r="9.32"/>
<circle class="u" cx="2289.8" cy="225.1" r="9.32"/>
<circle class="u" cx="2307.0" cy="208.4" r="9.32"/>
<circle class="g" cx="1485.8" cy="250.8" r="9.32"/>
<circle class="u" cx="1387.8" cy="210.0" r="9.32"/>
<circle class="u" cx="2315.4" cy="238.8" r="9.32"/>
<circle class="p" cx="1416.8" cy="231.6" r="9.32"/>
<circle class="u" cx="2400.9" cy="174.5" r="9.32"/>
<circle class="g" cx="2310.9" cy="260.1" r="9.32"/>
<circle class="g" cx="2199.6" cy="265.6" r="9.32"/>
<circle class="u" cx="2131.3" cy="213.5" r="9.32"/>
<circle class="g" cx="2389.0" cy="306.6" r="9.32"/>
<circle class="u" cx="1391.5" cy="240.0" r="9.32"/>
<circle class="g" cx="656.0" cy="299.5" r="9.32"/>
<circle class="u" cx="2069.5" cy="154.6" r="9.32"/>
<circle class="u" cx="1875.2" cy="191.7" r="9.32"/>
<circle class="g" cx="1724.5" cy="172.5" r="9.32"/>
<circle class="g" cx="1445.8" cy="238.6" r="9.32"/>
<circle class="g" cx="2300.0" cy="384.6" r="9.32"/>
<circle class="u" cx="2207.8" cy="271.3" r="9.32"/>
<circle class="u" cx="2023.7" cy="154.0" r="9.32"/>
<circle class="m" cx="2918.6" cy="155.5" r="9.32"/>
<circle class="p" cx="2203.7" cy="174.0" r="9.32"/>
<circle class="g" cx="2422.5" cy="223.0" r="9.32"/>
<circle class="u" cx="1154.0" cy="180.0" r="9.32"/>
<circle class="u" cx="1244.5" cy="154.8" r="9.32"/>
<circle class="g" cx="1340.0" cy="167.6" r="9.32"/>
<circle class="g" cx="2175.4" cy="365.5" r="9.32"/>
<circle class="u" cx="1409.4" cy="154.5" r="9.32"/>
<circle class="g" cx="2144.7" cy="273.2" r="9.32"/>
<circle class="g" cx="1192.8" cy="225.0" r="9.32"/>
<circle class="u" cx="621.5" cy="373.0" r="9.32"/>
<circle class="p" cx="1296.8" cy="161.7" r="9.32"/>
<circle class="u" cx="2574.6" cy="479.0" r="9.32"/>
<circle class="p" cx="1774.0" cy="169.5" r="9.32"/>
<circle class="g" cx="2255.9" cy="295.6" r="9.32"/>
<circle class="u" cx="2406.6" cy="200.6" r="9.32"/>
<circle class="u" cx="1329.0" cy="282.5" r="9.32"/>
<circle class="g" cx="2233.0" cy="194.6" r="9.32"/>
<circle class="g" cx="2319.4" cy="284.1" r="9.32"/>
<circle class="p" cx="1963.2" cy="180.4" r="9.32"/>
<circle class="p" cx="1226.7" cy="193.5" r="9.32"/>
<circle class="g" cx="1899.8" cy="248.6" r="9.32"/>
<circle class="g" cx="2337.8" cy="243.1" r="9.32"/>
<circle class="g" cx="1949.5" cy="154.3" r="9.32"/>
<circle class="p" cx="2390.1" cy="234.1" r="9.32"/>
<circle class="g" cx="1505.4" cy="243.6" r="9.32"/>
<circle class="p" cx="1349.9" cy="160.0" r="9.32"/>
<circle class="u" cx="587.8" cy="230.2" r="9.32"/>
<circle class="u" cx="636.6" cy="154.6" r="9.32"/>
<circle class="u" cx="1149.0" cy="232.0" r="9.32"/>
<circle class="p" cx="1297.1" cy="173.7" r="9.32"/>
<circle class="g" cx="2266.6" cy="299.9" r="9.32"/>
<circle class="g" cx="1395.9" cy="185.0" r="9.32"/>
<circle class="p" cx="1331.4" cy="170.6" r="9.32"/>
<circle class="g" cx="1394.0" cy="230.0" r="9.32"/>
<circle class="u" cx="2646.0" cy="304.5" r="9.32"/>
<circle class="g" cx="2206.7" cy="180.3" r="9.32"/>
<circle class="u" cx="2528.0" cy="154.1" r="9.32"/>
<circle class="u" cx="740.3" cy="156.2" r="9.32"/>
<circle class="u" cx="2100.8" cy="215.0" r="9.32"/>
<circle class="u" cx="839.8" cy="156.1" r="9.32"/>
<circle class="u" cx="2311.3" cy="222.0" r="9.32"/>
<circle class="g" cx="2123.9" cy="196.8" r="9.32"/>
<circle class="g" cx="2450.2" cy="249.0" r="9.32"/>
<circle class="g" cx="1396.5" cy="253.8" r="9.32"/>
<circle class="g" cx="2167.8" cy="269.5" r="9.32"/>
<circle class="u" cx="2511.4" cy="160.1" r="9.32"/>
<circle class="g" cx="2493.9" cy="405.1" r="9.32"/>
<circle class="u" cx="783.6" cy="155.1" r="9.32"/>
<circle class="p" cx="1438.5" cy="228.4" r="9.32"/>
<circle class="u" cx="2007.2" cy="589.2" r="9.32"/>
<circle class="u" cx="1369.0" cy="182.5" r="9.32"/>
<circle class="u" cx="1417.0" cy="225.9" r="9.32"/>
<circle class="u" cx="994.0" cy="296.2" r="9.32"/>
<circle class="g" cx="2166.1" cy="192.0" r="9.32"/>
<circle class="u" cx="1197.8" cy="178.7" r="9.32"/>
<circle class="g" cx="1608.1" cy="169.3" r="9.32"/>
<circle class="g" cx="2329.5" cy="264.6" r="9.32"/>
<circle class="u" cx="2316.0" cy="158.2" r="9.32"/>
<circle class="u" cx="1229.0" cy="258.8" r="9.32"/>
<circle class="g" cx="2297.7" cy="158.1" r="9.32"/>
<circle class="u" cx="2737.2" cy="526.2" r="9.32"/>
<circle class="p" cx="1716.4" cy="171.7" r="9.32"/>
<circle class="g" cx="2650.5" cy="330.5" r="9.32"/>
<circle class="g" cx="1258.7" cy="171.5" r="9.32"/>
<circle class="u" cx="2482.8" cy="155.8" r="9.32"/>
<circle class="u" cx="1375.4" cy="154.2" r="9.32"/>
<circle class="g" cx="2119.3" cy="348.3" r="9.32"/>
<circle class="g" cx="1787.0" cy="176.2" r="9.32"/>
<circle class="u" cx="2384.7" cy="270.3" r="9.32"/>
<circle class="u" cx="1060.2" cy="186.2" r="9.32"/>
<circle class="g" cx="2285.9" cy="236.8" r="9.32"/>
<circle class="g" cx="2155.1" cy="327.7" r="9.32"/>
<circle class="u" cx="2329.4" cy="291.7" r="9.32"/>
<circle class="p" cx="1787.0" cy="265.0" r="9.32"/>
<circle class="u" cx="2397.8" cy="156.3" r="9.32"/>
<circle class="g" cx="1993.1" cy="190.2" r="9.32"/>
<circle class="g" cx="2126.3" cy="480.9" r="9.32"/>
<circle class="p" cx="1499.5" cy="217.5" r="9.32"/>
<circle class="g" cx="2407.1" cy="348.9" r="9.32"/>
<circle class="u" cx="588.4" cy="154.8" r="9.32"/>
<circle class="u" cx="2219.7" cy="153.9" r="9.32"/>
<circle class="g" cx="1496.1" cy="171.0" r="9.32"/>
<circle class="g" cx="1203.3" cy="168.1" r="9.32"/>
<circle class="u" cx="661.0" cy="202.5" r="9.32"/>
<circle class="g" cx="2142.0" cy="272.3" r="9.32"/>
<circle class="u" cx="816.1" cy="155.1" r="9.32"/>
<circle class="u" cx="2386.8" cy="269.5" r="9.32"/>
<circle class="g" cx="1894.5" cy="176.1" r="9.32"/>
<circle class="u" cx="708.0" cy="280.8" r="9.32"/>
<circle class="m" cx="1329.5" cy="247.5" r="9.32"/>
<circle class="p" cx="2154.9" cy="204.6" r="9.32"/>
<circle class="p" cx="1998.0" cy="173.9" r="9.32"/>
<circle class="g" cx="1753.7" cy="168.4" r="9.32"/>
<circle class="u" cx="1215.8" cy="178.2" r="9.32"/>
<circle class="p" cx="2236.9" cy="311.6" r="9.32"/>
<circle class="g" cx="2628.0" cy="330.0" r="9.32"/>
<circle class="p" cx="1897.1" cy="171.4" r="9.32"/>
<circle class="u" cx="2574.8" cy="154.6" r="9.32"/>
<circle class="g" cx="1952.0" cy="198.8" r="9.32"/>
<circle class="p" cx="2257.0" cy="164.7" r="9.32"/>
<circle class="u" cx="1282.0" cy="375.0" r="9.32"/>
<circle class="u" cx="1279.7" cy="180.8" r="9.32"/>
<circle class="p" cx="2061.6" cy="200.1" r="9.32"/>
<circle class="u" cx="613.4" cy="153.8" r="9.32"/>
<circle class="p" cx="1512.1" cy="174.6" r="9.32"/>
<circle class="g" cx="1882.0" cy="230.0" r="9.32"/>
<circle class="g" cx="1482.3" cy="241.5" r="9.32"/>
<circle class="u" cx="2303.1" cy="173.2" r="9.32"/>
<circle class="g" cx="2308.5" cy="172.3" r="9.32"/>
<circle class="g" cx="2155.6" cy="397.4" r="9.32"/>
<circle class="g" cx="2141.4" cy="201.1" r="9.32"/>
<circle class="u" cx="2323.3" cy="431.2" r="9.32"/>
<circle class="g" cx="2208.9" cy="274.1" r="9.32"/>
<circle class="g" cx="1194.0" cy="252.5" r="9.32"/>
<circle class="p" cx="2284.4" cy="346.4" r="9.32"/>
<circle class="u" cx="2826.8" cy="190.5" r="9.32"/>
<circle class="p" cx="1344.7" cy="190.8" r="9.32"/>
<circle class="u" cx="1789.5" cy="218.8" r="9.32"/>
<circle class="p" cx="1794.0" cy="164.0" r="9.32"/>
<circle class="p" cx="1296.6" cy="183.7" r="9.32"/>
<circle class="g" cx="1456.7" cy="193.7" r="9.32"/>
<circle class="u" cx="2913.0" cy="156.2" r="9.32"/>
<circle class="u" cx="1177.7" cy="153.9" r="9.32"/>
<circle class="g" cx="686.0" cy="185.0" r="9.32"/>
<circle class="u" cx="1329.0" cy="240.0" r="9.32"/>
<circle class="p" cx="1312.6" cy="176.8" r="9.32"/>
<circle class="p" cx="1307.7" cy="181.6" r="9.32"/>
<circle class="u" cx="2002.6" cy="258.6" r="9.32"/>
<circle class="u" cx="2893.0" cy="154.5" r="9.32"/>
<circle class="g" cx="2266.9" cy="233.2" r="9.32"/>
<circle class="p" cx="1958.2" cy="199.4" r="9.32"/>
<circle class="p" cx="1319.1" cy="177.0" r="9.32"/>
<circle class="u" cx="2411.5" cy="155.1" r="9.32"/>
<circle class="m" cx="3155.5" cy="154.5" r="9.32"/>
<circle class="u" cx="1567.0" cy="195.0" r="9.32"/>
<circle class="p" cx="2234.0" cy="307.0" r="9.32"/>
<circle class="g" cx="1189.0" cy="190.1" r="9.32"/>
<circle class="u" cx="2347.6" cy="177.0" r="9.32"/>
<circle class="u" cx="535.4" cy="155.1" r="9.32"/>
<circle class="p" cx="1327.2" cy="173.9" r="9.32"/>
<circle class="g" cx="2558.9" cy="424.2" r="9.32"/>
<circle class="g" cx="2037.6" cy="340.0" r="9.32"/>
<circle class="u" cx="1468.6" cy="184.2" r="9.32"/>
<circle class="g" cx="2229.6" cy="350.2" r="9.32"/>
<circle class="g" cx="751.8" cy="234.2" r="9.32"/>
<circle class="u" cx="2001.4" cy="154.1" r="9.32"/>
<circle class="u" cx="2300.0" cy="396.1" r="9.32"/>
<circle class="g" cx="2169.7" cy="154.2" r="9.32"/>
<circle class="p" cx="1921.0" cy="192.9" r="9.32"/>
<circle class="u" cx="2221.9" cy="458.6" r="9.32"/>
<circle class="g" cx="2069.2" cy="221.9" r="9.32"/>
<circle class="p" cx="1957.4" cy="224.9" r="9.32"/>
<circle class="u" cx="554.4" cy="153.8" r="9.32"/>
<circle class="g" cx="2421.4" cy="196.8" r="9.32"/>
<circle class="u" cx="637.4" cy="155.9" r="9.32"/>
<circle class="g" cx="732.3" cy="155.2" r="9.32"/>
<circle class="p" cx="1348.0" cy="172.5" r="9.32"/>
<circle class="p" cx="2113.7" cy="186.3" r="9.32"/>
<circle class="g" cx="2306.4" cy="363.0" r="9.32"/>
<circle class="g" cx="2294.6" cy="280.3" r="9.32"/>
<circle class="g" cx="1313.9" cy="172.5" r="9.32"/>
<circle class="g" cx="1472.9" cy="197.0" r="9.32"/>
<circle class="g" cx="2302.9" cy="273.1" r="9.32"/>
<circle class="u" cx="1343.4" cy="155.3" r="9.32"/>
<circle class="g" cx="2296.2" cy="154.8" r="9.32"/>
<circle class="u" cx="2578.9" cy="155.4" r="9.32"/>
<circle class="u" cx="2524.4" cy="159.2" r="9.32"/>
<circle class="u" cx="2213.9" cy="155.4" r="9.32"/>
<circle class="p" cx="1788.9" cy="189.5" r="9.32"/>
<circle class="u" cx="1220.2" cy="227.5" r="9.32"/>
<circle class="u" cx="2791.9" cy="154.5" r="9.32"/>
<circle class="u" cx="2691.8" cy="258.8" r="9.32"/>
<circle class="u" cx="2440.8" cy="155.7" r="9.32"/>
<circle class="p" cx="1729.3" cy="229.9" r="9.32"/>
<circle class="g" cx="2394.2" cy="155.7" r="9.32"/>
<circle class="u" cx="1468.3" cy="263.3" r="9.32"/>
<circle class="g" cx="2131.1" cy="256.3" r="9.32"/>
<circle class="u" cx="2373.4" cy="290.5" r="9.32"/>
<circle class="u" cx="1945.4" cy="232.0" r="9.32"/>
<circle class="u" cx="835.2" cy="155.1" r="9.32"/>
<circle class="u" cx="555.6" cy="155.5" r="9.32"/>
<circle class="g" cx="1488.5" cy="172.5" r="9.32"/>
<circle class="g" cx="686.0" cy="237.5" r="9.32"/>
<circle class="g" cx="1967.0" cy="243.8" r="9.32"/>
<circle class="u" cx="1427.7" cy="232.1" r="9.32"/>
<circle class="u" cx="2524.9" cy="153.9" r="9.32"/>
<circle class="g" cx="1494.5" cy="198.0" r="9.32"/>
<circle class="p" cx="1779.4" cy="179.3" r="9.32"/>
<circle class="g" cx="2148.7" cy="279.8" r="9.32"/>
<circle class="g" cx="1740.2" cy="259.7" r="9.32"/>
<circle class="p" cx="2367.0" cy="216.7" r="9.32"/>
<circle class="u" cx="2784.2" cy="156.2" r="9.32"/>
<circle class="u" cx="2358.9" cy="154.3" r="9.32"/>
<circle class="u" cx="2118.3" cy="154.5" r="9.32"/>
<circle class="g" cx="1442.3" cy="168.6" r="9.32"/>
<circle class="p" cx="1945.2" cy="251.1" r="9.32"/>
<circle class="p" cx="1232.6" cy="196.9" r="9.32"/>
<circle class="g" cx="2086.0" cy="155.9" r="9.32"/>
<circle class="g" cx="2275.4" cy="313.9" r="9.32"/>
<circle class="g" cx="2326.7" cy="296.3" r="9.32"/>
<circle class="u" cx="2447.5" cy="157.2" r="9.32"/>
<circle class="u" cx="2571.2" cy="155.7" r="9.32"/>
<circle class="u" cx="2151.8" cy="345.1" r="9.32"/>
<circle class="g" cx="681.8" cy="223.8" r="9.32"/>
<circle class="p" cx="1747.0" cy="263.8" r="9.32"/>
<circle class="g" cx="2294.2" cy="286.2" r="9.32"/>
<circle class="p" cx="1956.3" cy="182.7" r="9.32"/>
<circle class="u" cx="2340.7" cy="155.5" r="9.32"/>
<circle class="u" cx="2721.8" cy="348.8" r="9.32"/>
<circle class="u" cx="1510.4" cy="186.2" r="9.32"/>
<circle class="u" cx="1224.0" cy="155.0" r="9.32"/>
<circle class="u" cx="607.8" cy="155.0" r="9.32"/>
<circle class="p" cx="1763.2" cy="176.0" r="9.32"/>
<circle class="u" cx="2542.5" cy="156.0" r="9.32"/>
<circle class="u" cx="2337.8" cy="155.2" r="9.32"/>
<circle class="g" cx="2327.1" cy="304.0" r="9.32"/>
<circle class="u" cx="2164.5" cy="155.6" r="9.32"/>
<circle class="g" cx="1536.9" cy="173.0" r="9.32"/>
<circle class="u" cx="1419.5" cy="180.0" r="9.32"/>
<circle class="g" cx="1173.0" cy="168.8" r="9.32"/>
<circle class="u" cx="2888.6" cy="155.8" r="9.32"/>
<circle class="m" cx="2509.8" cy="154.9" r="9.32"/>
<circle class="p" cx="1241.3" cy="167.3" r="9.32"/>
<circle class="p" cx="1787.8" cy="181.3" r="9.32"/>
<circle class="g" cx="2220.0" cy="172.3" r="9.32"/>
<circle class="g" cx="1841.0" cy="178.9" r="9.32"/>
<circle class="g" cx="1855.2" cy="165.0" r="9.32"/>
<circle class="u" cx="1705.8" cy="200.0" r="9.32"/>
<circle class="u" cx="1349.6" cy="163.8" r="9.32"/>
<circle class="g" cx="1340.2" cy="375.0" r="9.32"/>
<circle class="u" cx="531.7" cy="156.3" r="9.32"/>
<circle class="g" cx="2221.2" cy="283.4" r="9.32"/>
<circle class="p" cx="2391.5" cy="242.9" r="9.32"/>
<circle class="g" cx="2140.8" cy="298.9" r="9.32"/>
<circle class="u" cx="2096.3" cy="489.2" r="9.32"/>
<circle class="u" cx="1309.0" cy="492.5" r="9.32"/>
<circle class="u" cx="2748.5" cy="487.5" r="9.32"/>
<circle class="p" cx="1341.4" cy="185.1" r="9.32"/>
<circle class="g" cx="1566.2" cy="212.5" r="9.32"/>
<circle class="p" cx="2491.3" cy="165.5" r="9.32"/>
<circle class="p" cx="1291.3" cy="156.2" r="9.32"/>
<circle class="u" cx="2326.6" cy="238.3" r="9.32"/>
<circle class="p" cx="2272.5" cy="218.2" r="9.32"/>
<circle class="u" cx="867.8" cy="153.8" r="9.32"/>
<circle class="u" cx="2037.9" cy="155.9" r="9.32"/>
<circle class="g" cx="634.5" cy="269.5" r="9.32"/>
<circle class="p" cx="1951.8" cy="193.0" r="9.32"/>
<circle class="g" cx="2491.3" cy="346.4" r="9.32"/>
<circle class="g" cx="1311.5" cy="226.2" r="9.32"/>
<circle class="p" cx="1852.0" cy="185.0" r="9.32"/>
<circle class="g" cx="2633.0" cy="367.5" r="9.32"/>
<circle class="p" cx="1440.8" cy="212.0" r="9.32"/>
<circle class="g" cx="2327.3" cy="254.0" r="9.32"/>
<circle class="p" cx="2231.0" cy="335.2" r="9.32"/>
<circle class="p" cx="2262.5" cy="206.5" r="9.32"/>
<circle class="g" cx="2096.1" cy="154.7" r="9.32"/>
<circle class="p" cx="1752.3" cy="171.4" r="9.32"/>
<circle class="u" cx="2450.5" cy="333.9" r="9.32"/>
<circle class="u" cx="2288.5" cy="190.4" r="9.32"/>
<circle class="g" cx="2235.6" cy="223.4" r="9.32"/>
<circle class="u" cx="2579.6" cy="157.8" r="9.32"/>
<circle class="g" cx="2158.9" cy="287.7" r="9.32"/>
<circle class="u" cx="1239.6" cy="154.9" r="9.32"/>
<circle class="g" cx="2159.7" cy="219.3" r="9.32"/>
<circle class="u" cx="1492.5" cy="181.6" r="9.32"/>
<circle class="p" cx="1842.0" cy="180.0" r="9.32"/>
<circle class="g" cx="2405.6" cy="175.0" r="9.32"/>
<circle class="g" cx="2094.4" cy="428.0" r="9.32"/>
<circle class="u" cx="1225.2" cy="197.5" r="9.32"/>
<circle class="g" cx="2571.7" cy="340.6" r="9.32"/>
<circle class="g" cx="1170.3" cy="190.1" r="9.32"/>
<circle class="g" cx="1305.6" cy="172.9" r="9.32"/>
<circle class="u" cx="2541.7" cy="300.7" r="9.32"/>
<circle class="u" cx="2635.5" cy="253.8" r="9.32"/>
<circle class="u" cx="2870.5" cy="155.0" r="9.32"/>
<circle class="g" cx="1329.8" cy="164.7" r="9.32"/>
<circle class="u" cx="2214.7" cy="157.6" r="9.32"/>
<circle class="u" cx="1259.2" cy="156.2" r="9.32"/>
<circle class="u" cx="2370.8" cy="293.6" r="9.32"/>
<circle class="u" cx="695.6" cy="155.7" r="9.32"/>
<circle class="p" cx="1419.4" cy="219.4" r="9.32"/>
<circle class="u" cx="1205.2" cy="263.8" r="9.32"/>
<circle class="p" cx="2058.2" cy="196.1" r="9.32"/>
<circle class="u" cx="2468.0" cy="154.8" r="9.32"/>
<circle class="g" cx="2100.9" cy="158.6" r="9.32"/>
<circle class="u" cx="666.0" cy="155.1" r="9.32"/>
<circle class="u" cx="2910.5" cy="154.5" r="9.32"/>
<circle class="p" cx="2113.8" cy="212.1" r="9.32"/>
<circle class="p" cx="1317.3" cy="174.0" r="9.32"/>
<circle class="u" cx="1127.4" cy="155.2" r="9.32"/>
<circle class="g" cx="1749.5" cy="220.0" r="9.32"/>
<circle class="p" cx="1767.0" cy="180.0" r="9.32"/>
<circle class="p" cx="2282.3" cy="191.1" r="9.32"/>
<circle class="g" cx="2407.3" cy="200.9" r="9.32"/>
<circle class="u" cx="2004.4" cy="183.4" r="9.32"/>
<circle class="u" cx="1498.2" cy="242.5" r="9.32"/>
<circle class="p" cx="2441.6" cy="213.3" r="9.32"/>
<circle class="g" cx="1956.7" cy="249.8" r="9.32"/>
<circle class="g" cx="1349.0" cy="160.0" r="9.32"/>
<circle class="p" cx="2235.0" cy="296.2" r="9.32"/>
<circle class="g" cx="1832.0" cy="227.5" r="9.32"/>
<circle class="u" cx="2592.2" cy="153.5" r="9.32"/>
<circle class="p" cx="1418.7" cy="196.2" r="9.32"/>
<circle class="g" cx="1827.0" cy="182.5" r="9.32"/>
<circle class="p" cx="1938.8" cy="181.0" r="9.32"/>
<circle class="u" cx="2446.7" cy="323.7" r="9.32"/>
<circle class="g" cx="2348.0" cy="284.2" r="9.32"/>
<circle class="u" cx="2088.0" cy="449.1" r="9.32"/>
<circle class="p" cx="1338.3" cy="179.7" r="9.32"/>
<circle class="u" cx="2374.2" cy="672.5" r="9.32"/>
<circle class="p" cx="2097.6" cy="164.4" r="9.32"/>
<circle class="g" cx="1235.9" cy="195.2" r="9.32"/>
<circle class="g" cx="2355.7" cy="155.6" r="9.32"/>
<circle class="u" cx="644.2" cy="413.2" r="9.32"/>
<circle class="u" cx="2399.8" cy="217.3" r="9.32"/>
<circle class="g" cx="2244.5" cy="250.1" r="9.32"/>
<circle class="p" cx="2259.9" cy="202.9" r="9.32"/>
<circle class="g" cx="1417.5" cy="258.8" r="9.32"/>
<circle class="p" cx="1340.6" cy="177.6" r="9.32"/>
<circle class="g" cx="2388.6" cy="210.1" r="9.32"/>
<circle class="g" cx="1861.4" cy="190.8" r="9.32"/>
<circle class="g" cx="1191.7" cy="177.4" r="9.32"/>
<circle class="p" cx="1777.0" cy="172.5" r="9.32"/>
<circle class="u" cx="2655.5" cy="257.5" r="9.32"/>
<circle class="u" cx="2210.8" cy="155.5" r="9.32"/>
<circle class="g" cx="2426.9" cy="289.9" r="9.32"/>
<circle class="u" cx="2225.1" cy="431.2" r="9.32"/>
<circle class="m" cx="2572.5" cy="155.0" r="9.32"/>
<circle class="u" cx="2107.8" cy="157.6" r="9.32"/>
<circle class="u" cx="1301.5" cy="452.0" r="9.32"/>
<circle class="g" cx="716.0" cy="263.0" r="9.32"/>
<circle class="g" cx="2390.5" cy="155.8" r="9.32"/>
<circle class="g" cx="2104.6" cy="379.5" r="9.32"/>
<circle class="u" cx="1972.0" cy="160.0" r="9.32"/>
<circle class="u" cx="2515.5" cy="154.6" r="9.32"/>
<circle class="u" cx="1240.2" cy="154.8" r="9.32"/>
<circle class="u" cx="2231.8" cy="289.7" r="9.32"/>
<circle class="g" cx="1719.1" cy="181.6" r="9.32"/>
<circle class="g" cx="2188.0" cy="169.8" r="9.32"/>
<circle class="u" cx="1142.8" cy="233.0" r="9.32"/>
<circle class="u" cx="2434.3" cy="154.5" r="9.32"/>
<circle class="g" cx="2379.5" cy="234.1" r="9.32"/>
<circle class="g" cx="2179.6" cy="218.5" r="9.32"/>
<circle class="u" cx="2140.6" cy="260.8" r="9.32"/>
<circle class="u" cx="2412.3" cy="229.6" r="9.32"/>
<circle class="g" cx="2180.5" cy="321.4" r="9.32"/>
<circle class="g" cx="2276.4" cy="318.8" r="9.32"/>
<circle class="u" cx="627.4" cy="153.6" r="9.32"/>
<circle class="u" cx="2171.5" cy="180.7" r="9.32"/>
<circle class="g" cx="2763.0" cy="250.0" r="9.32"/>
<circle class="u" cx="2065.5" cy="160.9" r="9.32"/>
<circle class="u" cx="2882.4" cy="156.9" r="9.32"/>
<circle class="g" cx="1542.4" cy="174.6" r="9.32"/>
<circle class="g" cx="2161.1" cy="255.5" r="9.32"/>
<circle class="g" cx="2578.1" cy="262.4" r="9.32"/>
<circle class="u" cx="1946.7" cy="218.6" r="9.32"/>
<circle class="g" cx="2094.4" cy="397.4" r="9.32"/>
<circle class="g" cx="2750.5" cy="398.0" r="9.32"/>
<circle class="u" cx="1612.0" cy="223.0" r="9.32"/>
<circle class="g" cx="667.2" cy="215.0" r="9.32"/>
<circle class="u" cx="2233.4" cy="391.0" r="9.32"/>
<circle class="g" cx="1070.2" cy="190.0" r="9.32"/>
<circle class="u" cx="2310.0" cy="155.3" r="9.32"/>
<circle class="u" cx="2331.0" cy="261.2" r="9.32"/>
<circle class="p" cx="1239.5" cy="181.5" r="9.32"/>
<circle class="p" cx="1590.3" cy="187.0" r="9.32"/>
<circle class="g" cx="1489.6" cy="214.5" r="9.32"/>
<circle class="u" cx="2205.9" cy="228.6" r="9.32"/>
<circle class="u" cx="2260.0" cy="159.0" r="9.32"/>
<circle class="g" cx="2433.3" cy="356.6" r="9.32"/>
<circle class="u" cx="2512.5" cy="155.9" r="9.32"/>
<circle class="u" cx="2446.4" cy="242.9" r="9.32"/>
<circle class="u" cx="2441.6" cy="252.2" r="9.32"/>
<circle class="u" cx="1122.1" cy="157.1" r="9.32"/>
<circle class="g" cx="1887.0" cy="200.0" r="9.32"/>
<circle class="u" cx="2230.4" cy="175.4" r="9.32"/>
<circle class="g" cx="1701.9" cy="250.9" r="9.32"/>
<circle class="u" cx="2017.4" cy="167.2" r="9.32"/>
<circle class="u" cx="1311.5" cy="293.8" r="9.32"/>
<circle class="m" cx="552.2" cy="156.2" r="9.32"/>
<circle class="g" cx="2184.9" cy="155.1" r="9.32"/>
<circle class="g" cx="2148.0" cy="154.3" r="9.32"/>
<circle class="p" cx="1760.1" cy="160.6" r="9.32"/>
<circle class="p" cx="1373.7" cy="155.5" r="9.32"/>
<circle class="g" cx="1653.2" cy="212.5" r="9.32"/>
<circle class="p" cx="2292.1" cy="154.1" r="9.32"/>
<circle class="u" cx="2410.7" cy="183.1" r="9.32"/>
<circle class="g" cx="1413.4" cy="229.6" r="9.32"/>
<circle class="u" cx="1166.5" cy="180.0" r="9.32"/>
<circle class="g" cx="1717.9" cy="226.5" r="9.32"/>
<circle class="p" cx="1436.4" cy="178.0" r="9.32"/>
<circle class="u" cx="2572.3" cy="263.7" r="9.32"/>
<circle class="g" cx="2451.7" cy="186.9" r="9.32"/>
<circle class="g" cx="1951.2" cy="241.1" r="9.32"/>
<circle class="g" cx="2390.3" cy="228.3" r="9.32"/>
<circle class="g" cx="1375.2" cy="157.5" r="9.32"/>
<circle class="u" cx="2278.6" cy="303.9" r="9.32"/>
<circle class="p" cx="1772.2" cy="186.6" r="9.32"/>
<circle class="u" cx="2242.7" cy="243.7" r="9.32"/>
<circle class="m" cx="2462.8" cy="879.8" r="9.32"/>
<circle class="u" cx="1440.2" cy="209.4" r="9.32"/>
<circle class="g" cx="1645.0" cy="177.5" r="9.32"/>
<circle class="g" cx="1915.8" cy="232.4" r="9.32"/>
<circle class="g" cx="2389.8" cy="156.3" r="9.32"/>
<circle class="u" cx="2328.8" cy="600.5" r="9.32"/>
<circle class="g" cx="2472.2" cy="383.4" r="9.32"/>
<circle class="u" cx="2824.2" cy="230.0" r="9.32"/>
<circle class="g" cx="2249.2" cy="213.9" r="9.32"/>
<circle class="g" cx="1111.5" cy="154.7" r="9.32"/>
<circle class="u" cx="2037.0" cy="154.0" r="9.32"/>
<circle class="p" cx="1331.7" cy="167.7" r="9.32"/>
<circle class="p" cx="2139.7" cy="188.5" r="9.32"/>
<circle class="g" cx="1291.5" cy="470.0" r="9.32"/>
<circle class="u" cx="2883.5" cy="154.6" r="9.32"/>
<circle class="u" cx="1197.9" cy="155.0" r="9.32"/>
<circle class="u" cx="2137.2" cy="156.0" r="9.32"/>
<circle class="u" cx="1764.5" cy="295.5" r="9.32"/>
<circle class="g" cx="2466.5" cy="412.7" r="9.32"/>
<circle class="g" cx="1711.9" cy="180.4" r="9.32"/>
<circle class="u" cx="2095.7" cy="409.5" r="9.32"/>
<circle class="u" cx="1355.0" cy="169.0" r="9.32"/>
<circle class="g" cx="2269.1" cy="401.2" r="9.32"/>
<circle class="g" cx="1357.7" cy="177.9" r="9.32"/>
<circle class="u" cx="1263.0" cy="154.2" r="9.32"/>
<circle class="g" cx="1919.0" cy="176.4" r="9.32"/>
<circle class="u" cx="2118.8" cy="153.8" r="9.32"/>
<circle class="g" cx="2236.0" cy="356.6" r="9.32"/>
<circle class="u" cx="535.5" cy="155.1" r="9.32"/>
<circle class="g" cx="2377.8" cy="424.2" r="9.32"/>
<circle class="p" cx="1895.8" cy="246.2" r="9.32"/>
<circle class="u" cx="1096.5" cy="174.5" r="9.32"/>
<circle class="g" cx="2342.7" cy="345.7" r="9.32"/>
<circle class="g" cx="1386.5" cy="257.5" r="9.32"/>
<circle class="u" cx="704.7" cy="155.6" r="9.32"/>
<circle class="u" cx="2253.5" cy="187.7" r="9.32"/>
<circle class="u" cx="2387.4" cy="153.6" r="9.32"/>
<circle class="p" cx="1827.5" cy="230.3" r="9.32"/>
<circle class="g" cx="1226.5" cy="260.0" r="9.32"/>
<circle class="p" cx="2189.3" cy="154.6" r="9.32"/>
<circle class="p" cx="2243.6" cy="221.4" r="9.32"/>
<circle class="u" cx="1259.0" cy="155.2" r="9.32"/>
<circle class="g" cx="667.7" cy="162.3" r="9.32"/>
<circle class="g" cx="2279.3" cy="174.6" r="9.32"/>
<circle class="u" cx="2207.2" cy="156.4" r="9.32"/>
<circle class="u" cx="1323.8" cy="193.5" r="9.32"/>
<circle class="u" cx="1286.5" cy="323.8" r="9.32"/>
<circle class="p" cx="1275.7" cy="178.7" r="9.32"/>
<circle class="p" cx="1979.5" cy="217.8" r="9.32"/>
<circle class="g" cx="2222.8" cy="322.6" r="9.32"/>
<circle class="p" cx="1316.2" cy="184.5" r="9.32"/>
<circle class="g" cx="2693.0" cy="245.0" r="9.32"/>
<circle class="g" cx="651.8" cy="160.2" r="9.32"/>
<circle class="g" cx="1990.4" cy="234.5" r="9.32"/>
<circle class="p" cx="1291.2" cy="174.3" r="9.32"/>
<circle class="u" cx="2700.5" cy="251.2" r="9.32"/>
<circle class="g" cx="2333.4" cy="208.3" r="9.32"/>
<circle class="p" cx="1972.0" cy="195.0" r="9.32"/>
<circle class="u" cx="2235.7" cy="264.0" r="9.32"/>
<circle class="g" cx="1265.8" cy="161.0" r="9.32"/>
<circle class="g" cx="1725.8" cy="250.0" r="9.32"/>
<circle class="u" cx="618.8" cy="161.9" r="9.32"/>
<circle class="u" cx="2819.2" cy="492.5" r="9.32"/>
<circle class="g" cx="1721.0" cy="174.6" r="9.32"/>
<circle class="u" cx="2422.3" cy="155.5" r="9.32"/>
<circle class="u" cx="2444.5" cy="239.7" r="9.32"/>
<circle class="u" cx="1840.8" cy="163.8" r="9.32"/>
<circle class="p" cx="1931.3" cy="184.7" r="9.32"/>
<circle class="p" cx="1708.0" cy="193.1" r="9.32"/>
<circle class="g" cx="1357.9" cy="181.9" r="9.32"/>
<circle class="g" cx="1174.0" cy="258.8" r="9.32"/>
<circle class="u" cx="2683.0" cy="365.0" r="9.32"/>
<circle class="p" cx="1361.3" cy="157.1" r="9.32"/>
<circle class="u" cx="1192.9" cy="181.4" r="9.32"/>
<circle class="g" cx="1350.3" cy="169.5" r="9.32"/>
<circle class="g" cx="2210.5" cy="377.0" r="9.32"/>
<circle class="g" cx="2320.1" cy="244.4" r="9.32"/>
<circle class="u" cx="2876.0" cy="156.7" r="9.32"/>
<circle class="u" cx="715.9" cy="154.9" r="9.32"/>
<circle class="p" cx="2264.6" cy="206.1" r="9.32"/>
<circle class="g" cx="1775.6" cy="188.6" r="9.32"/>
<circle class="g" cx="2256.7" cy="229.3" r="9.32"/>
<circle class="u" cx="1427.0" cy="153.8" r="9.32"/>
<circle class="u" cx="1209.0" cy="208.8" r="9.32"/>
<circle class="g" cx="1585.8" cy="155.6" r="9.32"/>
<circle class="g" cx="2246.3" cy="323.0" r="9.32"/>
<circle class="g" cx="1517.0" cy="184.7" r="9.32"/>
<circle class="u" cx="2271.0" cy="312.6" r="9.32"/>
<circle class="u" cx="2430.8" cy="154.1" r="9.32"/>
<circle class="u" cx="2397.5" cy="190.9" r="9.32"/>
<circle class="p" cx="1436.5" cy="170.3" r="9.32"/>
<circle class="g" cx="737.2" cy="266.2" r="9.32"/>
<circle class="g" cx="1398.1" cy="156.3" r="9.32"/>
<circle class="u" cx="2117.0" cy="195.6" r="9.32"/>
<circle class="g" cx="1589.5" cy="223.0" r="9.32"/>
<circle class="g" cx="2190.1" cy="249.3" r="9.32"/>
<circle class="u" cx="2328.5" cy="233.4" r="9.32"/>
<circle class="p" cx="1318.0" cy="155.8" r="9.32"/>
<circle class="u" cx="967.8" cy="156.2" r="9.32"/>
<circle class="m" cx="2529.5" cy="153.9" r="9.32"/>
<circle class="u" cx="524.1" cy="156.0" r="9.32"/>
<circle class="u" cx="1437.0" cy="205.0" r="9.32"/>
<circle class="g" cx="2142.5" cy="155.5" r="9.32"/>
<circle class="u" cx="2795.5" cy="270.0" r="9.32"/>
<circle class="g" cx="2588.9" cy="188.5" r="9.32"/>
<circle class="g" cx="1709.5" cy="235.0" r="9.32"/>
<circle class="g" cx="1307.8" cy="262.5" r="9.32"/>
<circle class="u" cx="613.2" cy="154.3" r="9.32"/>
<circle class="u" cx="752.5" cy="155.4" r="9.32"/>
<circle class="u" cx="1245.7" cy="153.8" r="9.32"/>
<circle class="p" cx="743.4" cy="153.8" r="9.32"/>
<circle class="g" cx="1716.5" cy="254.0" r="9.32"/>
<circle class="g" cx="2109.7" cy="378.3" r="9.32"/>
<circle class="u" cx="2244.6" cy="171.6" r="9.32"/>
<circle class="p" cx="1342.9" cy="162.2" r="9.32"/>
<circle class="u" cx="494.9" cy="156.2" r="9.32"/>
<circle class="u" cx="1145.6" cy="154.2" r="9.32"/>
<circle class="u" cx="2795.5" cy="215.0" r="9.32"/>
<circle class="u" cx="2112.3" cy="155.3" r="9.32"/>
<circle class="u" cx="2196.4" cy="226.6" r="9.32"/>
<circle class="p" cx="1927.7" cy="186.6" r="9.32"/>
<circle class="p" cx="1789.5" cy="187.7" r="9.32"/>
<circle class="u" cx="2099.5" cy="493.1" r="9.32"/>
<circle class="p" cx="1331.3" cy="155.4" r="9.32"/>
<circle class="u" cx="1911.8" cy="724.5" r="9.32"/>
<circle class="g" cx="1762.0" cy="262.5" r="9.32"/>
<circle class="u" cx="2421.8" cy="233.7" r="9.32"/>
<circle class="p" cx="2344.0" cy="182.4" r="9.32"/>
<circle class="g" cx="2208.0" cy="254.3" r="9.32"/>
<circle class="u" cx="1424.6" cy="230.0" r="9.32"/>
<circle class="u" cx="2339.2" cy="187.2" r="9.32"/>
<circle class="g" cx="2229.3" cy="243.4" r="9.32"/>
<circle class="g" cx="1451.4" cy="215.7" r="9.32"/>
<circle class="g" cx="2144.2" cy="284.2" r="9.32"/>
<circle class="p" cx="1449.5" cy="262.5" r="9.32"/>
<circle class="u" cx="1499.8" cy="233.4" r="9.32"/>
<circle class="u" cx="2728.0" cy="257.5" r="9.32"/>
<circle class="p" cx="1980.4" cy="184.8" r="9.32"/>
<circle class="u" cx="1147.8" cy="154.8" r="9.32"/>
<circle class="u" cx="2550.6" cy="314.7" r="9.32"/>
<circle class="g" cx="2153.1" cy="406.3" r="9.32"/>
<circle class="u" cx="1428.5" cy="243.2" r="9.32"/>
<circle class="u" cx="2356.8" cy="172.5" r="9.32"/>
<circle class="p" cx="1989.5" cy="167.5" r="9.32"/>
<circle class="g" cx="2287.9" cy="293.6" r="9.32"/>
<circle class="g" cx="2370.9" cy="239.2" r="9.32"/>
<circle class="g" cx="2326.3" cy="218.0" r="9.32"/>
<circle class="p" cx="1881.3" cy="192.3" r="9.32"/>
<circle class="u" cx="1369.0" cy="213.8" r="9.32"/>
<circle class="u" cx="2419.9" cy="209.2" r="9.32"/>
<circle class="u" cx="2499.6" cy="155.3" r="9.32"/>
<circle class="u" cx="2307.5" cy="195.9" r="9.32"/>
<circle class="p" cx="1949.5" cy="170.0" r="9.32"/>
<circle class="g" cx="1498.9" cy="233.3" r="9.32"/>
<circle class="p" cx="2108.8" cy="189.1" r="9.32"/>
<circle class="u" cx="613.9" cy="156.3" r="9.32"/>
<circle class="p" cx="2319.1" cy="340.0" r="9.32"/>
<circle class="u" cx="2314.3" cy="186.1" r="9.32"/>
<circle class="p" cx="1392.8" cy="266.2" r="9.32"/>
<circle class="u" cx="2813.0" cy="223.8" r="9.32"/>
<circle class="g" cx="2247.3" cy="155.9" r="9.32"/>
<circle class="u" cx="2429.0" cy="191.3" r="9.32"/>
<circle class="g" cx="2299.3" cy="320.5" r="9.32"/>
<circle class="p" cx="1673.2" cy="155.0" r="9.32"/>
<circle class="g" cx="2160.9" cy="220.8" r="9.32"/>
<circle class="u" cx="693.0" cy="156.8" r="9.32"/>
<circle class="g" cx="1710.0" cy="170.6" r="9.32"/>
<circle class="p" cx="1303.4" cy="179.4" r="9.32"/>
<circle class="u" cx="649.9" cy="156.9" r="9.32"/>
<circle class="p" cx="1779.7" cy="192.7" r="9.32"/>
<circle class="p" cx="1950.8" cy="183.3" r="9.32"/>
<circle class="u" cx="518.7" cy="155.5" r="9.32"/>
<circle class="g" cx="1895.9" cy="184.0" r="9.32"/>
<circle class="g" cx="1277.8" cy="183.5" r="9.32"/>
<circle class="u" cx="2380.6" cy="185.3" r="9.32"/>
<circle class="p" cx="1822.0" cy="227.5" r="9.32"/>
<circle class="g" cx="1943.1" cy="165.8" r="9.32"/>
<circle class="g" cx="2396.7" cy="224.8" r="9.32"/>
<circle class="g" cx="2280.0" cy="299.2" r="9.32"/>
<circle class="u" cx="630.5" cy="351.8" r="9.32"/>
<circle class="p" cx="1772.9" cy="191.2" r="9.32"/>
<circle class="g" cx="773.8" cy="156.7" r="9.32"/>
<circle class="g" cx="1255.4" cy="182.4" r="9.32"/>
<circle class="u" cx="1451.2" cy="285.0" r="9.32"/>
<circle class="p" cx="1995.5" cy="234.7" r="9.32"/>
<circle class="u" cx="559.3" cy="155.1" r="9.32"/>
<circle class="g" cx="2183.8" cy="308.2" r="9.32"/>
<circle class="g" cx="2204.1" cy="345.1" r="9.32"/>
<circle class="p" cx="2202.1" cy="188.5" r="9.32"/>
<circle class="u" cx="1305.2" cy="302.5" r="9.32"/>
<circle class="g" cx="2259.9" cy="298.5" r="9.32"/>
<circle class="g" cx="2144.1" cy="347.7" r="9.32"/>
<circle class="g" cx="1242.0" cy="275.0" r="9.32"/>
<circle class="g" cx="1834.1" cy="172.1" r="9.32"/>
<circle class="g" cx="2140.3" cy="355.3" r="9.32"/>
<circle class="g" cx="1269.4" cy="175.0" r="9.32"/>
<circle class="u" cx="2192.0" cy="154.1" r="9.32"/>
<circle class="u" cx="840.6" cy="153.5" r="9.32"/>
<circle class="p" cx="1299.2" cy="158.8" r="9.32"/>
<circle class="p" cx="1764.7" cy="269.6" r="9.32"/>
<circle class="p" cx="2183.3" cy="156.7" r="9.32"/>
<circle class="g" cx="2293.2" cy="196.1" r="9.32"/>
<circle class="u" cx="2202.2" cy="180.6" r="9.32"/>
<circle class="p" cx="1308.7" cy="156.0" r="9.32"/>
<circle class="g" cx="2164.3" cy="155.2" r="9.32"/>
<circle class="p" cx="2427.8" cy="252.0" r="9.32"/>
<circle class="g" cx="2298.8" cy="274.7" r="9.32"/>
<circle class="u" cx="2202.8" cy="363.0" r="9.32"/>
<circle class="u" cx="2404.2" cy="846.2" r="9.32"/>
<circle class="g" cx="2320.7" cy="155.6" r="9.32"/>
<circle class="u" cx="1281.5" cy="270.0" r="9.32"/>
<circle class="g" cx="1412.0" cy="332.5" r="9.32"/>
<circle class="g" cx="1696.7" cy="175.0" r="9.32"/>
<circle class="u" cx="1434.5" cy="290.5" r="9.32"/>
<circle class="u" cx="669.8" cy="279.5" r="9.32"/>
<circle class="u" cx="2132.7" cy="382.1" r="9.32"/>
<circle class="u" cx="2450.2" cy="154.9" r="9.32"/>
<circle class="p" cx="1943.5" cy="179.5" r="9.32"/>
<circle class="g" cx="2165.2" cy="324.4" r="9.32"/>
<circle class="g" cx="2147.6" cy="210.4" r="9.32"/>
<circle class="p" cx="1345.5" cy="168.9" r="9.32"/>
<circle class="u" cx="1185.8" cy="168.9" r="9.32"/>
<circle class="u" cx="2360.1" cy="296.1" r="9.32"/>
<circle class="g" cx="2112.2" cy="416.5" r="9.32"/>
<circle class="p" cx="1293.4" cy="168.1" r="9.32"/>
<circle class="u" cx="1725.3" cy="165.1" r="9.32"/>
<circle class="u" cx="1959.0" cy="657.5" r="9.32"/>
<circle class="g" cx="1426.5" cy="198.8" r="9.32"/>
<circle class="g" cx="2147.6" cy="175.0" r="9.32"/>
<circle class="p" cx="1325.0" cy="153.5" r="9.32"/>
<circle class="m" cx="3075.5" cy="154.5" r="9.32"/>
<circle class="g" cx="2374.6" cy="154.4" r="9.32"/>
<circle class="g" cx="2222.6" cy="327.2" r="9.32"/>
<circle class="p" cx="1284.5" cy="178.4" r="9.32"/>
<circle class="u" cx="2190.1" cy="390.4" r="9.32"/>
<circle class="g" cx="2232.4" cy="329.1" r="9.32"/>
<circle class="p" cx="1436.5" cy="201.3" r="9.32"/>
<circle class="u" cx="2425.8" cy="188.2" r="9.32"/>
<circle class="p" cx="2004.4" cy="194.7" r="9.32"/>
<circle class="g" cx="2406.4" cy="284.8" r="9.32"/>
<circle class="g" cx="1841.0" cy="215.1" r="9.32"/>
<circle class="u" cx="778.0" cy="154.5" r="9.32"/>
<circle class="u" cx="1519.5" cy="240.0" r="9.32"/>
<circle class="u" cx="641.0" cy="366.8" r="9.32"/>
<circle class="u" cx="2403.3" cy="154.9" r="9.32"/>
<circle class="p" cx="2219.0" cy="192.3" r="9.32"/>
<circle class="u" cx="1715.3" cy="187.8" r="9.32"/>
<circle class="g" cx="1879.5" cy="197.5" r="9.32"/>
<circle class="u" cx="1186.0" cy="191.0" r="9.32"/>
<circle class="g" cx="1924.9" cy="252.2" r="9.32"/>
<circle class="p" cx="2293.3" cy="172.1" r="9.32"/>
<circle class="g" cx="2482.4" cy="289.9" r="9.32"/>
<circle class="g" cx="2203.6" cy="223.7" r="9.32"/>
<circle class="g" cx="1475.5" cy="225.8" r="9.32"/>
<circle class="p" cx="2160.2" cy="186.1" r="9.32"/>
<circle class="g" cx="2377.9" cy="303.8" r="9.32"/>
<circle class="g" cx="2309.6" cy="192.6" r="9.32"/>
<circle class="u" cx="719.3" cy="156.0" r="9.32"/>
<circle class="g" cx="2629.2" cy="304.5" r="9.32"/>
<circle class="u" cx="641.3" cy="154.2" r="9.32"/>
<circle class="u" cx="1640.8" cy="223.8" r="9.32"/>
<circle class="g" cx="1482.4" cy="241.0" r="9.32"/>
<circle class="g" cx="1508.1" cy="181.0" r="9.32"/>
<circle class="u" cx="552.2" cy="156.9" r="9.32"/>
<circle class="g" cx="2369.3" cy="221.9" r="9.32"/>
<circle class="u" cx="1307.8" cy="310.0" r="9.32"/>
<circle class="g" cx="2204.3" cy="241.2" r="9.32"/>
<circle class="g" cx="735.5" cy="185.0" r="9.32"/>
<circle class="p" cx="1803.6" cy="175.6" r="9.32"/>
<circle class="u" cx="2402.7" cy="500.1" r="9.32"/>
<circle class="u" cx="2130.1" cy="156.4" r="9.32"/>
<circle class="p" cx="1320.5" cy="161.2" r="9.32"/>
<circle class="g" cx="1245.3" cy="193.8" r="9.32"/>
<circle class="p" cx="1281.4" cy="164.3" r="9.32"/>
<circle class="u" cx="2058.7" cy="461.8" r="9.32"/>
<circle class="g" cx="2248.7" cy="361.7" r="9.32"/>
<circle class="g" cx="2224.4" cy="188.5" r="9.32"/>
<circle class="u" cx="2602.2" cy="264.5" r="9.32"/>
<circle class="g" cx="2302.8" cy="155.1" r="9.32"/>
<circle class="u" cx="2045.9" cy="157.2" r="9.32"/>
<circle class="g" cx="2118.6" cy="436.9" r="9.32"/>
<circle class="g" cx="1264.6" cy="183.2" r="9.32"/>
<circle class="u" cx="2170.8" cy="236.3" r="9.32"/>
<circle class="g" cx="2407.5" cy="154.6" r="9.32"/>
<circle class="u" cx="1165.4" cy="155.2" r="9.32"/>
<circle class="g" cx="1180.3" cy="180.9" r="9.32"/>
<circle class="g" cx="1286.2" cy="168.0" r="9.32"/>
<circle class="u" cx="2346.0" cy="157.1" r="9.32"/>
<circle class="g" cx="1864.0" cy="234.4" r="9.32"/>
<circle class="g" cx="1914.7" cy="244.0" r="9.32"/>
<circle class="p" cx="1879.5" cy="222.5" r="9.32"/>
<circle class="g" cx="1484.2" cy="170.6" r="9.32"/>
<circle class="u" cx="846.5" cy="153.8" r="9.32"/>
<circle class="g" cx="2278.8" cy="178.9" r="9.32"/>
<circle class="g" cx="665.2" cy="240.0" r="9.32"/>
<circle class="g" cx="1435.7" cy="192.4" r="9.32"/>
<circle class="g" cx="1207.0" cy="157.1" r="9.32"/>
<circle class="c" cx="2208.8" cy="156.0" r="9.32"/>
<circle class="c" cx="1572.0" cy="186.2" r="9.32"/>
<circle class="p" cx="2281.0" cy="173.4" r="9.32"/>
<circle class="g" cx="1174.0" cy="153.8" r="9.32"/>
<circle class="u" cx="2056.5" cy="154.8" r="9.32"/>
<circle class="u" cx="1565.8" cy="175.0" r="9.32"/>
<circle class="u" cx="2780.5" cy="250.0" r="9.32"/>
<circle class="g" cx="1341.3" cy="191.3" r="9.32"/>
<circle class="p" cx="2149.4" cy="243.6" r="9.32"/>
<circle class="g" cx="1348.1" cy="185.4" r="9.32"/>
<circle class="c" cx="2799.9" cy="155.8" r="9.32"/>
<circle class="u" cx="778.9" cy="155.6" r="9.32"/>
<circle class="u" cx="1334.3" cy="155.3" r="9.32"/>
<circle class="p" cx="1507.6" cy="189.7" r="9.32"/>
<circle class="g" cx="2495.2" cy="352.8" r="9.32"/>
<circle class="g" cx="1274.0" cy="175.0" r="9.32"/>
<circle class="p" cx="2152.6" cy="219.3" r="9.32"/>
<circle class="p" cx="2431.4" cy="208.9" r="9.32"/>
<circle class="u" cx="2637.5" cy="390.0" r="9.32"/>
<circle class="g" cx="2290.8" cy="368.1" r="9.32"/>
<circle class="g" cx="2363.3" cy="257.6" r="9.32"/>
<circle class="u" cx="2633.0" cy="427.5" r="9.32"/>
<circle class="g" cx="2297.4" cy="290.1" r="9.32"/>
<circle class="u" cx="1325.2" cy="154.3" r="9.32"/>
<circle class="u" cx="1304.0" cy="485.0" r="9.32"/>
<circle class="m" cx="2432.5" cy="160.0" r="9.32"/>
<circle class="p" cx="1754.0" cy="182.8" r="9.32"/>
<circle class="g" cx="1989.4" cy="169.1" r="9.32"/>
<circle class="u" cx="1349.0" cy="312.5" r="9.32"/>
<circle class="g" cx="1401.5" cy="225.0" r="9.32"/>
<circle class="u" cx="1497.1" cy="214.0" r="9.32"/>
<circle class="p" cx="2273.5" cy="173.4" r="9.32"/>
<circle class="p" cx="2183.0" cy="155.3" r="9.32"/>
<circle class="u" cx="2877.7" cy="154.6" r="9.32"/>
<circle class="g" cx="1279.1" cy="167.5" r="9.32"/>
<circle class="g" cx="1449.5" cy="250.0" r="9.32"/>
<circle class="u" cx="1419.5" cy="258.8" r="9.32"/>
<circle class="c" cx="2654.2" cy="280.8" r="9.32"/>
<circle class="m" cx="3028.0" cy="154.5" r="9.32"/>
<circle class="p" cx="1849.5" cy="174.6" r="9.32"/>
<circle class="g" cx="1528.7" cy="187.7" r="9.32"/>
<circle class="u" cx="2815.3" cy="160.7" r="9.32"/>
<circle class="u" cx="2051.1" cy="154.0" r="9.32"/>
<circle class="u" cx="2454.7" cy="154.5" r="9.32"/>
<circle class="g" cx="2130.2" cy="275.6" r="9.32"/>
<circle class="u" cx="2384.0" cy="179.1" r="9.32"/>
<circle class="u" cx="2326.0" cy="155.7" r="9.32"/>
<circle class="g" cx="1254.2" cy="163.6" r="9.32"/>
<circle class="u" cx="2588.0" cy="155.0" r="9.32"/>
<circle class="p" cx="2048.3" cy="206.4" r="9.32"/>
<circle class="c" cx="2809.3" cy="154.5" r="9.32"/>
<circle class="g" cx="2314.9" cy="252.4" r="9.32"/>
<circle class="p" cx="1253.7" cy="154.1" r="9.32"/>
<circle class="g" cx="1707.0" cy="172.5" r="9.32"/>
<circle class="u" cx="767.9" cy="156.1" r="9.32"/>
<circle class="p" cx="1775.8" cy="172.7" r="9.32"/>
<circle class="g" cx="1316.4" cy="155.3" r="9.32"/>
<circle class="g" cx="2147.4" cy="282.3" r="9.32"/>
<circle class="g" cx="1219.0" cy="262.5" r="9.32"/>
<circle class="g" cx="1996.3" cy="181.5" r="9.32"/>
<circle class="m" cx="2307.0" cy="157.8" r="9.32"/>
<circle class="g" cx="1506.2" cy="207.4" r="9.32"/>
<circle class="u" cx="828.6" cy="153.7" r="9.32"/>
<circle class="u" cx="2322.5" cy="186.5" r="9.32"/>
<circle class="g" cx="1483.9" cy="254.5" r="9.32"/>
<circle class="g" cx="1743.1" cy="176.8" r="9.32"/>
<circle class="c" cx="2824.2" cy="154.0" r="9.32"/>
<circle class="p" cx="1954.5" cy="215.0" r="9.32"/>
<circle class="u" cx="594.7" cy="155.6" r="9.32"/>
<circle class="g" cx="1468.2" cy="186.8" r="9.32"/>
<circle class="c" cx="2896.7" cy="154.2" r="9.32"/>
<circle class="g" cx="1477.5" cy="240.7" r="9.32"/>
<circle class="g" cx="1411.3" cy="154.6" r="9.32"/>
<circle class="g" cx="2120.5" cy="266.3" r="9.32"/>
<circle class="g" cx="2326.7" cy="243.5" r="9.32"/>
<circle class="g" cx="2176.0" cy="356.6" r="9.32"/>
<circle class="u" cx="2648.0" cy="252.5" r="9.32"/>
<circle class="p" cx="1340.6" cy="179.2" r="9.32"/>
<circle class="u" cx="1152.2" cy="155.1" r="9.32"/>
<circle class="p" cx="2234.2" cy="330.1" r="9.32"/>
<circle class="u" cx="1684.5" cy="240.0" r="9.32"/>
<circle class="g" cx="1517.6" cy="183.8" r="9.32"/>
<circle class="u" cx="2409.2" cy="190.7" r="9.32"/>
<circle class="g" cx="2185.2" cy="228.5" r="9.32"/>
<circle class="u" cx="711.1" cy="154.0" r="9.32"/>
<circle class="g" cx="2107.6" cy="218.0" r="9.32"/>
<circle class="p" cx="1327.8" cy="162.7" r="9.32"/>
<circle class="u" cx="761.4" cy="154.6" r="9.32"/>
<circle class="p" cx="1182.2" cy="157.9" r="9.32"/>
<circle class="u" cx="576.3" cy="155.4" r="9.32"/>
<circle class="p" cx="2278.7" cy="191.4" r="9.32"/>
<circle class="u" cx="2840.2" cy="153.9" r="9.32"/>
<circle class="u" cx="2351.7" cy="395.5" r="9.32"/>
<circle class="p" cx="691.0" cy="200.0" r="9.32"/>
<circle class="c" cx="2844.3" cy="154.6" r="9.32"/>
<circle class="p" cx="1475.9" cy="230.8" r="9.32"/>
<circle class="u" cx="1388.5" cy="293.8" r="9.32"/>
<circle class="c" cx="1284.0" cy="155.5" r="9.32"/>
<circle class="u" cx="791.0" cy="155.8" r="9.32"/>
<circle class="m" cx="2821.8" cy="272.5" r="9.32"/>
<circle class="u" cx="2280.7" cy="339.0" r="9.32"/>
<circle class="u" cx="635.6" cy="159.6" r="9.32"/>
<circle class="u" cx="1191.5" cy="154.4" r="9.32"/>
<circle class="u" cx="2448.0" cy="182.1" r="9.32"/>
<circle class="p" cx="1319.6" cy="176.1" r="9.32"/>
<circle class="u" cx="2390.0" cy="646.0" r="9.32"/>
<circle class="p" cx="1791.4" cy="180.1" r="9.32"/>
<circle class="p" cx="1478.7" cy="207.3" r="9.32"/>
<circle class="p" cx="1696.4" cy="179.7" r="9.32"/>
<circle class="c" cx="1750.8" cy="154.1" r="9.32"/>
<circle class="u" cx="2491.3" cy="231.8" r="9.32"/>
<circle class="c" cx="2426.9" cy="341.3" r="9.32"/>
<circle class="p" cx="1306.7" cy="166.7" r="9.32"/>
<circle class="g" cx="2363.2" cy="189.3" r="9.32"/>
<circle class="u" cx="1483.4" cy="177.7" r="9.32"/>
<circle class="u" cx="1367.2" cy="464.5" r="9.32"/>
<circle class="u" cx="1224.2" cy="155.9" r="9.32"/>
<circle class="p" cx="1322.9" cy="160.3" r="9.32"/>
<circle class="p" cx="2083.8" cy="168.6" r="9.32"/>
<circle class="u" cx="1204.3" cy="154.3" r="9.32"/>
<circle class="g" cx="1339.9" cy="183.2" r="9.32"/>
<circle class="p" cx="1490.6" cy="263.2" r="9.32"/>
<circle class="u" cx="1748.2" cy="276.2" r="9.32"/>
<circle class="g" cx="2419.9" cy="398.7" r="9.32"/>
<circle class="m" cx="2592.3" cy="154.7" r="9.32"/>
<circle class="c" cx="1064.0" cy="153.8" r="9.32"/>
<circle class="u" cx="577.0" cy="158.0" r="9.32"/>
<circle class="u" cx="2359.5" cy="621.5" r="9.32"/>
<circle class="g" cx="2408.0" cy="154.1" r="9.32"/>
<circle class="g" cx="2385.9" cy="234.5" r="9.32"/>
<circle class="g" cx="2146.7" cy="242.1" r="9.32"/>
<circle class="c" cx="2680.5" cy="258.8" r="9.32"/>
<circle class="u" cx="2854.2" cy="156.0" r="9.32"/>
<circle class="u" cx="801.6" cy="154.7" r="9.32"/>
<circle class="g" cx="2112.2" cy="443.3" r="9.32"/>
<circle class="g" cx="1887.7" cy="191.0" r="9.32"/>
<circle class="g" cx="1578.1" cy="183.9" r="9.32"/>
<circle class="p" cx="1316.0" cy="165.3" r="9.32"/>
<circle class="c" cx="2771.0" cy="232.0" r="9.32"/>
<circle class="p" cx="1484.5" cy="225.0" r="9.32"/>
<circle class="p" cx="2299.9" cy="190.3" r="9.32"/>
<circle class="p" cx="2337.5" cy="245.7" r="9.32"/>
<circle class="g" cx="2405.7" cy="276.8" r="9.32"/>
<circle class="m" cx="3223.5" cy="154.5" r="9.32"/>
<circle class="u" cx="1503.3" cy="191.9" r="9.32"/>
<circle class="u" cx="2623.0" cy="477.0" r="9.32"/>
<circle class="p" cx="2080.2" cy="182.8" r="9.32"/>
<circle class="u" cx="695.0" cy="153.8" r="9.32"/>
<circle class="g" cx="2382.4" cy="278.2" r="9.32"/>
<circle class="u" cx="2225.9" cy="181.5" r="9.32"/>
<circle class="u" cx="800.7" cy="157.2" r="9.32"/>
<circle class="g" cx="1242.3" cy="184.8" r="9.32"/>
<circle class="g" cx="1704.5" cy="254.3" r="9.32"/>
<circle class="p" cx="2045.3" cy="218.1" r="9.32"/>
<circle class="g" cx="1934.9" cy="214.8" r="9.32"/>
<circle class="u" cx="595.0" cy="183.5" r="9.32"/>
<circle class="p" cx="1937.0" cy="172.5" r="9.32"/>
<circle class="p" cx="2426.7" cy="239.4" r="9.32"/>
<circle class="u" cx="2503.2" cy="156.8" r="9.32"/>
<circle class="p" cx="1946.4" cy="250.1" r="9.32"/>
<circle class="g" cx="1868.4" cy="248.0" r="9.32"/>
<circle class="p" cx="1703.4" cy="176.3" r="9.32"/>
<circle class="u" cx="2043.3" cy="154.1" r="9.32"/>
<circle class="g" cx="2144.1" cy="170.4" r="9.32"/>
<circle class="g" cx="2271.0" cy="310.1" r="9.32"/>
<circle class="u" cx="2303.4" cy="183.3" r="9.32"/>
<circle class="g" cx="1481.7" cy="180.2" r="9.32"/>
<circle class="u" cx="2373.4" cy="299.1" r="9.32"/>
<circle class="p" cx="1354.8" cy="287.0" r="9.32"/>
<circle class="g" cx="1356.5" cy="467.0" r="9.32"/>
<circle class="c" cx="1888.2" cy="237.0" r="9.32"/>
<circle class="u" cx="1302.8" cy="296.2" r="9.32"/>
<circle class="g" cx="1803.8" cy="281.2" r="9.32"/>
<circle class="g" cx="2206.2" cy="250.8" r="9.32"/>
<circle class="g" cx="1351.5" cy="167.5" r="9.32"/>
<circle class="c" cx="677.2" cy="205.0" r="9.32"/>
<circle class="u" cx="720.6" cy="157.3" r="9.32"/>
<circle class="c" cx="1252.3" cy="184.4" r="9.32"/>
<circle class="u" cx="1054.0" cy="208.8" r="9.32"/>
<circle class="u" cx="2320.9" cy="229.3" r="9.32"/>
<circle class="p" cx="1492.8" cy="175.8" r="9.32"/>
<circle class="p" cx="1848.2" cy="238.0" r="9.32"/>
<circle class="p" cx="1373.2" cy="171.8" r="9.32"/>
<circle class="u" cx="1151.6" cy="154.4" r="9.32"/>
<circle class="u" cx="2251.3" cy="271.3" r="9.32"/>
<circle class="g" cx="1109.4" cy="153.8" r="9.32"/>
<circle class="u" cx="1959.2" cy="170.9" r="9.32"/>
<circle class="p" cx="1499.5" cy="268.6" r="9.32"/>
<circle class="g" cx="2283.6" cy="154.9" r="9.32"/>
<circle class="c" cx="2874.5" cy="154.8" r="9.32"/>
<circle class="g" cx="1501.4" cy="182.9" r="9.32"/>
<circle class="g" cx="1875.8" cy="154.6" r="9.32"/>
<circle class="g" cx="1605.9" cy="175.6" r="9.32"/>
<circle class="c" cx="2743.0" cy="153.8" r="9.32"/>
<circle class="u" cx="2793.1" cy="156.0" r="9.32"/>
<circle class="p" cx="2361.5" cy="179.1" r="9.32"/>
<circle class="g" cx="1937.6" cy="181.0" r="9.32"/>
<circle class="p" cx="1374.0" cy="263.8" r="9.32"/>
<circle class="g" cx="1476.0" cy="227.4" r="9.32"/>
<circle class="u" cx="828.0" cy="155.6" r="9.32"/>
<circle class="u" cx="2779.4" cy="154.9" r="9.32"/>
<circle class="c" cx="1725.8" cy="181.2" r="9.32"/>
<circle class="u" cx="1136.5" cy="155.0" r="9.32"/>
<circle class="m" cx="2801.8" cy="262.5" r="9.32"/>
<circle class="u" cx="1915.8" cy="777.8" r="9.32"/>
<circle class="u" cx="2388.3" cy="294.3" r="9.32"/>
<circle class="c" cx="1304.0" cy="233.8" r="9.32"/>
<circle class="u" cx="2340.0" cy="325.9" r="9.32"/>
<circle class="u" cx="2368.7" cy="173.2" r="9.32"/>
<circle class="u" cx="2838.0" cy="155.0" r="9.32"/>
<circle class="u" cx="2778.5" cy="337.0" r="9.32"/>
<circle class="g" cx="2349.6" cy="318.4" r="9.32"/>
<circle class="g" cx="1419.5" cy="254.6" r="9.32"/>
<circle class="u" cx="1449.2" cy="185.4" r="9.32"/>
<circle class="c" cx="1252.0" cy="258.2" r="9.32"/>
<circle class="u" cx="2321.7" cy="307.7" r="9.32"/>
<circle class="u" cx="2121.2" cy="328.8" r="9.32"/>
<circle class="u" cx="2218.4" cy="301.3" r="9.32"/>
<circle class="p" cx="1292.9" cy="180.6" r="9.32"/>
<circle class="g" cx="791.9" cy="153.6" r="9.32"/>
<circle class="u" cx="1123.3" cy="154.8" r="9.32"/>
<circle class="g" cx="2307.9" cy="267.9" r="9.32"/>
<circle class="u" cx="1303.3" cy="486.3" r="9.32"/>
<circle class="g" cx="1643.2" cy="197.5" r="9.32"/>
<circle class="p" cx="2272.3" cy="283.5" r="9.32"/>
<circle class="c" cx="2680.5" cy="241.2" r="9.32"/>
<circle class="c" cx="694.8" cy="155.0" r="9.32"/>
<circle class="g" cx="1950.0" cy="254.1" r="9.32"/>
<circle class="g" cx="2108.3" cy="206.8" r="9.32"/>
<circle class="p" cx="1754.5" cy="175.2" r="9.32"/>
<circle class="g" cx="1493.5" cy="228.2" r="9.32"/>
<circle class="u" cx="2412.7" cy="189.7" r="9.32"/>
<circle class="g" cx="2138.6" cy="274.6" r="9.32"/>
<circle class="u" cx="1355.2" cy="254.5" r="9.32"/>
<circle class="p" cx="1930.7" cy="178.1" r="9.32"/>
<circle class="u" cx="1287.9" cy="156.3" r="9.32"/>
<circle class="g" cx="1357.8" cy="270.0" r="9.32"/>
<circle class="g" cx="1272.6" cy="153.5" r="9.32"/>
<circle class="u" cx="724.4" cy="153.6" r="9.32"/>
<circle class="g" cx="1779.2" cy="169.7" r="9.32"/>
<circle class="c" cx="2803.0" cy="282.5" r="9.32"/>
<circle class="p" cx="1670.2" cy="185.0" r="9.32"/>
<circle class="u" cx="762.9" cy="155.4" r="9.32"/>
<circle class="g" cx="2688.0" cy="378.8" r="9.32"/>
<circle class="g" cx="672.8" cy="155.7" r="9.32"/>
<circle class="u" cx="2102.4" cy="186.2" r="9.32"/>
<circle class="p" cx="1677.8" cy="176.8" r="9.32"/>
<circle class="g" cx="1433.2" cy="314.5" r="9.32"/>
<circle class="p" cx="1316.2" cy="185.9" r="9.32"/>
<circle class="p" cx="1277.3" cy="154.6" r="9.32"/>
<circle class="u" cx="2321.4" cy="290.4" r="9.32"/>
<circle class="g" cx="2193.3" cy="192.2" r="9.32"/>
<circle class="m" cx="2996.8" cy="162.5" r="9.32"/>
<circle class="g" cx="2320.7" cy="232.8" r="9.32"/>
<circle class="g" cx="1386.5" cy="188.7" r="9.32"/>
<circle class="u" cx="2058.2" cy="176.6" r="9.32"/>
<circle class="u" cx="615.4" cy="157.4" r="9.32"/>
<circle class="u" cx="784.3" cy="154.1" r="9.32"/>
<circle class="u" cx="2389.2" cy="328.5" r="9.32"/>
<circle class="u" cx="500.4" cy="156.3" r="9.32"/>
<circle class="p" cx="2176.0" cy="188.6" r="9.32"/>
<circle class="u" cx="1142.5" cy="153.6" r="9.32"/>
<circle class="m" cx="2890.8" cy="154.0" r="9.32"/>
<circle class="p" cx="1784.4" cy="183.2" r="9.32"/>
<circle class="g" cx="1487.0" cy="165.0" r="9.32"/>
<circle class="g" cx="2367.5" cy="242.0" r="9.32"/>
<circle class="g" cx="2351.9" cy="211.3" r="9.32"/>
<circle class="g" cx="1506.3" cy="168.6" r="9.32"/>
<circle class="p" cx="2391.7" cy="230.2" r="9.32"/>
<circle class="p" cx="1286.6" cy="188.1" r="9.32"/>
<circle class="u" cx="2888.8" cy="154.4" r="9.32"/>
<circle class="c" cx="2868.6" cy="153.6" r="9.32"/>
<circle class="g" cx="1097.6" cy="159.0" r="9.32"/>
<circle class="g" cx="1472.0" cy="205.0" r="9.32"/>
<circle class="g" cx="2447.8" cy="185.8" r="9.32"/>
<circle class="g" cx="2270.7" cy="270.1" r="9.32"/>
<circle class="g" cx="2181.9" cy="291.7" r="9.32"/>
<circle class="p" cx="1284.3" cy="183.8" r="9.32"/>
<circle class="u" cx="2307.0" cy="268.4" r="9.32"/>
<circle class="u" cx="2173.0" cy="183.7" r="9.32"/>
<circle class="p" cx="1279.3" cy="167.8" r="9.32"/>
<circle class="u" cx="2122.8" cy="154.4" r="9.32"/>
<circle class="g" cx="2236.4" cy="194.9" r="9.32"/>
<circle class="p" cx="1478.4" cy="184.4" r="9.32"/>
<circle class="p" cx="2124.9" cy="170.0" r="9.32"/>
<circle class="g" cx="1487.0" cy="245.0" r="9.32"/>
<circle class="g" cx="2387.2" cy="210.8" r="9.32"/>
<circle class="g" cx="1973.8" cy="249.3" r="9.32"/>
<circle class="p" cx="1551.9" cy="184.3" r="9.32"/>
<circle class="u" cx="543.8" cy="330.2" r="9.32"/>
<circle class="u" cx="1291.5" cy="330.0" r="9.32"/>
<circle class="u" cx="1446.6" cy="208.2" r="9.32"/>
<circle class="g" cx="1423.4" cy="231.4" r="9.32"/>
<circle class="p" cx="2156.6" cy="301.7" r="9.32"/>
<circle class="p" cx="1470.0" cy="236.8" r="9.32"/>
<circle class="g" cx="1963.2" cy="155.5" r="9.32"/>
<circle class="g" cx="1455.1" cy="166.5" r="9.32"/>
<circle class="u" cx="710.7" cy="156.7" r="9.32"/>
<circle class="g" cx="1727.0" cy="240.0" r="9.32"/>
<circle class="p" cx="1494.7" cy="271.2" r="9.32"/>
<circle class="g" cx="2369.3" cy="154.7" r="9.32"/>
<circle class="u" cx="1494.5" cy="250.0" r="9.32"/>
<circle class="u" cx="2576.3" cy="155.4" r="9.32"/>
<circle class="u" cx="1468.6" cy="180.7" r="9.32"/>
<circle class="g" cx="1953.2" cy="245.5" r="9.32"/>
<circle class="g" cx="2322.2" cy="229.0" r="9.32"/>
<circle class="u" cx="1299.6" cy="513.8" r="9.32"/>
<circle class="g" cx="2284.3" cy="239.7" r="9.32"/>
<circle class="g" cx="2177.3" cy="428.6" r="9.32"/>
<circle class="g" cx="2253.8" cy="391.0" r="9.32"/>
<circle class="u" cx="2570.6" cy="154.7" r="9.32"/>
<circle class="p" cx="1315.2" cy="155.6" r="9.32"/>
<circle class="g" cx="2016.3" cy="199.6" r="9.32"/>
<circle class="u" cx="2033.0" cy="181.9" r="9.32"/>
<circle class="g" cx="2376.9" cy="257.8" r="9.32"/>
<circle class="g" cx="1942.3" cy="224.8" r="9.32"/>
<circle class="u" cx="651.0" cy="156.0" r="9.32"/>
<circle class="c" cx="1299.0" cy="157.5" r="9.32"/>
<circle class="g" cx="1186.5" cy="185.0" r="9.32"/>
<circle class="m" cx="3122.5" cy="153.8" r="9.32"/>
<circle class="p" cx="1617.0" cy="185.0" r="9.32"/>
<circle class="c" cx="1794.5" cy="153.6" r="9.32"/>
<circle class="p" cx="1218.4" cy="172.4" r="9.32"/>
<circle class="u" cx="762.1" cy="155.6" r="9.32"/>
<circle class="u" cx="2853.0" cy="154.5" r="9.32"/>
<circle class="p" cx="713.5" cy="191.2" r="9.32"/>
<circle class="u" cx="2377.0" cy="272.2" r="9.32"/>
<circle class="g" cx="2258.9" cy="422.9" r="9.32"/>
<circle class="g" cx="2510.5" cy="401.2" r="9.32"/>
<circle class="g" cx="1504.1" cy="173.6" r="9.32"/>
<circle class="g" cx="1537.8" cy="175.7" r="9.32"/>
<circle class="u" cx="2703.5" cy="228.0" r="9.32"/>
<circle class="p" cx="1319.3" cy="162.1" r="9.32"/>
<circle class="u" cx="2755.5" cy="553.8" r="9.32"/>
<circle class="u" cx="804.3" cy="155.5" r="9.32"/>
<circle class="p" cx="1336.3" cy="164.5" r="9.32"/>
<circle class="g" cx="2341.2" cy="154.9" r="9.32"/>
<circle class="p" cx="1339.4" cy="156.2" r="9.32"/>
<circle class="p" cx="1292.1" cy="174.7" r="9.32"/>
<circle class="g" cx="2345.2" cy="240.1" r="9.32"/>
<circle class="u" cx="2860.9" cy="153.5" r="9.32"/>
<circle class="g" cx="1342.8" cy="235.0" r="9.32"/>
<circle class="c" cx="2638.0" cy="250.0" r="9.32"/>
<circle class="u" cx="1833.0" cy="190.9" r="9.32"/>
<circle class="g" cx="2166.6" cy="185.7" r="9.32"/>
<circle class="u" cx="611.0" cy="154.5" r="9.32"/>
<circle class="p" cx="1421.1" cy="184.1" r="9.32"/>
<circle class="p" cx="1613.3" cy="186.9" r="9.32"/>
<circle class="u" cx="1265.2" cy="154.6" r="9.32"/>
<circle class="g" cx="717.2" cy="282.5" r="9.32"/>
<circle class="p" cx="1937.7" cy="185.1" r="9.32"/>
<circle class="u" cx="2245.8" cy="155.4" r="9.32"/>
<circle class="g" cx="1358.0" cy="173.7" r="9.32"/>
<circle class="p" cx="1927.1" cy="185.6" r="9.32"/>
<circle class="u" cx="2274.2" cy="396.1" r="9.32"/>
<circle class="c" cx="2783.0" cy="267.5" r="9.32"/>
<circle class="g" cx="2391.0" cy="217.7" r="9.32"/>
<circle class="g" cx="2235.1" cy="155.0" r="9.32"/>
<circle class="c" cx="1702.0" cy="167.5" r="9.32"/>
<circle class="u" cx="523.3" cy="154.1" r="9.32"/>
<circle class="g" cx="2275.0" cy="277.5" r="9.32"/>
<circle class="p" cx="1894.5" cy="175.0" r="9.32"/>
<circle class="c" cx="2748.0" cy="255.0" r="9.32"/>
<circle class="p" cx="1309.9" cy="181.7" r="9.32"/>
<circle class="p" cx="1758.5" cy="261.8" r="9.32"/>
<circle class="g" cx="1507.0" cy="177.5" r="9.32"/>
<circle class="g" cx="2310.2" cy="242.9" r="9.32"/>
<circle class="c" cx="2821.8" cy="281.2" r="9.32"/>
<circle class="u" cx="2065.9" cy="155.1" r="9.32"/>
<circle class="c" cx="1332.1" cy="153.9" r="9.32"/>
<circle class="m" cx="1151.5" cy="155.0" r="9.32"/>
<circle class="g" cx="2318.8" cy="321.8" r="9.32"/>
<circle class="u" cx="2515.9" cy="154.0" r="9.32"/>
<circle class="g" cx="1979.8" cy="230.1" r="9.32"/>
<circle class="p" cx="1474.5" cy="235.0" r="9.32"/>
<circle class="g" cx="2297.1" cy="230.6" r="9.32"/>
<circle class="p" cx="1232.6" cy="160.4" r="9.32"/>
<circle class="p" cx="1667.9" cy="173.4" r="9.32"/>
<circle class="p" cx="1434.9" cy="253.7" r="9.32"/>
<circle class="c" cx="1277.8" cy="203.8" r="9.32"/>
<circle class="g" cx="1837.0" cy="165.0" r="9.32"/>
<circle class="u" cx="1687.9" cy="190.3" r="9.32"/>
<circle class="u" cx="818.4" cy="155.0" r="9.32"/>
<circle class="g" cx="2319.1" cy="266.4" r="9.32"/>
<circle class="u" cx="2240.6" cy="312.2" r="9.32"/>
<circle class="g" cx="1181.5" cy="177.5" r="9.32"/>
<circle class="c" cx="2724.2" cy="272.5" r="9.32"/>
<circle class="u" cx="2311.3" cy="252.1" r="9.32"/>
<circle class="g" cx="1298.0" cy="191.3" r="9.32"/>
<circle class="u" cx="2034.6" cy="205.9" r="9.32"/>
<circle class="g" cx="2636.8" cy="320.0" r="9.32"/>
<circle class="p" cx="2099.5" cy="428.0" r="9.32"/>
<circle class="g" cx="2421.0" cy="222.1" r="9.32"/>
<circle class="p" cx="1943.4" cy="180.9" r="9.32"/>
<circle class="u" cx="2382.7" cy="419.1" r="9.32"/>
<circle class="p" cx="1431.4" cy="194.5" r="9.32"/>
<circle class="g" cx="1609.5" cy="170.0" r="9.32"/>
<circle class="u" cx="2324.4" cy="327.0" r="9.32"/>
<circle class="g" cx="1417.0" cy="255.5" r="9.32"/>
<circle class="g" cx="2266.8" cy="291.4" r="9.32"/>
<circle class="g" cx="2481.1" cy="347.7" r="9.32"/>
<circle class="c" cx="2721.8" cy="228.8" r="9.32"/>
<circle class="c" cx="2788.8" cy="345.0" r="9.32"/>
<circle class="m" cx="2875.5" cy="154.5" r="9.32"/>
<circle class="p" cx="1937.6" cy="237.4" r="9.32"/>
<circle class="u" cx="2764.2" cy="157.5" r="9.32"/>
<circle class="c" cx="2811.8" cy="155.0" r="9.32"/>
<circle class="u" cx="2460.1" cy="154.4" r="9.32"/>
<circle class="u" cx="2786.6" cy="155.7" r="9.32"/>
<circle class="u" cx="416.8" cy="155.8" r="9.32"/>
<circle class="p" cx="2259.4" cy="214.6" r="9.32"/>
<circle class="g" cx="1916.8" cy="222.4" r="9.32"/>
<circle class="u" cx="2546.2" cy="364.2" r="9.32"/>
<circle class="u" cx="2409.8" cy="171.9" r="9.32"/>
<circle class="g" cx="1391.5" cy="390.5" r="9.32"/>
<circle class="g" cx="1214.0" cy="252.5" r="9.32"/>
<circle class="p" cx="1308.1" cy="163.2" r="9.32"/>
<circle class="p" cx="1749.3" cy="274.5" r="9.32"/>
<circle class="g" cx="1681.1" cy="188.1" r="9.32"/>
<circle class="u" cx="1363.6" cy="183.3" r="9.32"/>
<circle class="g" cx="1338.5" cy="164.2" r="9.32"/>
<circle class="u" cx="2155.0" cy="466.3" r="9.32"/>
<circle class="p" cx="1312.4" cy="164.6" r="9.32"/>
<circle class="u" cx="2688.0" cy="237.5" r="9.32"/>
<circle class="u" cx="2561.1" cy="155.1" r="9.32"/>
<circle class="u" cx="2272.8" cy="288.9" r="9.32"/>
<circle class="g" cx="2247.4" cy="338.6" r="9.32"/>
<circle class="g" cx="1871.8" cy="176.0" r="9.32"/>
<circle class="u" cx="2084.4" cy="174.9" r="9.32"/>
<circle class="p" cx="1313.4" cy="164.2" r="9.32"/>
<circle class="m" cx="3174.2" cy="156.2" r="9.32"/>
<circle class="c" cx="1543.2" cy="174.5" r="9.32"/>
<circle class="g" cx="1782.1" cy="180.6" r="9.32"/>
<circle class="u" cx="711.0" cy="153.7" r="9.32"/>
<circle class="g" cx="1443.8" cy="164.1" r="9.32"/>
<circle class="g" cx="1831.0" cy="178.5" r="9.32"/>
<circle class="g" cx="1652.0" cy="182.5" r="9.32"/>
<circle class="g" cx="2327.2" cy="191.8" r="9.32"/>
<circle class="u" cx="2399.2" cy="155.7" r="9.32"/>
<circle class="c" cx="1304.0" cy="185.0" r="9.32"/>
<circle class="u" cx="2295.1" cy="154.9" r="9.32"/>
<circle class="g" cx="2370.7" cy="254.8" r="9.32"/>
<circle class="u" cx="1427.0" cy="192.5" r="9.32"/>
<circle class="u" cx="557.8" cy="154.4" r="9.32"/>
<circle class="u" cx="2788.0" cy="230.0" r="9.32"/>
<circle class="g" cx="2440.3" cy="347.7" r="9.32"/>
<circle class="g" cx="2327.0" cy="319.7" r="9.32"/>
<circle class="u" cx="1418.3" cy="180.0" r="9.32"/>
<circle class="u" cx="539.2" cy="153.8" r="9.32"/>
<circle class="u" cx="2257.2" cy="257.2" r="9.32"/>
<circle class="u" cx="3080.5" cy="154.5" r="9.32"/>
<circle class="p" cx="1378.5" cy="331.2" r="9.32"/>
<circle class="g" cx="1919.5" cy="180.0" r="9.32"/>
<circle class="p" cx="1339.5" cy="175.6" r="9.32"/>
<circle class="m" cx="2282.5" cy="154.2" r="9.32"/>
<circle class="c" cx="2673.0" cy="250.0" r="9.32"/>
<circle class="u" cx="760.7" cy="154.1" r="9.32"/>
<circle class="g" cx="1883.1" cy="248.3" r="9.32"/>
<circle class="u" cx="1334.8" cy="153.8" r="9.32"/>
<circle class="u" cx="2549.8" cy="154.9" r="9.32"/>
<circle class="c" cx="2889.9" cy="156.7" r="9.32"/>
<circle class="u" cx="2355.7" cy="202.0" r="9.32"/>
<circle class="g" cx="2629.2" cy="336.2" r="9.32"/>
<circle class="u" cx="2778.0" cy="302.0" r="9.32"/>
<circle class="g" cx="2399.0" cy="212.6" r="9.32"/>
<circle class="g" cx="2234.3" cy="155.3" r="9.32"/>
<circle class="u" cx="1057.8" cy="212.0" r="9.32"/>
<circle class="p" cx="2275.8" cy="217.5" r="9.32"/>
<circle class="g" cx="2263.7" cy="156.5" r="9.32"/>
<circle class="u" cx="2153.1" cy="472.7" r="9.32"/>
<circle class="c" cx="692.6" cy="153.5" r="9.32"/>
<circle class="p" cx="1757.0" cy="171.5" r="9.32"/>
<circle class="g" cx="2403.0" cy="232.3" r="9.32"/>
<circle class="u" cx="2052.8" cy="183.5" r="9.32"/>
<circle class="g" cx="1944.1" cy="237.0" r="9.32"/>
<circle class="p" cx="1926.3" cy="169.6" r="9.32"/>
<circle class="u" cx="1060.2" cy="245.8" r="9.32"/>
<circle class="g" cx="2406.6" cy="216.5" r="9.32"/>
<circle class="p" cx="1288.8" cy="153.9" r="9.32"/>
<circle class="g" cx="2307.4" cy="317.2" r="9.32"/>
<circle class="p" cx="1843.3" cy="165.1" r="9.32"/>
<circle class="u" cx="2141.2" cy="597.0" r="9.32"/>
<circle class="p" cx="1345.3" cy="181.5" r="9.32"/>
<circle class="p" cx="1765.7" cy="173.5" r="9.32"/>
<circle class="u" cx="1984.5" cy="157.5" r="9.32"/>
<circle class="g" cx="1071.5" cy="168.0" r="9.32"/>
<circle class="u" cx="2744.2" cy="250.0" r="9.32"/>
<circle class="p" cx="2260.8" cy="159.4" r="9.32"/>
<circle class="g" cx="2153.2" cy="319.6" r="9.32"/>
<circle class="u" cx="2136.6" cy="200.7" r="9.32"/>
<circle class="u" cx="2919.3" cy="155.0" r="9.32"/>
<circle class="g" cx="1421.2" cy="265.1" r="9.32"/>
<circle class="u" cx="1438.1" cy="188.4" r="9.32"/>
<circle class="u" cx="1707.8" cy="258.8" r="9.32"/>
<circle class="p" cx="2169.5" cy="192.6" r="9.32"/>
<circle class="u" cx="786.4" cy="154.5" r="9.32"/>
<circle class="g" cx="1744.5" cy="260.0" r="9.32"/>
<circle class="p" cx="728.5" cy="153.8" r="9.32"/>
<circle class="u" cx="1239.5" cy="153.9" r="9.32"/>
<circle class="p" cx="2440.7" cy="247.5" r="9.32"/>
<circle class="g" cx="1967.0" cy="252.8" r="9.32"/>
<circle class="g" cx="1507.0" cy="226.2" r="9.32"/>
<circle class="m" cx="488.5" cy="153.8" r="9.32"/>
<circle class="p" cx="2242.2" cy="184.6" r="9.32"/>
<circle class="g" cx="2072.7" cy="489.9" r="9.32"/>
<circle class="g" cx="1426.4" cy="252.6" r="9.32"/>
<circle class="p" cx="1779.8" cy="173.8" r="9.32"/>
<circle class="u" cx="1106.5" cy="153.8" r="9.32"/>
<circle class="u" cx="2741.2" cy="203.0" r="9.32"/>
<circle class="g" cx="2298.4" cy="328.6" r="9.32"/>
<circle class="u" cx="2295.6" cy="183.6" r="9.32"/>
<circle class="c" cx="3036.8" cy="153.8" r="9.32"/>
<circle class="g" cx="1232.3" cy="156.2" r="9.32"/>
<circle class="g" cx="2254.1" cy="294.0" r="9.32"/>
<circle class="g" cx="1191.5" cy="197.5" r="9.32"/>
<circle class="u" cx="2065.7" cy="442.7" r="9.32"/>
<circle class="c" cx="1959.5" cy="218.8" r="9.32"/>
<circle class="u" cx="1231.9" cy="158.9" r="9.32"/>
<circle class="u" cx="1451.4" cy="243.2" r="9.32"/>
<circle class="u" cx="2051.1" cy="153.6" r="9.32"/>
<circle class="g" cx="1419.9" cy="173.9" r="9.32"/>
<circle class="g" cx="2172.2" cy="314.5" r="9.32"/>
<circle class="g" cx="2316.2" cy="212.6" r="9.32"/>
<circle class="g" cx="1565.3" cy="175.0" r="9.32"/>
<circle class="u" cx="2024.0" cy="155.5" r="9.32"/>
<circle class="g" cx="1395.6" cy="168.7" r="9.32"/>
<circle class="c" cx="749.2" cy="195.5" r="9.32"/>
<circle class="u" cx="2402.1" cy="193.3" r="9.32"/>
<circle class="u" cx="672.8" cy="422.0" r="9.32"/>
<circle class="g" cx="2305.7" cy="207.5" r="9.32"/>
<circle class="p" cx="2053.8" cy="204.4" r="9.32"/>
<circle class="u" cx="514.4" cy="155.1" r="9.32"/>
<circle class="u" cx="587.0" cy="155.4" r="9.32"/>
<circle class="u" cx="2848.9" cy="154.1" r="9.32"/>
<circle class="g" cx="2623.0" cy="257.5" r="9.32"/>
<circle class="u" cx="1157.0" cy="209.5" r="9.32"/>
<circle class="u" cx="1454.5" cy="238.6" r="9.32"/>
<circle class="u" cx="2474.7" cy="538.3" r="9.32"/>
<circle class="p" cx="1957.2" cy="250.3" r="9.32"/>
<circle class="c" cx="2792.7" cy="155.1" r="9.32"/>
<circle class="p" cx="1349.2" cy="188.7" r="9.32"/>
<circle class="g" cx="1758.8" cy="181.4" r="9.32"/>
<circle class="g" cx="2293.1" cy="299.3" r="9.32"/>
<circle class="c" cx="796.8" cy="180.0" r="9.32"/>
<circle class="p" cx="1944.5" cy="177.5" r="9.32"/>
<circle class="u" cx="2422.9" cy="178.8" r="9.32"/>
<circle class="u" cx="2596.8" cy="155.0" r="9.32"/>
<circle class="c" cx="2800.5" cy="155.0" r="9.32"/>
<circle class="u" cx="2382.6" cy="155.5" r="9.32"/>
<circle class="u" cx="1329.0" cy="197.5" r="9.32"/>
<circle class="u" cx="679.1" cy="156.7" r="9.32"/>
<circle class="u" cx="2381.0" cy="280.4" r="9.32"/>
<circle class="u" cx="666.0" cy="207.5" r="9.32"/>
<circle class="c" cx="1849.0" cy="215.0" r="9.32"/>
<circle class="g" cx="2418.5" cy="191.1" r="9.32"/>
<circle class="g" cx="1924.5" cy="250.0" r="9.32"/>
<circle class="p" cx="1951.0" cy="165.0" r="9.32"/>
<circle class="c" cx="2688.8" cy="154.5" r="9.32"/>
<circle class="g" cx="2202.9" cy="281.4" r="9.32"/>
<circle class="g" cx="2114.8" cy="374.4" r="9.32"/>
<circle class="p" cx="2073.9" cy="200.8" r="9.32"/>
<circle class="g" cx="1695.8" cy="228.0" r="9.32"/>
<circle class="g" cx="2288.3" cy="384.6" r="9.32"/>
<circle class="g" cx="1489.6" cy="167.1" r="9.32"/>
<circle class="c" cx="2728.8" cy="355.5" r="9.32"/>
<circle class="u" cx="1306.5" cy="320.0" r="9.32"/>
<circle class="g" cx="2082.2" cy="154.1" r="9.32"/>
<circle class="u" cx="1134.0" cy="154.4" r="9.32"/>
<circle class="p" cx="1324.6" cy="159.8" r="9.32"/>
<circle class="u" cx="2302.5" cy="154.2" r="9.32"/>
<circle class="u" cx="2267.9" cy="346.4" r="9.32"/>
<circle class="u" cx="1893.9" cy="913.0" r="9.32"/>
<circle class="u" cx="2134.6" cy="205.2" r="9.32"/>
<circle class="u" cx="2808.0" cy="275.0" r="9.32"/>
<circle class="p" cx="1947.9" cy="248.6" r="9.32"/>
<circle class="g" cx="1121.3" cy="154.7" r="9.32"/>
<circle class="c" cx="1138.5" cy="191.8" r="9.32"/>
<circle class="g" cx="1261.5" cy="180.0" r="9.32"/>
<circle class="g" cx="2333.4" cy="154.9" r="9.32"/>
<circle class="c" cx="1279.2" cy="174.8" r="9.32"/>
<circle class="g" cx="1358.7" cy="162.1" r="9.32"/>
<circle class="g" cx="756.8" cy="306.5" r="9.32"/>
<circle class="c" cx="2845.5" cy="154.5" r="9.32"/>
<circle class="u" cx="775.5" cy="155.0" r="9.32"/>
<circle class="g" cx="2159.4" cy="402.5" r="9.32"/>
<circle class="p" cx="1632.0" cy="165.0" r="9.32"/>
<circle class="g" cx="2245.5" cy="154.9" r="9.32"/>
<circle class="u" cx="1358.3" cy="154.7" r="9.32"/>
<circle class="u" cx="2796.5" cy="156.4" r="9.32"/>
<circle class="u" cx="2670.5" cy="382.5" r="9.32"/>
<circle class="u" cx="2434.5" cy="154.8" r="9.32"/>
<circle class="g" cx="1332.6" cy="172.5" r="9.32"/>
<circle class="u" cx="839.2" cy="155.1" r="9.32"/>
<circle class="u" cx="1390.0" cy="181.0" r="9.32"/>
<circle class="u" cx="2883.7" cy="154.6" r="9.32"/>
<circle class="p" cx="511.0" cy="155.4" r="9.32"/>
<circle class="m" cx="524.8" cy="153.9" r="9.32"/>
<circle class="u" cx="2821.8" cy="251.2" r="9.32"/>
<circle class="u" cx="2406.0" cy="212.2" r="9.32"/>
<circle class="g" cx="1909.5" cy="232.5" r="9.32"/>
<circle class="p" cx="1941.5" cy="173.7" r="9.32"/>
<circle class="g" cx="1457.0" cy="175.0" r="9.32"/>
<circle class="g" cx="2379.5" cy="242.3" r="9.32"/>
<circle class="u" cx="1481.1" cy="263.6" r="9.32"/>
<circle class="m" cx="561.0" cy="157.5" r="9.32"/>
<circle class="u" cx="2556.3" cy="156.0" r="9.32"/>
<circle class="u" cx="1340.8" cy="268.8" r="9.32"/>
<circle class="p" cx="2444.1" cy="274.6" r="9.32"/>
<circle class="u" cx="1276.5" cy="252.5" r="9.32"/>
<circle class="g" cx="1296.6" cy="494.4" r="9.32"/>
<circle class="g" cx="2342.8" cy="307.3" r="9.32"/>
<circle class="u" cx="2449.9" cy="340.0" r="9.32"/>
<circle class="g" cx="1347.3" cy="190.8" r="9.32"/>
<circle class="u" cx="2458.1" cy="155.6" r="9.32"/>
<circle class="u" cx="581.8" cy="154.7" r="9.32"/>
<circle class="g" cx="1449.5" cy="205.0" r="9.32"/>
<circle class="g" cx="2187.5" cy="233.4" r="9.32"/>
<circle class="p" cx="1935.7" cy="188.1" r="9.32"/>
<circle class="g" cx="2137.8" cy="403.8" r="9.32"/>
<circle class="p" cx="1929.5" cy="222.5" r="9.32"/>
<circle class="c" cx="2326.1" cy="258.6" r="9.32"/>
<circle class="u" cx="385.2" cy="156.0" r="9.32"/>
<circle class="u" cx="2324.0" cy="204.9" r="9.32"/>
<circle class="u" cx="1261.2" cy="154.5" r="9.32"/>
<circle class="g" cx="1472.4" cy="269.0" r="9.32"/>
<circle class="p" cx="1965.9" cy="180.9" r="9.32"/>
<circle class="u" cx="552.6" cy="154.3" r="9.32"/>
<circle class="g" cx="1459.2" cy="170.8" r="9.32"/>
<circle class="u" cx="522.7" cy="154.5" r="9.32"/>
<circle class="c" cx="1942.0" cy="160.0" r="9.32"/>
<circle class="p" cx="1338.9" cy="158.0" r="9.32"/>
<circle class="g" cx="1979.5" cy="187.5" r="9.32"/>
<circle class="g" cx="681.0" cy="192.5" r="9.32"/>
<circle class="g" cx="1210.2" cy="195.0" r="9.32"/>
<circle class="g" cx="2216.8" cy="384.6" r="9.32"/>
<circle class="c" cx="2905.6" cy="155.7" r="9.32"/>
<circle class="u" cx="1452.3" cy="190.5" r="9.32"/>
<circle class="g" cx="2728.0" cy="250.0" r="9.32"/>
<circle class="u" cx="2258.1" cy="155.2" r="9.32"/>
<circle class="g" cx="2092.7" cy="203.5" r="9.32"/>
<circle class="g" cx="1625.3" cy="178.1" r="9.32"/>
<circle class="u" cx="1216.9" cy="155.1" r="9.32"/>
<circle class="g" cx="2135.2" cy="328.5" r="9.32"/>
<circle class="p" cx="1852.0" cy="220.0" r="9.32"/>
<circle class="g" cx="2246.2" cy="455.4" r="9.32"/>
<circle class="g" cx="2252.8" cy="255.3" r="9.32"/>
<circle class="c" cx="1780.8" cy="166.2" r="9.32"/>
<circle class="g" cx="1463.2" cy="201.0" r="9.32"/>
<circle class="g" cx="2152.1" cy="285.6" r="9.32"/>
<circle class="p" cx="1322.7" cy="169.3" r="9.32"/>
<circle class="g" cx="1983.2" cy="166.2" r="9.32"/>
<circle class="c" cx="2899.2" cy="155.0" r="9.32"/>
<circle class="u" cx="889.0" cy="160.8" r="9.32"/>
<circle class="c" cx="1684.5" cy="180.0" r="9.32"/>
<circle class="g" cx="2148.5" cy="243.2" r="9.32"/>
<circle class="c" cx="2790.5" cy="154.5" r="9.32"/>
<circle class="m" cx="2466.8" cy="155.4" r="9.32"/>
<circle class="c" cx="1468.2" cy="154.7" r="9.32"/>
<circle class="g" cx="2036.9" cy="200.9" r="9.32"/>
<circle class="u" cx="1145.6" cy="155.1" r="9.32"/>
<circle class="g" cx="2356.0" cy="198.7" r="9.32"/>
<circle class="u" cx="637.5" cy="154.4" r="9.32"/>
<circle class="g" cx="2434.1" cy="181.9" r="9.32"/>
<circle class="u" cx="626.3" cy="155.4" r="9.32"/>
<circle class="g" cx="2618.0" cy="250.0" r="9.32"/>
<circle class="g" cx="1949.5" cy="247.5" r="9.32"/>
<circle class="p" cx="2127.2" cy="168.9" r="9.32"/>
<circle class="g" cx="2396.6" cy="155.5" r="9.32"/>
<circle class="c" cx="1809.5" cy="176.2" r="9.32"/>
<circle class="g" cx="662.2" cy="182.0" r="9.32"/>
<circle class="u" cx="1504.3" cy="257.2" r="9.32"/>
<circle class="c" cx="1166.3" cy="154.0" r="9.32"/>
<circle class="c" cx="2390.0" cy="156.2" r="9.32"/>
<circle class="c" cx="706.0" cy="182.5" r="9.32"/>
<circle class="u" cx="2338.4" cy="234.7" r="9.32"/>
<circle class="g" cx="1898.7" cy="165.8" r="9.32"/>
<circle class="u" cx="2329.7" cy="297.8" r="9.32"/>
<circle class="c" cx="2807.9" cy="153.6" r="9.32"/>
<circle class="p" cx="1298.5" cy="180.7" r="9.32"/>
<circle class="g" cx="1945.9" cy="176.9" r="9.32"/>
<circle class="g" cx="1772.0" cy="233.8" r="9.32"/>
<circle class="g" cx="2691.8" cy="347.5" r="9.32"/>
<circle class="c" cx="2748.0" cy="273.8" r="9.32"/>
<circle class="u" cx="2204.4" cy="218.7" r="9.32"/>
<circle class="g" cx="1181.5" cy="155.5" r="9.32"/>
<circle class="p" cx="2360.3" cy="242.0" r="9.32"/>
<circle class="c" cx="2465.8" cy="343.2" r="9.32"/>
<circle class="u" cx="679.4" cy="155.2" r="9.32"/>
<circle class="u" cx="1240.0" cy="155.2" r="9.32"/>
<circle class="u" cx="1930.8" cy="155.3" r="9.32"/>
<circle class="u" cx="2282.9" cy="267.0" r="9.32"/>
<circle class="g" cx="2381.3" cy="191.3" r="9.32"/>
<circle class="g" cx="1868.1" cy="174.4" r="9.32"/>
<circle class="u" cx="2132.0" cy="466.3" r="9.32"/>
<circle class="p" cx="1327.2" cy="162.6" r="9.32"/>
<circle class="g" cx="2170.7" cy="321.0" r="9.32"/>
<circle class="p" cx="1358.2" cy="178.5" r="9.32"/>
<circle class="g" cx="1337.7" cy="155.3" r="9.32"/>
<circle class="p" cx="1814.8" cy="235.4" r="9.32"/>
<circle class="u" cx="979.0" cy="345.0" r="9.32"/>
<circle class="c" cx="2898.1" cy="154.3" r="9.32"/>
<circle class="p" cx="1225.0" cy="158.3" r="9.32"/>
<circle class="u" cx="2790.8" cy="153.7" r="9.32"/>
<circle class="u" cx="628.3" cy="154.3" r="9.32"/>
<circle class="u" cx="2238.5" cy="235.6" r="9.32"/>
<circle class="u" cx="2047.0" cy="177.8" r="9.32"/>
<circle class="u" cx="498.4" cy="154.5" r="9.32"/>
<circle class="u" cx="1464.5" cy="220.0" r="9.32"/>
<circle class="u" cx="2199.7" cy="228.8" r="9.32"/>
<circle class="p" cx="1297.5" cy="153.7" r="9.32"/>
<circle class="u" cx="2958.0" cy="153.8" r="9.32"/>
<circle class="u" cx="2803.5" cy="440.5" r="9.32"/>
<circle class="g" cx="1779.1" cy="184.7" r="9.32"/>
<circle class="u" cx="729.6" cy="156.3" r="9.32"/>
<circle class="g" cx="1952.9" cy="174.5" r="9.32"/>
<circle class="g" cx="660.2" cy="274.2" r="9.32"/>
<circle class="u" cx="693.0" cy="154.0" r="9.32"/>
<circle class="c" cx="711.6" cy="156.3" r="9.32"/>
<circle class="g" cx="1244.4" cy="168.5" r="9.32"/>
<circle class="u" cx="1610.5" cy="170.1" r="9.32"/>
<circle class="u" cx="688.9" cy="153.7" r="9.32"/>
<circle class="p" cx="1494.9" cy="171.0" r="9.32"/>
<circle class="g" cx="2735.5" cy="260.0" r="9.32"/>
<circle class="g" cx="2399.9" cy="227.0" r="9.32"/>
<circle class="u" cx="937.8" cy="156.8" r="9.32"/>
<circle class="p" cx="1358.7" cy="156.0" r="9.32"/>
<circle class="u" cx="695.0" cy="235.0" r="9.32"/>
<circle class="g" cx="2267.7" cy="323.1" r="9.32"/>
<circle class="p" cx="1537.0" cy="187.5" r="9.32"/>
<circle class="u" cx="3001.8" cy="155.0" r="9.32"/>
<circle class="u" cx="2170.9" cy="482.2" r="9.32"/>
<circle class="c" cx="711.0" cy="176.2" r="9.32"/>
<circle class="p" cx="1913.1" cy="214.9" r="9.32"/>
<circle class="p" cx="1331.0" cy="185.7" r="9.32"/>
<circle class="g" cx="2768.0" cy="257.5" r="9.32"/>
<circle class="u" cx="2168.4" cy="454.2" r="9.32"/>
<circle class="c" cx="1190.2" cy="153.8" r="9.32"/>
<circle class="u" cx="2184.2" cy="230.5" r="9.32"/>
<circle class="g" cx="1994.5" cy="182.5" r="9.32"/>
<circle class="p" cx="2143.8" cy="187.3" r="9.32"/>
<circle class="u" cx="1170.2" cy="176.2" r="9.32"/>
<circle class="u" cx="2046.5" cy="154.7" r="9.32"/>
<circle class="g" cx="2188.8" cy="301.7" r="9.32"/>
<circle class="g" cx="1817.3" cy="170.5" r="9.32"/>
<circle class="g" cx="2312.1" cy="213.5" r="9.32"/>
<circle class="g" cx="2130.1" cy="402.5" r="9.32"/>
<circle class="g" cx="1463.4" cy="269.5" r="9.32"/>
<circle class="u" cx="2018.9" cy="155.1" r="9.32"/>
<circle class="c" cx="2785.5" cy="252.5" r="9.32"/>
<circle class="c" cx="706.0" cy="160.0" r="9.32"/>
<circle class="c" cx="1915.8" cy="158.8" r="9.32"/>
<circle class="p" cx="1400.0" cy="172.1" r="9.32"/>
<circle class="c" cx="3021.0" cy="154.0" r="9.32"/>
<circle class="p" cx="2259.3" cy="155.3" r="9.32"/>
<circle class="g" cx="1251.6" cy="169.7" r="9.32"/>
<circle class="u" cx="2405.3" cy="181.0" r="9.32"/>
<circle class="p" cx="1300.1" cy="182.2" r="9.32"/>
<circle class="g" cx="609.4" cy="155.4" r="9.32"/>
<circle class="p" cx="1759.5" cy="270.0" r="9.32"/>
<circle class="u" cx="2037.0" cy="526.9" r="9.32"/>
<circle class="u" cx="2284.4" cy="417.2" r="9.32"/>
<circle class="g" cx="2098.5" cy="221.4" r="9.32"/>
<circle class="p" cx="1998.5" cy="167.5" r="9.32"/>
<circle class="g" cx="1244.0" cy="176.2" r="9.32"/>
<circle class="g" cx="2302.6" cy="289.0" r="9.32"/>
<circle class="c" cx="2474.7" cy="384.0" r="9.32"/>
<circle class="g" cx="1305.7" cy="167.9" r="9.32"/>
<circle class="g" cx="2246.2" cy="401.2" r="9.32"/>
<circle class="c" cx="2863.0" cy="153.8" r="9.32"/>
<circle class="u" cx="1265.2" cy="185.1" r="9.32"/>
<circle class="g" cx="1506.2" cy="186.6" r="9.32"/>
<circle class="u" cx="2516.8" cy="271.4" r="9.32"/>
<circle class="g" cx="1193.5" cy="160.8" r="9.32"/>
<circle class="g" cx="2321.6" cy="314.8" r="9.32"/>
<circle class="u" cx="1238.3" cy="156.0" r="9.32"/>
<circle class="g" cx="2688.0" cy="242.5" r="9.32"/>
<circle class="g" cx="1874.5" cy="170.0" r="9.32"/>
<circle class="p" cx="1936.4" cy="187.8" r="9.32"/>
<circle class="p" cx="1359.9" cy="169.3" r="9.32"/>
<circle class="g" cx="1736.8" cy="265.0" r="9.32"/>
<circle class="u" cx="2278.1" cy="155.6" r="9.32"/>
<circle class="c" cx="2921.3" cy="157.1" r="9.32"/>
<circle class="u" cx="1099.2" cy="155.4" r="9.32"/>
<circle class="g" cx="635.2" cy="197.5" r="9.32"/>
<circle class="p" cx="1462.8" cy="216.3" r="9.32"/>
<circle class="c" cx="2760.5" cy="154.5" r="9.32"/>
<circle class="c" cx="2462.6" cy="371.9" r="9.32"/>
<circle class="u" cx="1209.0" cy="155.0" r="9.32"/>
<circle class="c" cx="1042.8" cy="163.8" r="9.32"/>
<circle class="g" cx="1424.3" cy="206.1" r="9.32"/>
<circle class="g" cx="2177.8" cy="154.9" r="9.32"/>
<circle class="u" cx="2504.6" cy="154.4" r="9.32"/>
<circle class="u" cx="2449.6" cy="156.6" r="9.32"/>
<circle class="u" cx="1029.0" cy="154.5" r="9.32"/>
<circle class="p" cx="1491.4" cy="224.1" r="9.32"/>
<circle class="g" cx="1362.8" cy="319.5" r="9.32"/>
<circle class="u" cx="2823.8" cy="155.0" r="9.32"/>
<circle class="p" cx="1300.2" cy="175.3" r="9.32"/>
<circle class="g" cx="2146.7" cy="388.5" r="9.32"/>
<circle class="c" cx="2204.7" cy="156.1" r="9.32"/>
<circle class="p" cx="1310.3" cy="181.6" r="9.32"/>
<circle class="p" cx="1503.7" cy="174.2" r="9.32"/>
<circle class="u" cx="2193.1" cy="264.3" r="9.32"/>
<circle class="g" cx="2104.3" cy="157.0" r="9.32"/>
<circle class="g" cx="2760.5" cy="265.0" r="9.32"/>
<circle class="c" cx="1336.3" cy="173.1" r="9.32"/>
<circle class="g" cx="658.5" cy="210.0" r="9.32"/>
<circle class="g" cx="1713.0" cy="172.9" r="9.32"/>
<circle class="g" cx="1461.1" cy="209.4" r="9.32"/>
<circle class="u" cx="2494.5" cy="387.2" r="9.32"/>
<circle class="c" cx="691.0" cy="154.8" r="9.32"/>
<circle class="u" cx="2778.0" cy="280.0" r="9.32"/>
<circle class="u" cx="2095.1" cy="217.1" r="9.32"/>
<circle class="u" cx="2104.0" cy="465.6" r="9.32"/>
<circle class="g" cx="1970.8" cy="236.5" r="9.32"/>
<circle class="u" cx="1172.8" cy="201.2" r="9.32"/>
<circle class="g" cx="1260.6" cy="185.3" r="9.32"/>
<circle class="p" cx="2066.6" cy="201.7" r="9.32"/>
<circle class="g" cx="1672.0" cy="182.5" r="9.32"/>
<circle class="p" cx="1955.6" cy="235.0" r="9.32"/>
<circle class="p" cx="2316.9" cy="234.4" r="9.32"/>
<circle class="u" cx="2781.8" cy="358.0" r="9.32"/>
<circle class="u" cx="2134.7" cy="155.9" r="9.32"/>
<circle class="p" cx="1307.2" cy="164.1" r="9.32"/>
<circle class="p" cx="1316.4" cy="172.8" r="9.32"/>
<circle class="p" cx="2230.5" cy="226.0" r="9.32"/>
<circle class="p" cx="1310.8" cy="159.2" r="9.32"/>
<circle class="p" cx="2031.1" cy="206.9" r="9.32"/>
<circle class="u" cx="2224.5" cy="488.6" r="9.32"/>
<circle class="g" cx="2255.1" cy="371.9" r="9.32"/>
<line class="g1" x1="371.60" x2="371.60" y1="109.5" y2="1085"/>
<line class="g1" x1="820.30" x2="820.30" y1="109.5" y2="1085"/>
<line class="g1" x1="1269.00" x2="1269.00" y1="109.5" y2="1085"/>
<line class="g1" x1="1717.70" x2="1717.70" y1="109.5" y2="1085"/>
<line class="g1" x1="2166.40" x2="2166.40" y1="109.5" y2="1085"/>
<line class="g1" x1="2615.10" x2="2615.10" y1="109.5" y2="1085"/>
<line class="g1" x1="3063.80" x2="3063.80" y1="109.5" y2="1085"/>
<line class="g1" x1="3512.50" x2="3512.50" y1="109.5" y2="1085"/>
<line class="g1" x1="236.5" x2="3535.5" y1="153.50" y2="153.50"/>
<line class="g1" x1="236.5" x2="3535.5" y1="367.75" y2="367.75"/>
<line class="g1" x1="236.5" x2="3535.5" y1="582.00" y2="582.00"/>
<line class="g1" x1="236.5" x2="3535.5" y1="796.25" y2="796.25"/>
<line class="g1" x1="236.5" x2="3535.5" y1="1010.50" y2="1010.50"/>
<line class="vl" stroke="#FFC0CB" x1="638" x2="638" y1="1085" y2="109.5"/>
<line class="vl" stroke="#EE82EE" x1="1057.75" x2="1057.75" y1="1085" y2="109.5"/>
<line class="vl" stroke="#A52A2A" x1="1397" x2="1397" y1="1085" y2="109.5"/>
<line class="vl" stroke="#0000FF" x1="1762" x2="1762" y1="1085" y2="109.5"/>
<line class="vl" stroke="#FFA500" x1="1865" x2="1865" y1="1085" y2="109.5"/>
<line class="vl" stroke="#87CEEB" x1="2145" x2="2145" y1="1085" y2="109.5"/>
<line class="vl" stroke="#FF0000" x1="2245" x2="2245" y1="1085" y2="109.5"/>
<line class="vl" stroke="#808080" x1="2316.25" x2="2316.25" y1="1085" y2="109.5"/>
<line class="vl" stroke="#008000" x1="2559.25" x2="2559.25" y1="1085" y2="109.5"/>
</g>
<line class="tk" x1="371.60" x2="371.60" y1="1085" y2="1099.6"/>
<text class="t" x="371.60" y="1147.3" text-anchor="middle">120</text>
<line class="tk" x1="820.30" x2="820.30" y1="1085" y2="1099.6"/>
<text class="t" x="820.30" y="1147.3" text-anchor="middle">125</text>
<line class="tk" x1="1269.00" x2="1269.00" y1="1085" y2="1099.6"/>
<text class="t" x="1269.00" y="1147.3" text-anchor="middle">130</text>
<line class="tk" x1="1717.70" x2="1717.70" y1="1085" y2="1099.6"/>
<text class="t" x="1717.70" y="1147.3" text-anchor="middle">135</text>
<line class="tk" x1="2166.40" x2="2166.40" y1="1085" y2="1099.6"/>
<text class="t" x="2166.40" y="1147.3" text-anchor="middle">140</text>
<line class="tk" x1="2615.10" x2="2615.10" y1="1085" y2="1099.6"/>
<text class="t" x="2615.10" y="1147.3" text-anchor="middle">145</text>
<line class="tk" x1="3063.80" x2="3063.80" y1="1085" y2="1099.6"/>
<text class="t" x="3063.80" y="1147.3" text-anchor="middle">150</text>
<line class="tk" x1="3512.50" x2="3512.50" y1="1085" y2="1099.6"/>
<text class="t" x="3512.50" y="1147.3" text-anchor="middle">155</text>
<line class="tk" x1="221.9" x2="236.5" y1="153.50" y2="153.50"/>
<text class="t" x="207.3" y="169.20" text-anchor="end">0</text>
<line class="tk" x1="221.9" x2="236.5" y1="367.75" y2="367.75"/>
<text class="t" x="207.3" y="383.45" text-anchor="end">100</text>
<line class="tk" x1="221.9" x2="236.5" y1="582.00" y2="582.00"/>
<text class="t" x="207.3" y="597.70" text-anchor="end">200</text>
<line class="tk" x1="221.9" x2="236.5" y1="796.25" y2="796.25"/>
<text class="t" x="207.3" y="811.95" text-anchor="end">300</text>
<line class="tk" x1="221.9" x2="236.5" y1="1010.50" y2="1010.50"/>
<text class="t" x="207.3" y="1026.20" text-anchor="end">400</text>
<rect class="sp" x="236.5" y="109.5" width="3299" height="975.5"/>
<rect x="256.5" y="747.6" width="368.8" height="315.2" rx="8.3" fill="#fff" fill-opacity="0.8" stroke="#ccc" stroke-opacity="0.8" stroke-width="4.17"/>
<rect x="270.8" y="765.0" width="87.3" height="32.7" fill="#E598B2"/>
<text class="lg" x="391" y="796.2">M &lt; 1</text>
<rect x="270.8" y="825.7" width="87.3" height="32.7" fill="#7B8D42"/>
<text class="lg" x="391" y="856.9">1 &lt;= M &lt; 2</text>
<rect x="270.8" y="886.4" width="87.3" height="32.7" fill="#6F58A3"/>
<text class="lg" x="391" y="917.6">2 &lt;= M &lt; 4</text>
<rect x="270.8" y="947.1" width="87.3" height="32.7" fill="#B24C97"/>
<text class="lg" x="391" y="978.3">4 &lt;= M &lt; 6</text>
<rect x="270.8" y="1007.8" width="87.3" height="32.7" fill="#A32040"/>
<text class="lg" x="391" y="1039.0">M &gt;= 6</text>
<text x="1184.5" y="83.3" style="font-size:52px;letter-spacing:1.3px">1998-03-01</text>
<text x="1487" y="83.5" style="font-size:49px;letter-spacing:1px">から</text>
<text x="1600" y="83.3" style="font-size:52px;letter-spacing:2.2px">1998-03-31</text>
<text x="1885.5" y="83.5" style="font-size:49px;letter-spacing:1px">の全国地震の経度と深さの関係</text>
<text class="j" x="1883.8" y="1202" text-anchor="middle">経度</text>
<text class="j" transform="translate(103 601) rotate(-90)" text-anchor="middle">深さ</text>
<g clip-path="url(#cb)">
<rect class="bar" x="385.30" y="2228.54" width="44.77" height="1.76"/>
<rect class="bar" x="430.07" y="2229.42" width="44.77" height="0.88"/>
<rect class="bar" x="474.84" y="2226.18" width="44.77" height="4.12"/>
<rect class="bar" x="519.61" y="2221.13" width="44.77" height="9.17"/>
<rect class="bar" x="564.38" y="2214.01" width="44.77" height="16.29"/>
<rect class="bar" x="609.15" y="2216.77" width="44.77" height="13.53"/>
<rect class="bar" x="653.92" y="2192.66" width="44.77" height="37.64"/>
<rect class="bar" x="698.69" y="2199.72" width="44.77" height="30.58"/>
<rect class="bar" x="743.46" y="2219.71" width="44.77" height="10.59"/>
<rect class="bar" x="788.23" y="2224.42" width="44.77" height="5.88"/>
<rect class="bar" x="833.00" y="2222.07" width="44.77" height="8.23"/>
<rect class="bar" x="877.77" y="2230.01" width="44.77" height="0.29"/>
<rect class="bar" x="922.54" y="2229.12" width="44.77" height="1.18"/>
<rect class="bar" x="967.31" y="2225.60" width="44.77" height="4.70"/>
<rect class="bar" x="1012.08" y="2221.48" width="44.77" height="8.82"/>
<rect class="bar" x="1056.85" y="2224.42" width="44.77" height="5.88"/>
<rect class="bar" x="1101.62" y="2219.71" width="44.77" height="10.59"/>
<rect class="bar" x="1146.39" y="2204.66" width="44.77" height="25.64"/>
<rect class="bar" x="1191.16" y="2196.19" width="44.77" height="34.11"/>
<rect class="bar" x="1235.93" y="2115.03" width="44.77" height="115.27"/>
<rect class="bar" x="1280.70" y="1301.10" width="44.77" height="929.20"/>
<rect class="bar" x="1325.47" y="2146.38" width="44.77" height="83.92"/>
<rect class="bar" x="1370.24" y="2177.96" width="44.77" height="52.34"/>
<rect class="bar" x="1415.01" y="2183.25" width="44.77" height="47.05"/>
<rect class="bar" x="1459.78" y="2183.25" width="44.77" height="47.05"/>
<rect class="bar" x="1504.55" y="2217.36" width="44.77" height="12.94"/>
<rect class="bar" x="1549.32" y="2218.54" width="44.77" height="11.76"/>
<rect class="bar" x="1594.09" y="2220.89" width="44.77" height="9.41"/>
<rect class="bar" x="1638.86" y="2209.72" width="44.77" height="20.58"/>
<rect class="bar" x="1683.63" y="2182.08" width="44.77" height="48.22"/>
<rect class="bar" x="1728.40" y="2077.98" width="44.77" height="152.32"/>
<rect class="bar" x="1773.17" y="2169.37" width="44.77" height="60.93"/>
<rect class="bar" x="1817.94" y="2207.95" width="44.77" height="22.35"/>
<rect class="bar" x="1862.71" y="2210.01" width="44.77" height="20.29"/>
<rect class="bar" x="1907.48" y="2133.26" width="44.77" height="97.04"/>
<rect class="bar" x="1952.25" y="2176.78" width="44.77" height="53.52"/>
<rect class="bar" x="1997.02" y="2180.90" width="44.77" height="49.40"/>
<rect class="bar" x="2041.79" y="2139.85" width="44.77" height="90.45"/>
<rect class="bar" x="2086.56" y="2013.06" width="44.77" height="217.24"/>
<rect class="bar" x="2131.33" y="2116.21" width="44.77" height="114.09"/>
<rect class="bar" x="2176.10" y="2141.03" width="44.77" height="89.27"/>
<rect class="bar" x="2220.87" y="2101.15" width="44.77" height="129.15"/>
<rect class="bar" x="2265.64" y="2124.56" width="44.77" height="105.74"/>
<rect class="bar" x="2310.41" y="2051.52" width="44.77" height="178.78"/>
<rect class="bar" x="2355.18" y="2103.51" width="44.77" height="126.79"/>
<rect class="bar" x="2399.95" y="2163.26" width="44.77" height="67.04"/>
<rect class="bar" x="2444.72" y="2208.54" width="44.77" height="21.76"/>
<rect class="bar" x="2489.49" y="2216.19" width="44.77" height="14.11"/>
<rect class="bar" x="2534.26" y="2210.89" width="44.77" height="19.41"/>
<rect class="bar" x="2579.03" y="2221.48" width="44.77" height="8.82"/>
<rect class="bar" x="2623.80" y="2216.48" width="44.77" height="13.82"/>
<rect class="bar" x="2668.57" y="2218.54" width="44.77" height="11.76"/>
<rect class="bar" x="2713.34" y="2204.42" width="44.77" height="25.88"/>
<rect class="bar" x="2758.11" y="2200.89" width="44.77" height="29.41"/>
<rect class="bar" x="2802.88" y="2199.72" width="44.77" height="30.58"/>
<rect class="bar" x="2847.65" y="2217.36" width="44.77" height="12.94"/>
<rect class="bar" x="2892.42" y="2225.60" width="44.77" height="4.70"/>
<rect class="bar" x="2937.19" y="2229.42" width="44.77" height="0.88"/>
<rect class="bar" x="2981.96" y="2228.54" width="44.77" height="1.76"/>
<rect class="bar" x="3026.73" y="2226.48" width="44.77" height="3.82"/>
<rect class="bar" x="3071.50" y="2228.54" width="44.77" height="1.76"/>
<rect class="bar" x="3116.27" y="2229.71" width="44.77" height="0.59"/>
<rect class="bar" x="3161.04" y="2230.01" width="44.77" height="0.29"/>
<rect class="bar" x="3205.81" y="2230.01" width="44.77" height="0.29"/>
<rect class="bar" x="3340.12" y="2229.12" width="44.77" height="1.18"/>
<line class="g2" x1="371.00" x2="371.00" y1="2230.3" y2="1255.4"/>
<line class="g2" x1="818.62" x2="818.62" y1="2230.3" y2="1255.4"/>
<line class="g2" x1="1266.23" x2="1266.23" y1="2230.3" y2="1255.4"/>
<line class="g2" x1="1713.85" x2="1713.85" y1="2230.3" y2="1255.4"/>
<line class="g2" x1="2161.46" x2="2161.46" y1="2230.3" y2="1255.4"/>
<line class="g2" x1="2609.07" x2="2609.07" y1="2230.3" y2="1255.4"/>
<line class="g2" x1="3056.69" x2="3056.69" y1="2230.3" y2="1255.4"/>
<line class="g2" x1="3504.30" x2="3504.30" y1="2230.3" y2="1255.4"/>
<line class="g2" x1="236.5" x2="3535.7" y1="2230.30" y2="2230.30"/>
<line class="g2" x1="236.5" x2="3535.7" y1="2112.68" y2="2112.68"/>
<line class="g2" x1="236.5" x2="3535.7" y1="1995.06" y2="1995.06"/>
<line class="g2" x1="236.5" x2="3535.7" y1="1877.44" y2="1877.44"/>
<line class="g2" x1="236.5" x2="3535.7" y1="1759.82" y2="1759.82"/>
<line class="g2" x1="236.5" x2="3535.7" y1="1642.20" y2="1642.20"/>
<line class="g2" x1="236.5" x2="3535.7" y1="1524.58" y2="1524.58"/>
<line class="g2" x1="236.5" x2="3535.7" y1="1406.96" y2="1406.96"/>
<line class="g2" x1="236.5" x2="3535.7" y1="1289.34" y2="1289.34"/>
<line class="vl" stroke="#FFC0CB" x1="638" x2="638" y1="2230.3" y2="1255.4"/>
<line class="vl" stroke="#EE82EE" x1="1055.9" x2="1055.9" y1="2230.3" y2="1255.4"/>
<line class="vl" stroke="#A52A2A" x1="1394" x2="1394" y1="2230.3" y2="1255.4"/>
<line class="vl" stroke="#0000FF" x1="1757.9" x2="1757.9" y1="2230.3" y2="1255.4"/>
<line class="vl" stroke="#FFA500" x1="1860.8" x2="1860.8" y1="2230.3" y2="1255.4"/>
<line class="vl" stroke="#87CEEB" x1="2140.2" x2="2140.2" y1="2230.3" y2="1255.4"/>
<line class="vl" stroke="#FF0000" x1="2239.7" x2="2239.7" y1="2230.3" y2="1255.4"/>
<line class="vl" stroke="#808080" x1="2310.9" x2="2310.9" y1="2230.3" y2="1255.4"/>
<line class="vl" stroke="#008000" x1="2553.9" x2="2553.9" y1="2230.3" y2="1255.4"/>
</g>
<line class="tk" x1="371.00" x2="371.00" y1="2230.3" y2="2244.9"/>
<text class="t" x="371.00" y="2291.9" text-anchor="middle">120</text>
<line class="tk" x1="818.62" x2="818.62" y1="2230.3" y2="2244.9"/>
<text class="t" x="818.62" y="2291.9" text-anchor="middle">125</text>
<line class="tk" x1="1266.23" x2="1266.23" y1="2230.3" y2="2244.9"/>
<text class="t" x="1266.23" y="2291.9" text-anchor="middle">130</text>
<line class="tk" x1="1713.85" x2="1713.85" y1="2230.3" y2="2244.9"/>
<text class="t" x="1713.85" y="2291.9" text-anchor="middle">135</text>
<line class="tk" x1="2161.46" x2="2161.46" y1="2230.3" y2="2244.9"/>
<text class="t" x="2161.46" y="2291.9" text-anchor="middle">140</text>
<line class="tk" x1="2609.07" x2="2609.07" y1="2230.3" y2="2244.9"/>
<text class="t" x="2609.07" y="2291.9" text-anchor="middle">145</text>
<line class="tk" x1="3056.69" x2="3056.69" y1="2230.3" y2="2244.9"/>
<text class="t" x="3056.69" y="2291.9" text-anchor="middle">150</text>
<line class="tk" x1="3504.30" x2="3504.30" y1="2230.3" y2="2244.9"/>
<text class="t" x="3504.30" y="2291.9" text-anchor="middle">155</text>
<line class="tk" x1="221.9" x2="236.5" y1="2230.30" y2="2230.30"/>
<text class="t" x="207.3" y="2246.00" text-anchor="end">0</text>
<line class="tk" x1="221.9" x2="236.5" y1="2112.68" y2="2112.68"/>
<text class="t" x="207.3" y="2128.38" text-anchor="end">200</text>
<line class="tk" x1="221.9" x2="236.5" y1="1995.06" y2="1995.06"/>
<text class="t" x="207.3" y="2010.76" text-anchor="end">400</text>
<line class="tk" x1="221.9" x2="236.5" y1="1877.44" y2="1877.44"/>
<text class="t" x="207.3" y="1893.14" text-anchor="end">600</text>
<line class="tk" x1="221.9" x2="236.5" y1="1759.82" y2="1759.82"/>
<text class="t" x="207.3" y="1775.52" text-anchor="end">800</text>
<line class="tk" x1="221.9" x2="236.5" y1="1642.20" y2="1642.20"/>
<text class="t" x="207.3" y="1657.90" text-anchor="end">1000</text>
<line class="tk" x1="221.9" x2="236.5" y1="1524.58" y2="1524.58"/>
<text class="t" x="207.3" y="1540.28" text-anchor="end">1200</text>
<line class="tk" x1="221.9" x2="236.5" y1="1406.96" y2="1406.96"/>
<text class="t" x="207.3" y="1422.66" text-anchor="end">1400</text>
<line class="tk" x1="221.9" x2="236.5" y1="1289.34" y2="1289.34"/>
<text class="t" x="207.3" y="1305.04" text-anchor="end">1600</text>
<rect class="sp" x="236.5" y="1255.4" width="3299.2" height="974.9"/>
<text class="j" x="1883.8" y="2347.7" text-anchor="middle">経度</text>
<text class="j" transform="translate(77.5 1745.5) rotate(-90)" text-anchor="middle">頻度</text>
</svg></body></html>
